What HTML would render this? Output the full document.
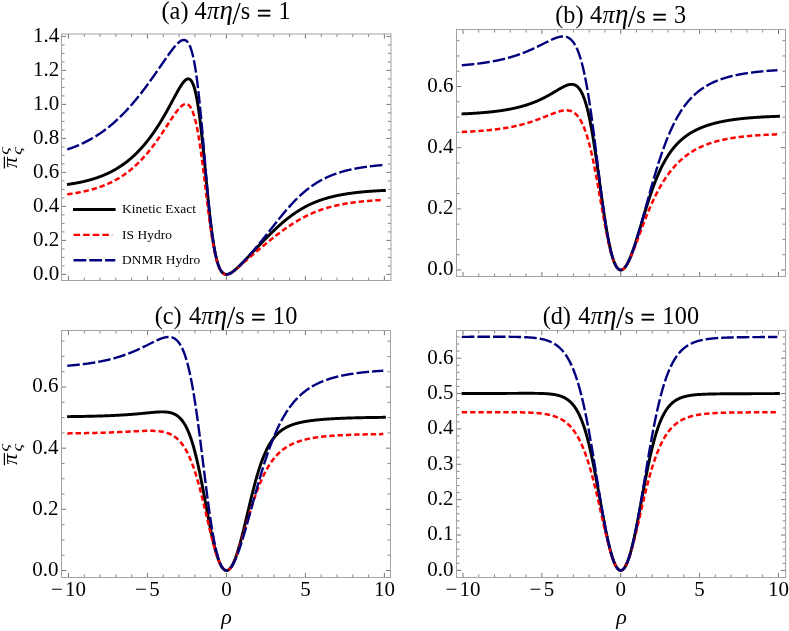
<!DOCTYPE html>
<html><head><meta charset="utf-8"><title>Gubser flow: shear stress comparison</title>
<style>
html,body{margin:0;padding:0;background:#fff;}
body{width:789px;height:631px;overflow:hidden;}
svg{display:block;will-change:transform;}
svg text{font-family:"Liberation Serif",serif;fill:#000;}
</style></head><body>
<svg width="789" height="631" viewBox="0 0 789 631">
<rect width="789" height="631" fill="#fff"/>
<g>
<clipPath id="cpa"><rect x="61.50" y="34.00" width="329.50" height="246.50"/></clipPath>
<g clip-path="url(#cpa)" fill="none" stroke-linejoin="round">
<path d="M67.03 184.52 L67.42 184.46 L67.80 184.41 L68.19 184.35 L68.58 184.30 L68.96 184.24 L69.35 184.18 L69.74 184.13 L70.12 184.07 L70.51 184.01 L70.90 183.95 L71.28 183.89 L71.67 183.82 L72.06 183.76 L72.44 183.70 L72.83 183.64 L73.22 183.57 L73.61 183.51 L73.99 183.44 L74.38 183.37 L74.77 183.30 L75.15 183.24 L75.54 183.17 L75.93 183.10 L76.31 183.03 L76.70 182.95 L77.09 182.88 L77.47 182.81 L77.86 182.73 L78.25 182.66 L78.63 182.58 L79.02 182.50 L79.41 182.43 L79.79 182.35 L80.18 182.27 L80.57 182.19 L80.95 182.10 L81.34 182.02 L81.73 181.94 L82.11 181.85 L82.50 181.77 L82.89 181.68 L83.27 181.59 L83.66 181.51 L84.05 181.42 L84.43 181.32 L84.82 181.23 L85.21 181.14 L85.59 181.05 L85.98 180.95 L86.37 180.85 L86.75 180.76 L87.14 180.66 L87.53 180.56 L87.91 180.46 L88.30 180.36 L88.69 180.25 L89.07 180.15 L89.46 180.04 L89.85 179.94 L90.23 179.83 L90.62 179.72 L91.01 179.61 L91.39 179.50 L91.78 179.38 L92.17 179.27 L92.55 179.15 L92.94 179.04 L93.33 178.92 L93.71 178.80 L94.10 178.68 L94.49 178.56 L94.87 178.43 L95.26 178.31 L95.65 178.18 L96.03 178.05 L96.42 177.92 L96.81 177.79 L97.20 177.66 L97.58 177.53 L97.97 177.39 L98.36 177.25 L98.74 177.11 L99.13 176.97 L99.52 176.83 L99.90 176.69 L100.29 176.54 L100.68 176.40 L101.06 176.25 L101.45 176.10 L101.84 175.95 L102.22 175.79 L102.61 175.64 L103.00 175.48 L103.38 175.32 L103.77 175.16 L104.16 175.00 L104.54 174.84 L104.93 174.67 L105.32 174.51 L105.70 174.34 L106.09 174.17 L106.48 173.99 L106.86 173.82 L107.25 173.64 L107.64 173.46 L108.02 173.28 L108.41 173.10 L108.80 172.91 L109.18 172.73 L109.57 172.54 L109.96 172.35 L110.34 172.15 L110.73 171.96 L111.12 171.76 L111.50 171.56 L111.89 171.36 L112.28 171.16 L112.66 170.95 L113.05 170.74 L113.44 170.53 L113.82 170.32 L114.21 170.11 L114.60 169.89 L114.98 169.67 L115.37 169.45 L115.76 169.22 L116.14 169.00 L116.53 168.77 L116.92 168.54 L117.30 168.30 L117.69 168.07 L118.08 167.83 L118.46 167.59 L118.85 167.34 L119.24 167.10 L119.63 166.85 L120.01 166.60 L120.40 166.35 L120.79 166.09 L121.17 165.83 L121.56 165.57 L121.95 165.30 L122.33 165.04 L122.72 164.77 L123.11 164.49 L123.49 164.22 L123.88 163.94 L124.27 163.66 L124.65 163.38 L125.04 163.09 L125.43 162.80 L125.81 162.51 L126.20 162.21 L126.59 161.91 L126.97 161.61 L127.36 161.31 L127.75 161.00 L128.13 160.69 L128.52 160.38 L128.91 160.06 L129.29 159.74 L129.68 159.42 L130.07 159.09 L130.45 158.76 L130.84 158.43 L131.23 158.10 L131.61 157.76 L132.00 157.42 L132.39 157.07 L132.77 156.72 L133.16 156.37 L133.55 156.02 L133.93 155.66 L134.32 155.30 L134.71 154.93 L135.09 154.57 L135.48 154.19 L135.87 153.82 L136.25 153.44 L136.64 153.06 L137.03 152.67 L137.41 152.28 L137.80 151.89 L138.19 151.49 L138.57 151.09 L138.96 150.69 L139.35 150.28 L139.73 149.87 L140.12 149.46 L140.51 149.04 L140.89 148.62 L141.28 148.19 L141.67 147.76 L142.05 147.33 L142.44 146.89 L142.83 146.45 L143.22 146.01 L143.60 145.56 L143.99 145.11 L144.38 144.65 L144.76 144.19 L145.15 143.73 L145.54 143.26 L145.92 142.79 L146.31 142.31 L146.70 141.83 L147.08 141.35 L147.47 140.86 L147.86 140.37 L148.24 139.87 L148.63 139.37 L149.02 138.87 L149.40 138.36 L149.79 137.85 L150.18 137.33 L150.56 136.81 L150.95 136.29 L151.34 135.76 L151.72 135.23 L152.11 134.69 L152.50 134.15 L152.88 133.61 L153.27 133.06 L153.66 132.50 L154.04 131.94 L154.43 131.38 L154.82 130.82 L155.20 130.25 L155.59 129.67 L155.98 129.09 L156.36 128.51 L156.75 127.92 L157.14 127.33 L157.52 126.74 L157.91 126.14 L158.30 125.53 L158.68 124.92 L159.07 124.31 L159.46 123.69 L159.84 123.07 L160.23 122.45 L160.62 121.82 L161.00 121.19 L161.39 120.55 L161.78 119.91 L162.16 119.26 L162.55 118.61 L162.94 117.96 L163.32 117.30 L163.71 116.64 L164.10 115.97 L164.48 115.31 L164.87 114.63 L165.26 113.96 L165.65 113.28 L166.03 112.59 L166.42 111.91 L166.81 111.22 L167.19 110.53 L167.58 109.83 L167.97 109.13 L168.35 108.43 L168.74 107.72 L169.13 107.02 L169.51 106.31 L169.90 105.60 L170.29 104.88 L170.67 104.17 L171.06 103.45 L171.45 102.73 L171.83 102.01 L172.22 101.29 L172.61 100.57 L172.99 99.85 L173.38 99.13 L173.77 98.40 L174.15 97.68 L174.54 96.96 L174.93 96.25 L175.31 95.53 L175.70 94.82 L176.09 94.11 L176.47 93.40 L176.86 92.70 L177.25 92.00 L177.63 91.31 L178.02 90.62 L178.41 89.95 L178.79 89.28 L179.18 88.61 L179.57 87.96 L179.95 87.32 L180.34 86.69 L180.73 86.07 L181.11 85.47 L181.50 84.88 L181.89 84.31 L182.27 83.76 L182.66 83.22 L183.05 82.71 L183.43 82.22 L183.82 81.75 L184.21 81.31 L184.59 80.90 L184.98 80.52 L185.37 80.17 L185.75 79.86 L186.14 79.58 L186.53 79.34 L186.91 79.15 L187.30 79.00 L187.69 78.90 L188.07 78.84 L188.46 78.85 L188.85 78.90 L189.24 79.02 L189.62 79.21 L190.01 79.45 L190.40 79.77 L190.78 80.17 L191.17 80.64 L191.56 81.19 L191.94 81.83 L192.33 82.56 L192.72 83.38 L193.10 84.30 L193.49 85.31 L193.88 86.43 L194.26 87.66 L194.65 89.00 L195.04 90.46 L195.42 92.03 L195.81 93.72 L196.20 95.53 L196.58 97.47 L196.97 99.53 L197.36 101.72 L197.74 104.03 L198.13 106.48 L198.52 109.05 L198.90 111.74 L199.29 114.57 L199.68 117.51 L200.06 120.57 L200.45 123.75 L200.84 127.04 L201.22 130.44 L201.61 133.93 L202.00 137.52 L202.38 141.20 L202.77 144.95 L203.16 148.77 L203.54 152.66 L203.93 156.59 L204.32 160.57 L204.70 164.58 L205.09 168.61 L205.48 172.65 L205.86 176.69 L206.25 180.72 L206.64 184.73 L207.02 188.71 L207.41 192.65 L207.80 196.54 L208.18 200.37 L208.57 204.13 L208.96 207.82 L209.34 211.43 L209.73 214.95 L210.12 218.37 L210.50 221.69 L210.89 224.91 L211.28 228.02 L211.67 231.02 L212.05 233.90 L212.44 236.67 L212.83 239.32 L213.21 241.86 L213.60 244.28 L213.99 246.58 L214.37 248.77 L214.76 250.84 L215.15 252.80 L215.53 254.65 L215.92 256.40 L216.31 258.03 L216.69 259.57 L217.08 261.01 L217.47 262.35 L217.85 263.60 L218.24 264.76 L218.63 265.84 L219.01 266.83 L219.40 267.75 L219.79 268.59 L220.17 269.36 L220.56 270.06 L220.95 270.69 L221.33 271.27 L221.72 271.78 L222.11 272.24 L222.49 272.65 L222.88 273.01 L223.27 273.32 L223.65 273.58 L224.04 273.81 L224.43 273.99 L224.81 274.14 L225.20 274.25 L225.59 274.33 L225.97 274.38 L226.36 274.40 L226.75 274.39 L227.13 274.36 L227.52 274.30 L227.91 274.21 L228.29 274.11 L228.68 273.99 L229.07 273.84 L229.45 273.68 L229.84 273.51 L230.23 273.31 L230.61 273.10 L231.00 272.88 L231.39 272.65 L231.77 272.40 L232.16 272.14 L232.55 271.87 L232.93 271.60 L233.32 271.31 L233.71 271.01 L234.10 270.70 L234.48 270.39 L234.87 270.07 L235.26 269.74 L235.64 269.41 L236.03 269.07 L236.42 268.73 L236.80 268.38 L237.19 268.02 L237.58 267.66 L237.96 267.30 L238.35 266.93 L238.74 266.56 L239.12 266.19 L239.51 265.81 L239.90 265.43 L240.28 265.05 L240.67 264.66 L241.06 264.28 L241.44 263.89 L241.83 263.50 L242.22 263.10 L242.60 262.71 L242.99 262.31 L243.38 261.91 L243.76 261.51 L244.15 261.11 L244.54 260.71 L244.92 260.31 L245.31 259.91 L245.70 259.50 L246.08 259.10 L246.47 258.69 L246.86 258.29 L247.24 257.88 L247.63 257.47 L248.02 257.06 L248.40 256.66 L248.79 256.25 L249.18 255.84 L249.56 255.43 L249.95 255.02 L250.34 254.61 L250.72 254.21 L251.11 253.80 L251.50 253.39 L251.88 252.98 L252.27 252.57 L252.66 252.16 L253.04 251.75 L253.43 251.34 L253.82 250.94 L254.20 250.53 L254.59 250.12 L254.98 249.71 L255.36 249.30 L255.75 248.90 L256.14 248.49 L256.52 248.08 L256.91 247.68 L257.30 247.27 L257.69 246.87 L258.07 246.46 L258.46 246.06 L258.85 245.65 L259.23 245.25 L259.62 244.84 L260.01 244.44 L260.39 244.04 L260.78 243.64 L261.17 243.24 L261.55 242.84 L261.94 242.43 L262.33 242.04 L262.71 241.64 L263.10 241.24 L263.49 240.84 L263.87 240.44 L264.26 240.05 L264.65 239.65 L265.03 239.26 L265.42 238.87 L265.81 238.47 L266.19 238.08 L266.58 237.69 L266.97 237.30 L267.35 236.91 L267.74 236.52 L268.13 236.14 L268.51 235.75 L268.90 235.36 L269.29 234.98 L269.67 234.60 L270.06 234.21 L270.45 233.83 L270.83 233.45 L271.22 233.08 L271.61 232.70 L271.99 232.32 L272.38 231.95 L272.77 231.58 L273.15 231.20 L273.54 230.83 L273.93 230.46 L274.31 230.10 L274.70 229.73 L275.09 229.36 L275.47 229.00 L275.86 228.64 L276.25 228.28 L276.63 227.92 L277.02 227.56 L277.41 227.21 L277.79 226.85 L278.18 226.50 L278.57 226.15 L278.95 225.80 L279.34 225.45 L279.73 225.11 L280.12 224.77 L280.50 224.42 L280.89 224.08 L281.28 223.74 L281.66 223.41 L282.05 223.07 L282.44 222.74 L282.82 222.41 L283.21 222.08 L283.60 221.75 L283.98 221.43 L284.37 221.11 L284.76 220.79 L285.14 220.47 L285.53 220.15 L285.92 219.84 L286.30 219.52 L286.69 219.21 L287.08 218.90 L287.46 218.60 L287.85 218.29 L288.24 217.99 L288.62 217.69 L289.01 217.39 L289.40 217.09 L289.78 216.80 L290.17 216.51 L290.56 216.22 L290.94 215.93 L291.33 215.65 L291.72 215.36 L292.10 215.08 L292.49 214.80 L292.88 214.53 L293.26 214.25 L293.65 213.98 L294.04 213.71 L294.42 213.44 L294.81 213.18 L295.20 212.91 L295.58 212.65 L295.97 212.39 L296.36 212.14 L296.74 211.88 L297.13 211.63 L297.52 211.38 L297.90 211.13 L298.29 210.89 L298.68 210.64 L299.06 210.40 L299.45 210.16 L299.84 209.92 L300.22 209.69 L300.61 209.46 L301.00 209.23 L301.38 209.00 L301.77 208.77 L302.16 208.55 L302.54 208.32 L302.93 208.10 L303.32 207.89 L303.71 207.67 L304.09 207.46 L304.48 207.25 L304.87 207.04 L305.25 206.83 L305.64 206.62 L306.03 206.42 L306.41 206.22 L306.80 206.02 L307.19 205.82 L307.57 205.63 L307.96 205.43 L308.35 205.24 L308.73 205.05 L309.12 204.86 L309.51 204.68 L309.89 204.50 L310.28 204.31 L310.67 204.13 L311.05 203.96 L311.44 203.78 L311.83 203.61 L312.21 203.43 L312.60 203.26 L312.99 203.09 L313.37 202.93 L313.76 202.76 L314.15 202.60 L314.53 202.44 L314.92 202.28 L315.31 202.12 L315.69 201.97 L316.08 201.81 L316.47 201.66 L316.85 201.51 L317.24 201.36 L317.63 201.21 L318.01 201.06 L318.40 200.92 L318.79 200.78 L319.17 200.64 L319.56 200.50 L319.95 200.36 L320.33 200.22 L320.72 200.09 L321.11 199.95 L321.49 199.82 L321.88 199.69 L322.27 199.56 L322.65 199.43 L323.04 199.31 L323.43 199.18 L323.81 199.06 L324.20 198.94 L324.59 198.82 L324.97 198.70 L325.36 198.58 L325.75 198.47 L326.14 198.35 L326.52 198.24 L326.91 198.13 L327.30 198.01 L327.68 197.91 L328.07 197.80 L328.46 197.69 L328.84 197.58 L329.23 197.48 L329.62 197.38 L330.00 197.27 L330.39 197.17 L330.78 197.07 L331.16 196.98 L331.55 196.88 L331.94 196.78 L332.32 196.69 L332.71 196.59 L333.10 196.50 L333.48 196.41 L333.87 196.32 L334.26 196.23 L334.64 196.14 L335.03 196.05 L335.42 195.97 L335.80 195.88 L336.19 195.80 L336.58 195.72 L336.96 195.63 L337.35 195.55 L337.74 195.47 L338.12 195.39 L338.51 195.31 L338.90 195.24 L339.28 195.16 L339.67 195.08 L340.06 195.01 L340.44 194.94 L340.83 194.86 L341.22 194.79 L341.60 194.72 L341.99 194.65 L342.38 194.58 L342.76 194.51 L343.15 194.44 L343.54 194.38 L343.92 194.31 L344.31 194.25 L344.70 194.18 L345.08 194.12 L345.47 194.06 L345.86 193.99 L346.24 193.93 L346.63 193.87 L347.02 193.81 L347.40 193.75 L347.79 193.69 L348.18 193.64 L348.56 193.58 L348.95 193.52 L349.34 193.47 L349.73 193.41 L350.11 193.36 L350.50 193.30 L350.89 193.25 L351.27 193.20 L351.66 193.15 L352.05 193.10 L352.43 193.05 L352.82 193.00 L353.21 192.95 L353.59 192.90 L353.98 192.85 L354.37 192.80 L354.75 192.76 L355.14 192.71 L355.53 192.66 L355.91 192.62 L356.30 192.57 L356.69 192.53 L357.07 192.49 L357.46 192.44 L357.85 192.40 L358.23 192.36 L358.62 192.32 L359.01 192.28 L359.39 192.24 L359.78 192.20 L360.17 192.16 L360.55 192.12 L360.94 192.08 L361.33 192.04 L361.71 192.00 L362.10 191.97 L362.49 191.93 L362.87 191.89 L363.26 191.86 L363.65 191.82 L364.03 191.79 L364.42 191.75 L364.81 191.72 L365.19 191.69 L365.58 191.65 L365.97 191.62 L366.35 191.59 L366.74 191.56 L367.13 191.53 L367.51 191.49 L367.90 191.46 L368.29 191.43 L368.67 191.40 L369.06 191.37 L369.45 191.34 L369.83 191.31 L370.22 191.29 L370.61 191.26 L370.99 191.23 L371.38 191.20 L371.77 191.18 L372.16 191.15 L372.54 191.12 L372.93 191.10 L373.32 191.07 L373.70 191.04 L374.09 191.02 L374.48 190.99 L374.86 190.97 L375.25 190.94 L375.64 190.92 L376.02 190.90 L376.41 190.87 L376.80 190.85 L377.18 190.83 L377.57 190.80 L377.96 190.78 L378.34 190.76 L378.73 190.74 L379.12 190.72 L379.50 190.70 L379.89 190.67 L380.28 190.65 L380.66 190.63 L381.05 190.61 L381.44 190.59 L381.82 190.57 L382.21 190.55 L382.60 190.53 L382.98 190.52 L383.37 190.50 L383.76 190.48 L384.14 190.46 L384.53 190.44 L384.92 190.42 L385.30 190.41 L385.69 190.39 L385.82 190.38" stroke="#000" stroke-width="2.95"/>
<path d="M67.22 194.31 L67.71 194.25 L68.19 194.18 L68.67 194.12 L69.16 194.05 L69.64 193.99 L70.12 193.92 L70.61 193.85 L71.09 193.78 L71.57 193.71 L72.06 193.63 L72.54 193.56 L73.02 193.49 L73.51 193.41 L73.99 193.33 L74.48 193.25 L74.96 193.17 L75.44 193.09 L75.93 193.01 L76.41 192.93 L76.89 192.85 L77.38 192.76 L77.86 192.67 L78.34 192.58 L78.83 192.50 L79.31 192.40 L79.79 192.31 L80.28 192.22 L80.76 192.12 L81.24 192.03 L81.73 191.93 L82.21 191.83 L82.69 191.73 L83.18 191.63 L83.66 191.52 L84.14 191.42 L84.63 191.31 L85.11 191.20 L85.59 191.09 L86.08 190.98 L86.56 190.87 L87.04 190.75 L87.53 190.64 L88.01 190.52 L88.49 190.40 L88.98 190.28 L89.46 190.15 L89.94 190.03 L90.43 189.90 L90.91 189.77 L91.39 189.64 L91.88 189.50 L92.36 189.37 L92.84 189.23 L93.33 189.09 L93.81 188.95 L94.29 188.81 L94.78 188.66 L95.26 188.52 L95.74 188.37 L96.23 188.22 L96.71 188.06 L97.20 187.91 L97.68 187.75 L98.16 187.59 L98.65 187.42 L99.13 187.26 L99.61 187.09 L100.10 186.92 L100.58 186.75 L101.06 186.58 L101.55 186.40 L102.03 186.22 L102.51 186.04 L103.00 185.85 L103.48 185.66 L103.96 185.47 L104.45 185.28 L104.93 185.08 L105.41 184.89 L105.90 184.69 L106.38 184.48 L106.86 184.27 L107.35 184.07 L107.83 183.85 L108.31 183.64 L108.80 183.42 L109.28 183.20 L109.76 182.97 L110.25 182.75 L110.73 182.51 L111.21 182.28 L111.70 182.04 L112.18 181.80 L112.66 181.56 L113.15 181.31 L113.63 181.06 L114.11 180.81 L114.60 180.55 L115.08 180.29 L115.56 180.03 L116.05 179.76 L116.53 179.49 L117.01 179.21 L117.50 178.94 L117.98 178.65 L118.46 178.37 L118.95 178.08 L119.43 177.78 L119.92 177.49 L120.40 177.19 L120.88 176.88 L121.37 176.57 L121.85 176.26 L122.33 175.94 L122.82 175.62 L123.30 175.30 L123.78 174.97 L124.27 174.63 L124.75 174.30 L125.23 173.95 L125.72 173.61 L126.20 173.26 L126.68 172.90 L127.17 172.54 L127.65 172.18 L128.13 171.81 L128.62 171.44 L129.10 171.06 L129.58 170.68 L130.07 170.29 L130.55 169.90 L131.03 169.50 L131.52 169.10 L132.00 168.69 L132.48 168.28 L132.97 167.87 L133.45 167.45 L133.93 167.02 L134.42 166.59 L134.90 166.16 L135.38 165.72 L135.87 165.27 L136.35 164.82 L136.83 164.36 L137.32 163.90 L137.80 163.44 L138.28 162.97 L138.77 162.49 L139.25 162.01 L139.73 161.52 L140.22 161.03 L140.70 160.53 L141.18 160.03 L141.67 159.52 L142.15 159.00 L142.64 158.49 L143.12 157.96 L143.60 157.43 L144.09 156.89 L144.57 156.35 L145.05 155.81 L145.54 155.26 L146.02 154.70 L146.50 154.13 L146.99 153.57 L147.47 152.99 L147.95 152.41 L148.44 151.83 L148.92 151.24 L149.40 150.64 L149.89 150.04 L150.37 149.43 L150.85 148.82 L151.34 148.20 L151.82 147.58 L152.30 146.95 L152.79 146.32 L153.27 145.68 L153.75 145.04 L154.24 144.39 L154.72 143.73 L155.20 143.07 L155.69 142.41 L156.17 141.74 L156.65 141.07 L157.14 140.39 L157.62 139.70 L158.10 139.02 L158.59 138.32 L159.07 137.63 L159.55 136.93 L160.04 136.22 L160.52 135.51 L161.00 134.80 L161.49 134.08 L161.97 133.36 L162.45 132.64 L162.94 131.91 L163.42 131.18 L163.90 130.45 L164.39 129.72 L164.87 128.98 L165.36 128.24 L165.84 127.50 L166.32 126.76 L166.81 126.02 L167.29 125.28 L167.77 124.53 L168.26 123.79 L168.74 123.05 L169.22 122.30 L169.71 121.56 L170.19 120.82 L170.67 120.09 L171.16 119.36 L171.64 118.63 L172.12 117.90 L172.61 117.18 L173.09 116.47 L173.57 115.76 L174.06 115.06 L174.54 114.37 L175.02 113.69 L175.51 113.02 L175.99 112.36 L176.47 111.71 L176.96 111.08 L177.44 110.46 L177.92 109.85 L178.41 109.27 L178.89 108.71 L179.37 108.16 L179.86 107.64 L180.34 107.15 L180.82 106.68 L181.31 106.24 L181.79 105.83 L182.27 105.46 L182.76 105.12 L183.24 104.82 L183.72 104.56 L184.21 104.35 L184.69 104.18 L185.17 104.06 L185.66 104.00 L186.14 104.00 L186.62 104.05 L187.11 104.17 L187.59 104.36 L188.07 104.63 L188.56 104.97 L189.04 105.39 L189.53 105.89 L190.01 106.49 L190.49 107.18 L190.98 107.97 L191.46 108.86 L191.94 109.86 L192.43 110.98 L192.91 112.20 L193.39 113.56 L193.88 115.03 L194.36 116.63 L194.84 118.37 L195.33 120.23 L195.81 122.24 L196.29 124.38 L196.78 126.66 L197.26 129.09 L197.74 131.65 L198.23 134.35 L198.71 137.19 L199.19 140.16 L199.68 143.26 L200.16 146.49 L200.64 149.84 L201.13 153.30 L201.61 156.87 L202.09 160.53 L202.58 164.28 L203.06 168.10 L203.54 172.00 L204.03 175.94 L204.51 179.93 L204.99 183.94 L205.48 187.97 L205.96 192.00 L206.44 196.02 L206.93 200.02 L207.41 203.97 L207.89 207.88 L208.38 211.72 L208.86 215.49 L209.34 219.18 L209.83 222.77 L210.31 226.26 L210.79 229.64 L211.28 232.90 L211.76 236.03 L212.25 239.04 L212.73 241.92 L213.21 244.66 L213.70 247.26 L214.18 249.73 L214.66 252.05 L215.15 254.24 L215.63 256.30 L216.11 258.22 L216.60 260.00 L217.08 261.66 L217.56 263.19 L218.05 264.60 L218.53 265.90 L219.01 267.08 L219.50 268.15 L219.98 269.12 L220.46 269.99 L220.95 270.77 L221.43 271.45 L221.91 272.06 L222.40 272.58 L222.88 273.02 L223.36 273.40 L223.85 273.71 L224.33 273.95 L224.81 274.14 L225.30 274.28 L225.78 274.36 L226.26 274.40 L226.75 274.39 L227.23 274.34 L227.71 274.26 L228.20 274.14 L228.68 273.99 L229.16 273.81 L229.65 273.60 L230.13 273.37 L230.61 273.12 L231.10 272.85 L231.58 272.56 L232.06 272.25 L232.55 271.92 L233.03 271.59 L233.51 271.24 L234.00 270.88 L234.48 270.51 L234.97 270.13 L235.45 269.74 L235.93 269.35 L236.42 268.95 L236.90 268.54 L237.38 268.14 L237.87 267.72 L238.35 267.31 L238.83 266.89 L239.32 266.46 L239.80 266.04 L240.28 265.62 L240.77 265.19 L241.25 264.76 L241.73 264.33 L242.22 263.91 L242.70 263.48 L243.18 263.05 L243.67 262.62 L244.15 262.19 L244.63 261.76 L245.12 261.34 L245.60 260.91 L246.08 260.48 L246.57 260.06 L247.05 259.63 L247.53 259.21 L248.02 258.79 L248.50 258.37 L248.98 257.94 L249.47 257.52 L249.95 257.11 L250.43 256.69 L250.92 256.27 L251.40 255.85 L251.88 255.44 L252.37 255.02 L252.85 254.61 L253.33 254.20 L253.82 253.78 L254.30 253.37 L254.78 252.96 L255.27 252.55 L255.75 252.14 L256.23 251.73 L256.72 251.33 L257.20 250.92 L257.69 250.51 L258.17 250.11 L258.65 249.70 L259.14 249.30 L259.62 248.89 L260.10 248.49 L260.59 248.09 L261.07 247.68 L261.55 247.28 L262.04 246.88 L262.52 246.48 L263.00 246.08 L263.49 245.68 L263.97 245.29 L264.45 244.89 L264.94 244.49 L265.42 244.10 L265.90 243.70 L266.39 243.31 L266.87 242.91 L267.35 242.52 L267.84 242.13 L268.32 241.73 L268.80 241.34 L269.29 240.95 L269.77 240.56 L270.25 240.18 L270.74 239.79 L271.22 239.40 L271.70 239.02 L272.19 238.63 L272.67 238.25 L273.15 237.87 L273.64 237.49 L274.12 237.11 L274.60 236.73 L275.09 236.35 L275.57 235.97 L276.05 235.60 L276.54 235.22 L277.02 234.85 L277.50 234.48 L277.99 234.11 L278.47 233.74 L278.95 233.38 L279.44 233.01 L279.92 232.65 L280.41 232.28 L280.89 231.92 L281.37 231.56 L281.86 231.21 L282.34 230.85 L282.82 230.50 L283.31 230.15 L283.79 229.80 L284.27 229.45 L284.76 229.10 L285.24 228.76 L285.72 228.42 L286.21 228.08 L286.69 227.74 L287.17 227.40 L287.66 227.07 L288.14 226.73 L288.62 226.40 L289.11 226.08 L289.59 225.75 L290.07 225.43 L290.56 225.11 L291.04 224.79 L291.52 224.47 L292.01 224.16 L292.49 223.84 L292.97 223.53 L293.46 223.23 L293.94 222.92 L294.42 222.62 L294.91 222.32 L295.39 222.02 L295.87 221.73 L296.36 221.43 L296.84 221.14 L297.32 220.85 L297.81 220.57 L298.29 220.29 L298.77 220.00 L299.26 219.73 L299.74 219.45 L300.22 219.18 L300.71 218.91 L301.19 218.64 L301.67 218.37 L302.16 218.11 L302.64 217.85 L303.13 217.59 L303.61 217.34 L304.09 217.09 L304.58 216.84 L305.06 216.59 L305.54 216.34 L306.03 216.10 L306.51 215.86 L306.99 215.62 L307.48 215.39 L307.96 215.16 L308.44 214.93 L308.93 214.70 L309.41 214.47 L309.89 214.25 L310.38 214.03 L310.86 213.81 L311.34 213.60 L311.83 213.39 L312.31 213.18 L312.79 212.97 L313.28 212.76 L313.76 212.56 L314.24 212.36 L314.73 212.16 L315.21 211.97 L315.69 211.77 L316.18 211.58 L316.66 211.39 L317.14 211.21 L317.63 211.02 L318.11 210.84 L318.59 210.66 L319.08 210.48 L319.56 210.31 L320.04 210.14 L320.53 209.96 L321.01 209.80 L321.49 209.63 L321.98 209.47 L322.46 209.30 L322.94 209.14 L323.43 208.99 L323.91 208.83 L324.39 208.68 L324.88 208.52 L325.36 208.37 L325.84 208.23 L326.33 208.08 L326.81 207.94 L327.30 207.79 L327.78 207.65 L328.26 207.52 L328.75 207.38 L329.23 207.25 L329.71 207.11 L330.20 206.98 L330.68 206.85 L331.16 206.73 L331.65 206.60 L332.13 206.48 L332.61 206.36 L333.10 206.23 L333.58 206.12 L334.06 206.00 L334.55 205.88 L335.03 205.77 L335.51 205.66 L336.00 205.55 L336.48 205.44 L336.96 205.33 L337.45 205.23 L337.93 205.12 L338.41 205.02 L338.90 204.92 L339.38 204.82 L339.86 204.72 L340.35 204.62 L340.83 204.53 L341.31 204.43 L341.80 204.34 L342.28 204.25 L342.76 204.16 L343.25 204.07 L343.73 203.98 L344.21 203.90 L344.70 203.81 L345.18 203.73 L345.66 203.65 L346.15 203.56 L346.63 203.48 L347.11 203.41 L347.60 203.33 L348.08 203.25 L348.56 203.18 L349.05 203.10 L349.53 203.03 L350.02 202.96 L350.50 202.89 L350.98 202.82 L351.47 202.75 L351.95 202.68 L352.43 202.61 L352.92 202.55 L353.40 202.48 L353.88 202.42 L354.37 202.36 L354.85 202.29 L355.33 202.23 L355.82 202.17 L356.30 202.11 L356.78 202.06 L357.27 202.00 L357.75 201.94 L358.23 201.89 L358.72 201.83 L359.20 201.78 L359.68 201.72 L360.17 201.67 L360.65 201.62 L361.13 201.57 L361.62 201.52 L362.10 201.47 L362.58 201.42 L363.07 201.37 L363.55 201.33 L364.03 201.28 L364.52 201.24 L365.00 201.19 L365.48 201.15 L365.97 201.10 L366.45 201.06 L366.93 201.02 L367.42 200.98 L367.90 200.94 L368.38 200.90 L368.87 200.86 L369.35 200.82 L369.83 200.78 L370.32 200.74 L370.80 200.71 L371.28 200.67 L371.77 200.63 L372.25 200.60 L372.74 200.56 L373.22 200.53 L373.70 200.49 L374.19 200.46 L374.67 200.43 L375.15 200.40 L375.64 200.36 L376.12 200.33 L376.60 200.30 L377.09 200.27 L377.57 200.24 L378.05 200.21 L378.54 200.18 L379.02 200.16 L379.50 200.13 L379.99 200.10 L380.47 200.07 L380.95 200.05 L381.44 200.02 L381.92 199.99 L382.40 199.97 L382.89 199.94 L383.29 199.92" stroke="#ff0000" stroke-width="2.5" stroke-dasharray="5.4 2.9"/>
<path d="M67.22 149.45 L67.71 149.29 L68.19 149.13 L68.67 148.96 L69.16 148.80 L69.64 148.63 L70.12 148.46 L70.61 148.29 L71.09 148.12 L71.57 147.94 L72.06 147.76 L72.54 147.58 L73.02 147.40 L73.51 147.22 L73.99 147.03 L74.48 146.85 L74.96 146.66 L75.44 146.46 L75.93 146.27 L76.41 146.07 L76.89 145.87 L77.38 145.67 L77.86 145.47 L78.34 145.27 L78.83 145.06 L79.31 144.85 L79.79 144.64 L80.28 144.42 L80.76 144.21 L81.24 143.99 L81.73 143.77 L82.21 143.54 L82.69 143.32 L83.18 143.09 L83.66 142.86 L84.14 142.62 L84.63 142.39 L85.11 142.15 L85.59 141.91 L86.08 141.66 L86.56 141.42 L87.04 141.17 L87.53 140.92 L88.01 140.66 L88.49 140.40 L88.98 140.14 L89.46 139.88 L89.94 139.62 L90.43 139.35 L90.91 139.08 L91.39 138.81 L91.88 138.53 L92.36 138.25 L92.84 137.97 L93.33 137.68 L93.81 137.40 L94.29 137.11 L94.78 136.81 L95.26 136.52 L95.74 136.22 L96.23 135.91 L96.71 135.61 L97.20 135.30 L97.68 134.99 L98.16 134.68 L98.65 134.36 L99.13 134.04 L99.61 133.71 L100.10 133.39 L100.58 133.06 L101.06 132.72 L101.55 132.39 L102.03 132.05 L102.51 131.71 L103.00 131.36 L103.48 131.01 L103.96 130.66 L104.45 130.30 L104.93 129.94 L105.41 129.58 L105.90 129.22 L106.38 128.85 L106.86 128.47 L107.35 128.10 L107.83 127.72 L108.31 127.34 L108.80 126.95 L109.28 126.56 L109.76 126.17 L110.25 125.77 L110.73 125.37 L111.21 124.97 L111.70 124.56 L112.18 124.15 L112.66 123.74 L113.15 123.32 L113.63 122.90 L114.11 122.48 L114.60 122.05 L115.08 121.62 L115.56 121.19 L116.05 120.75 L116.53 120.31 L117.01 119.86 L117.50 119.41 L117.98 118.96 L118.46 118.50 L118.95 118.04 L119.43 117.58 L119.92 117.11 L120.40 116.64 L120.88 116.17 L121.37 115.69 L121.85 115.21 L122.33 114.72 L122.82 114.23 L123.30 113.74 L123.78 113.24 L124.27 112.74 L124.75 112.24 L125.23 111.73 L125.72 111.22 L126.20 110.71 L126.68 110.19 L127.17 109.67 L127.65 109.14 L128.13 108.62 L128.62 108.08 L129.10 107.55 L129.58 107.01 L130.07 106.47 L130.55 105.92 L131.03 105.37 L131.52 104.82 L132.00 104.26 L132.48 103.70 L132.97 103.13 L133.45 102.57 L133.93 102.00 L134.42 101.42 L134.90 100.84 L135.38 100.26 L135.87 99.68 L136.35 99.09 L136.83 98.50 L137.32 97.90 L137.80 97.31 L138.28 96.71 L138.77 96.10 L139.25 95.49 L139.73 94.88 L140.22 94.27 L140.70 93.65 L141.18 93.03 L141.67 92.41 L142.15 91.78 L142.64 91.15 L143.12 90.52 L143.60 89.88 L144.09 89.25 L144.57 88.61 L145.05 87.96 L145.54 87.32 L146.02 86.67 L146.50 86.01 L146.99 85.36 L147.47 84.70 L147.95 84.04 L148.44 83.38 L148.92 82.71 L149.40 82.05 L149.89 81.38 L150.37 80.71 L150.85 80.03 L151.34 79.36 L151.82 78.68 L152.30 78.00 L152.79 77.31 L153.27 76.63 L153.75 75.94 L154.24 75.26 L154.72 74.57 L155.20 73.88 L155.69 73.18 L156.17 72.49 L156.65 71.79 L157.14 71.10 L157.62 70.40 L158.10 69.70 L158.59 69.00 L159.07 68.30 L159.55 67.60 L160.04 66.90 L160.52 66.20 L161.00 65.50 L161.49 64.79 L161.97 64.09 L162.45 63.39 L162.94 62.69 L163.42 61.99 L163.90 61.29 L164.39 60.59 L164.87 59.89 L165.36 59.20 L165.84 58.51 L166.32 57.81 L166.81 57.12 L167.29 56.44 L167.77 55.76 L168.26 55.08 L168.74 54.40 L169.22 53.73 L169.71 53.06 L170.19 52.40 L170.67 51.75 L171.16 51.10 L171.64 50.46 L172.12 49.82 L172.61 49.20 L173.09 48.58 L173.57 47.98 L174.06 47.38 L174.54 46.80 L175.02 46.23 L175.51 45.67 L175.99 45.13 L176.47 44.60 L176.96 44.10 L177.44 43.61 L177.92 43.14 L178.41 42.70 L178.89 42.28 L179.37 41.88 L179.86 41.52 L180.34 41.18 L180.82 40.88 L181.31 40.62 L181.79 40.39 L182.27 40.21 L182.76 40.07 L183.24 39.98 L183.72 39.94 L184.21 39.95 L184.69 40.03 L185.17 40.17 L185.66 40.38 L186.14 40.67 L186.62 41.03 L187.11 41.48 L187.59 42.02 L188.07 42.66 L188.56 43.39 L189.04 44.24 L189.53 45.21 L190.01 46.29 L190.49 47.51 L190.98 48.86 L191.46 50.36 L191.94 52.01 L192.43 53.82 L192.91 55.79 L193.39 57.93 L193.88 60.26 L194.36 62.76 L194.84 65.46 L195.33 68.35 L195.81 71.44 L196.29 74.72 L196.78 78.21 L197.26 81.91 L197.74 85.80 L198.23 89.89 L198.71 94.18 L199.19 98.65 L199.68 103.31 L200.16 108.13 L200.64 113.12 L201.13 118.25 L201.61 123.52 L202.09 128.90 L202.58 134.38 L203.06 139.94 L203.54 145.56 L204.03 151.22 L204.51 156.90 L204.99 162.57 L205.48 168.22 L205.96 173.82 L206.44 179.36 L206.93 184.81 L207.41 190.16 L207.89 195.39 L208.38 200.48 L208.86 205.42 L209.34 210.20 L209.83 214.81 L210.31 219.23 L210.79 223.47 L211.28 227.52 L211.76 231.36 L212.25 235.01 L212.73 238.46 L213.21 241.72 L213.70 244.77 L214.18 247.63 L214.66 250.31 L215.15 252.80 L215.63 255.11 L216.11 257.25 L216.60 259.23 L217.08 261.04 L217.56 262.71 L218.05 264.23 L218.53 265.61 L219.01 266.86 L219.50 267.99 L219.98 269.00 L220.46 269.91 L220.95 270.71 L221.43 271.42 L221.91 272.03 L222.40 272.56 L222.88 273.01 L223.36 273.39 L223.85 273.71 L224.33 273.95 L224.81 274.14 L225.30 274.28 L225.78 274.36 L226.26 274.40 L226.75 274.39 L227.23 274.34 L227.71 274.26 L228.20 274.14 L228.68 273.99 L229.16 273.81 L229.65 273.60 L230.13 273.37 L230.61 273.11 L231.10 272.83 L231.58 272.54 L232.06 272.22 L232.55 271.89 L233.03 271.54 L233.51 271.17 L234.00 270.80 L234.48 270.41 L234.97 270.01 L235.45 269.60 L235.93 269.18 L236.42 268.75 L236.90 268.31 L237.38 267.86 L237.87 267.41 L238.35 266.95 L238.83 266.48 L239.32 266.01 L239.80 265.53 L240.28 265.05 L240.77 264.56 L241.25 264.07 L241.73 263.57 L242.22 263.07 L242.70 262.57 L243.18 262.06 L243.67 261.55 L244.15 261.03 L244.63 260.52 L245.12 259.99 L245.60 259.47 L246.08 258.94 L246.57 258.41 L247.05 257.88 L247.53 257.35 L248.02 256.81 L248.50 256.27 L248.98 255.73 L249.47 255.18 L249.95 254.64 L250.43 254.09 L250.92 253.54 L251.40 252.98 L251.88 252.43 L252.37 251.87 L252.85 251.31 L253.33 250.75 L253.82 250.18 L254.30 249.62 L254.78 249.05 L255.27 248.48 L255.75 247.91 L256.23 247.33 L256.72 246.75 L257.20 246.18 L257.69 245.59 L258.17 245.01 L258.65 244.43 L259.14 243.84 L259.62 243.25 L260.10 242.66 L260.59 242.07 L261.07 241.48 L261.55 240.88 L262.04 240.29 L262.52 239.69 L263.00 239.09 L263.49 238.49 L263.97 237.89 L264.45 237.29 L264.94 236.68 L265.42 236.08 L265.90 235.47 L266.39 234.86 L266.87 234.25 L267.35 233.64 L267.84 233.03 L268.32 232.42 L268.80 231.81 L269.29 231.20 L269.77 230.59 L270.25 229.98 L270.74 229.36 L271.22 228.75 L271.70 228.14 L272.19 227.53 L272.67 226.91 L273.15 226.30 L273.64 225.69 L274.12 225.08 L274.60 224.47 L275.09 223.86 L275.57 223.25 L276.05 222.64 L276.54 222.03 L277.02 221.43 L277.50 220.82 L277.99 220.22 L278.47 219.62 L278.95 219.02 L279.44 218.42 L279.92 217.82 L280.41 217.23 L280.89 216.63 L281.37 216.04 L281.86 215.45 L282.34 214.87 L282.82 214.28 L283.31 213.70 L283.79 213.12 L284.27 212.54 L284.76 211.97 L285.24 211.40 L285.72 210.83 L286.21 210.26 L286.69 209.70 L287.17 209.14 L287.66 208.59 L288.14 208.04 L288.62 207.49 L289.11 206.94 L289.59 206.40 L290.07 205.86 L290.56 205.33 L291.04 204.79 L291.52 204.27 L292.01 203.74 L292.49 203.22 L292.97 202.71 L293.46 202.20 L293.94 201.69 L294.42 201.19 L294.91 200.69 L295.39 200.19 L295.87 199.70 L296.36 199.22 L296.84 198.74 L297.32 198.26 L297.81 197.79 L298.29 197.32 L298.77 196.85 L299.26 196.39 L299.74 195.94 L300.22 195.49 L300.71 195.04 L301.19 194.60 L301.67 194.16 L302.16 193.73 L302.64 193.30 L303.13 192.88 L303.61 192.46 L304.09 192.04 L304.58 191.63 L305.06 191.23 L305.54 190.83 L306.03 190.43 L306.51 190.04 L306.99 189.65 L307.48 189.27 L307.96 188.89 L308.44 188.52 L308.93 188.15 L309.41 187.78 L309.89 187.42 L310.38 187.07 L310.86 186.72 L311.34 186.37 L311.83 186.03 L312.31 185.69 L312.79 185.35 L313.28 185.02 L313.76 184.70 L314.24 184.38 L314.73 184.06 L315.21 183.75 L315.69 183.44 L316.18 183.13 L316.66 182.83 L317.14 182.53 L317.63 182.24 L318.11 181.95 L318.59 181.67 L319.08 181.39 L319.56 181.11 L320.04 180.83 L320.53 180.56 L321.01 180.30 L321.49 180.04 L321.98 179.78 L322.46 179.52 L322.94 179.27 L323.43 179.02 L323.91 178.78 L324.39 178.54 L324.88 178.30 L325.36 178.06 L325.84 177.83 L326.33 177.60 L326.81 177.38 L327.30 177.16 L327.78 176.94 L328.26 176.73 L328.75 176.51 L329.23 176.31 L329.71 176.10 L330.20 175.90 L330.68 175.70 L331.16 175.50 L331.65 175.31 L332.13 175.11 L332.61 174.93 L333.10 174.74 L333.58 174.56 L334.06 174.38 L334.55 174.20 L335.03 174.02 L335.51 173.85 L336.00 173.68 L336.48 173.51 L336.96 173.35 L337.45 173.19 L337.93 173.03 L338.41 172.87 L338.90 172.71 L339.38 172.56 L339.86 172.41 L340.35 172.26 L340.83 172.11 L341.31 171.97 L341.80 171.83 L342.28 171.69 L342.76 171.55 L343.25 171.41 L343.73 171.28 L344.21 171.15 L344.70 171.02 L345.18 170.89 L345.66 170.76 L346.15 170.64 L346.63 170.52 L347.11 170.40 L347.60 170.28 L348.08 170.16 L348.56 170.05 L349.05 169.93 L349.53 169.82 L350.02 169.71 L350.50 169.60 L350.98 169.50 L351.47 169.39 L351.95 169.29 L352.43 169.19 L352.92 169.08 L353.40 168.99 L353.88 168.89 L354.37 168.79 L354.85 168.70 L355.33 168.60 L355.82 168.51 L356.30 168.42 L356.78 168.33 L357.27 168.24 L357.75 168.16 L358.23 168.07 L358.72 167.99 L359.20 167.90 L359.68 167.82 L360.17 167.74 L360.65 167.66 L361.13 167.58 L361.62 167.51 L362.10 167.43 L362.58 167.36 L363.07 167.28 L363.55 167.21 L364.03 167.14 L364.52 167.07 L365.00 167.00 L365.48 166.93 L365.97 166.86 L366.45 166.80 L366.93 166.73 L367.42 166.67 L367.90 166.60 L368.38 166.54 L368.87 166.48 L369.35 166.42 L369.83 166.36 L370.32 166.30 L370.80 166.24 L371.28 166.18 L371.77 166.13 L372.25 166.07 L372.74 166.02 L373.22 165.96 L373.70 165.91 L374.19 165.86 L374.67 165.81 L375.15 165.75 L375.64 165.70 L376.12 165.65 L376.60 165.61 L377.09 165.56 L377.57 165.51 L378.05 165.46 L378.54 165.42 L379.02 165.37 L379.50 165.33 L379.99 165.28 L380.47 165.24 L380.95 165.20 L381.44 165.16 L381.92 165.11 L382.40 165.07 L382.89 165.03 L383.29 165.00" stroke="#00007f" stroke-width="2.4" stroke-dasharray="12.6 3"/>
</g>
<path d="M68.45 280.50v-4.6M68.45 34.00v4.6M147.44 280.50v-4.6M147.44 34.00v4.6M226.43 280.50v-4.6M226.43 34.00v4.6M305.41 280.50v-4.6M305.41 34.00v4.6M384.40 280.50v-4.6M384.40 34.00v4.6M61.50 274.40h4.6M391.00 274.40h-4.6M61.50 240.40h4.6M391.00 240.40h-4.6M61.50 206.40h4.6M391.00 206.40h-4.6M61.50 172.40h4.6M391.00 172.40h-4.6M61.50 138.40h4.6M391.00 138.40h-4.6M61.50 104.40h4.6M391.00 104.40h-4.6M61.50 70.40h4.6M391.00 70.40h-4.6M61.50 36.40h4.6M391.00 36.40h-4.6" stroke="#666666" stroke-width="0.9" fill="none"/>
<path d="M84.25 280.50v-3M84.25 34.00v3M100.05 280.50v-3M100.05 34.00v3M115.84 280.50v-3M115.84 34.00v3M131.64 280.50v-3M131.64 34.00v3M163.24 280.50v-3M163.24 34.00v3M179.03 280.50v-3M179.03 34.00v3M194.83 280.50v-3M194.83 34.00v3M210.63 280.50v-3M210.63 34.00v3M242.22 280.50v-3M242.22 34.00v3M258.02 280.50v-3M258.02 34.00v3M273.82 280.50v-3M273.82 34.00v3M289.62 280.50v-3M289.62 34.00v3M321.21 280.50v-3M321.21 34.00v3M337.01 280.50v-3M337.01 34.00v3M352.81 280.50v-3M352.81 34.00v3M368.60 280.50v-3M368.60 34.00v3M61.50 265.90h3M391.00 265.90h-3M61.50 257.40h3M391.00 257.40h-3M61.50 248.90h3M391.00 248.90h-3M61.50 231.90h3M391.00 231.90h-3M61.50 223.40h3M391.00 223.40h-3M61.50 214.90h3M391.00 214.90h-3M61.50 197.90h3M391.00 197.90h-3M61.50 189.40h3M391.00 189.40h-3M61.50 180.90h3M391.00 180.90h-3M61.50 163.90h3M391.00 163.90h-3M61.50 155.40h3M391.00 155.40h-3M61.50 146.90h3M391.00 146.90h-3M61.50 129.90h3M391.00 129.90h-3M61.50 121.40h3M391.00 121.40h-3M61.50 112.90h3M391.00 112.90h-3M61.50 95.90h3M391.00 95.90h-3M61.50 87.40h3M391.00 87.40h-3M61.50 78.90h3M391.00 78.90h-3M61.50 61.90h3M391.00 61.90h-3M61.50 53.40h3M391.00 53.40h-3M61.50 44.90h3M391.00 44.90h-3" stroke="#787878" stroke-width="0.9" fill="none"/>
<rect x="61.50" y="34.00" width="329.50" height="246.50" fill="none" stroke="#a4a4a4" stroke-width="1"/>
<text x="59.20" y="279.80" text-anchor="end" font-size="21">0.0</text>
<text x="59.20" y="245.80" text-anchor="end" font-size="21">0.2</text>
<text x="59.20" y="211.80" text-anchor="end" font-size="21">0.4</text>
<text x="59.20" y="177.80" text-anchor="end" font-size="21">0.6</text>
<text x="59.20" y="143.80" text-anchor="end" font-size="21">0.8</text>
<text x="59.20" y="109.80" text-anchor="end" font-size="21">1.0</text>
<text x="59.20" y="75.80" text-anchor="end" font-size="21">1.2</text>
<text x="59.20" y="41.80" text-anchor="end" font-size="21">1.4</text>
<text y="19.30" font-size="24.3"><tspan x="161.53">(a)</tspan><tspan x="194.58">4</tspan><tspan x="207.05" font-style="italic">π</tspan><tspan x="219.55" font-style="italic" font-size="27">η</tspan><tspan x="232.35" dy="4.2" font-size="30.5">/</tspan><tspan x="240.85" dy="-4.2">s</tspan><tspan x="256.80" dy="2.7" font-size="26" stroke="#000" stroke-width="0.35">=</tspan><tspan x="278.55" dy="-2.7" letter-spacing="0.3">1</tspan></text>
<g transform="translate(16.8 168.05) rotate(-90)">
<text x="0" y="0" font-size="22" font-style="italic">π</text>
<path d="M-0.5 -12.4h12" stroke="#000" stroke-width="1.2" fill="none"/>
<text transform="translate(13.3 -8.0) scale(1.25 1)" font-size="15" font-style="italic">ς</text>
<text transform="translate(13.3 4.8) scale(1.25 1)" font-size="15" font-style="italic">ς</text>
</g>
</g>
<g>
<clipPath id="cpb"><rect x="456.50" y="29.50" width="329.00" height="247.00"/></clipPath>
<g clip-path="url(#cpb)" fill="none" stroke-linejoin="round">
<path d="M461.58 113.93 L461.97 113.91 L462.36 113.89 L462.74 113.88 L463.13 113.86 L463.51 113.84 L463.90 113.82 L464.29 113.81 L464.67 113.79 L465.06 113.77 L465.44 113.75 L465.83 113.73 L466.22 113.71 L466.60 113.70 L466.99 113.68 L467.38 113.66 L467.76 113.64 L468.15 113.62 L468.53 113.60 L468.92 113.58 L469.31 113.56 L469.69 113.53 L470.08 113.51 L470.46 113.49 L470.85 113.47 L471.24 113.45 L471.62 113.43 L472.01 113.40 L472.40 113.38 L472.78 113.36 L473.17 113.33 L473.55 113.31 L473.94 113.29 L474.33 113.26 L474.71 113.24 L475.10 113.21 L475.48 113.19 L475.87 113.16 L476.26 113.14 L476.64 113.11 L477.03 113.08 L477.42 113.06 L477.80 113.03 L478.19 113.00 L478.57 112.97 L478.96 112.95 L479.35 112.92 L479.73 112.89 L480.12 112.86 L480.51 112.83 L480.89 112.80 L481.28 112.77 L481.66 112.74 L482.05 112.71 L482.44 112.68 L482.82 112.65 L483.21 112.61 L483.59 112.58 L483.98 112.55 L484.37 112.51 L484.75 112.48 L485.14 112.45 L485.53 112.41 L485.91 112.38 L486.30 112.34 L486.68 112.31 L487.07 112.27 L487.46 112.23 L487.84 112.20 L488.23 112.16 L488.61 112.12 L489.00 112.08 L489.39 112.04 L489.77 112.00 L490.16 111.96 L490.55 111.92 L490.93 111.88 L491.32 111.84 L491.70 111.80 L492.09 111.76 L492.48 111.71 L492.86 111.67 L493.25 111.63 L493.64 111.58 L494.02 111.54 L494.41 111.49 L494.79 111.44 L495.18 111.40 L495.57 111.35 L495.95 111.30 L496.34 111.25 L496.72 111.20 L497.11 111.15 L497.50 111.10 L497.88 111.05 L498.27 111.00 L498.66 110.95 L499.04 110.90 L499.43 110.84 L499.81 110.79 L500.20 110.74 L500.59 110.68 L500.97 110.62 L501.36 110.57 L501.74 110.51 L502.13 110.45 L502.52 110.39 L502.90 110.33 L503.29 110.27 L503.68 110.21 L504.06 110.15 L504.45 110.09 L504.83 110.03 L505.22 109.96 L505.61 109.90 L505.99 109.83 L506.38 109.77 L506.76 109.70 L507.15 109.63 L507.54 109.56 L507.92 109.49 L508.31 109.42 L508.70 109.35 L509.08 109.28 L509.47 109.21 L509.85 109.13 L510.24 109.06 L510.63 108.98 L511.01 108.91 L511.40 108.83 L511.79 108.75 L512.17 108.67 L512.56 108.59 L512.94 108.51 L513.33 108.43 L513.72 108.34 L514.10 108.26 L514.49 108.18 L514.87 108.09 L515.26 108.00 L515.65 107.91 L516.03 107.82 L516.42 107.73 L516.81 107.64 L517.19 107.55 L517.58 107.46 L517.96 107.36 L518.35 107.27 L518.74 107.17 L519.12 107.07 L519.51 106.97 L519.89 106.87 L520.28 106.77 L520.67 106.67 L521.05 106.57 L521.44 106.46 L521.83 106.35 L522.21 106.25 L522.60 106.14 L522.98 106.03 L523.37 105.92 L523.76 105.80 L524.14 105.69 L524.53 105.57 L524.91 105.46 L525.30 105.34 L525.69 105.22 L526.07 105.10 L526.46 104.98 L526.85 104.86 L527.23 104.73 L527.62 104.60 L528.00 104.48 L528.39 104.35 L528.78 104.22 L529.16 104.08 L529.55 103.95 L529.94 103.82 L530.32 103.68 L530.71 103.54 L531.09 103.40 L531.48 103.26 L531.87 103.12 L532.25 102.97 L532.64 102.83 L533.02 102.68 L533.41 102.53 L533.80 102.38 L534.18 102.23 L534.57 102.08 L534.96 101.92 L535.34 101.76 L535.73 101.60 L536.11 101.44 L536.50 101.28 L536.89 101.12 L537.27 100.95 L537.66 100.79 L538.04 100.62 L538.43 100.45 L538.82 100.27 L539.20 100.10 L539.59 99.92 L539.98 99.75 L540.36 99.57 L540.75 99.39 L541.13 99.20 L541.52 99.02 L541.91 98.83 L542.29 98.65 L542.68 98.46 L543.07 98.26 L543.45 98.07 L543.84 97.88 L544.22 97.68 L544.61 97.48 L545.00 97.28 L545.38 97.08 L545.77 96.88 L546.15 96.67 L546.54 96.47 L546.93 96.26 L547.31 96.05 L547.70 95.84 L548.09 95.63 L548.47 95.41 L548.86 95.20 L549.24 94.98 L549.63 94.76 L550.02 94.55 L550.40 94.33 L550.79 94.10 L551.17 93.88 L551.56 93.66 L551.95 93.43 L552.33 93.21 L552.72 92.98 L553.11 92.75 L553.49 92.52 L553.88 92.30 L554.26 92.07 L554.65 91.84 L555.04 91.61 L555.42 91.38 L555.81 91.15 L556.19 90.91 L556.58 90.68 L556.97 90.45 L557.35 90.22 L557.74 90.00 L558.13 89.77 L558.51 89.54 L558.90 89.31 L559.28 89.09 L559.67 88.86 L560.06 88.64 L560.44 88.42 L560.83 88.20 L561.22 87.99 L561.60 87.77 L561.99 87.56 L562.37 87.36 L562.76 87.15 L563.15 86.95 L563.53 86.76 L563.92 86.57 L564.30 86.38 L564.69 86.20 L565.08 86.02 L565.46 85.85 L565.85 85.69 L566.24 85.53 L566.62 85.38 L567.01 85.24 L567.39 85.11 L567.78 84.98 L568.17 84.87 L568.55 84.76 L568.94 84.66 L569.32 84.58 L569.71 84.51 L570.10 84.45 L570.48 84.40 L570.87 84.36 L571.26 84.34 L571.64 84.34 L572.03 84.35 L572.41 84.38 L572.80 84.42 L573.19 84.49 L573.57 84.57 L573.96 84.67 L574.34 84.80 L574.73 84.94 L575.12 85.11 L575.50 85.31 L575.89 85.53 L576.28 85.77 L576.66 86.04 L577.05 86.34 L577.43 86.67 L577.82 87.03 L578.21 87.42 L578.59 87.85 L578.98 88.31 L579.37 88.80 L579.75 89.33 L580.14 89.90 L580.52 90.51 L580.91 91.16 L581.30 91.85 L581.68 92.58 L582.07 93.36 L582.45 94.18 L582.84 95.05 L583.23 95.97 L583.61 96.93 L584.00 97.95 L584.39 99.01 L584.77 100.13 L585.16 101.30 L585.54 102.52 L585.93 103.80 L586.32 105.14 L586.70 106.53 L587.09 107.97 L587.47 109.48 L587.86 111.04 L588.25 112.66 L588.63 114.34 L589.02 116.08 L589.41 117.87 L589.79 119.73 L590.18 121.64 L590.56 123.61 L590.95 125.63 L591.34 127.71 L591.72 129.85 L592.11 132.04 L592.50 134.29 L592.88 136.59 L593.27 138.93 L593.65 141.33 L594.04 143.77 L594.43 146.25 L594.81 148.78 L595.20 151.35 L595.58 153.95 L595.97 156.59 L596.36 159.26 L596.74 161.96 L597.13 164.69 L597.52 167.44 L597.90 170.20 L598.29 172.99 L598.67 175.78 L599.06 178.58 L599.45 181.39 L599.83 184.20 L600.22 187.01 L600.60 189.81 L600.99 192.60 L601.38 195.38 L601.76 198.15 L602.15 200.89 L602.54 203.61 L602.92 206.30 L603.31 208.96 L603.69 211.59 L604.08 214.17 L604.47 216.72 L604.85 219.23 L605.24 221.69 L605.62 224.11 L606.01 226.47 L606.40 228.78 L606.78 231.04 L607.17 233.24 L607.56 235.38 L607.94 237.46 L608.33 239.48 L608.71 241.43 L609.10 243.32 L609.49 245.15 L609.87 246.91 L610.26 248.61 L610.65 250.24 L611.03 251.80 L611.42 253.29 L611.80 254.72 L612.19 256.08 L612.58 257.37 L612.96 258.59 L613.35 259.75 L613.73 260.84 L614.12 261.87 L614.51 262.83 L614.89 263.73 L615.28 264.56 L615.67 265.33 L616.05 266.04 L616.44 266.68 L616.82 267.27 L617.21 267.79 L617.60 268.26 L617.98 268.67 L618.37 269.02 L618.75 269.32 L619.14 269.56 L619.53 269.75 L619.91 269.88 L620.30 269.97 L620.69 270.00 L621.07 269.98 L621.46 269.92 L621.84 269.81 L622.23 269.65 L622.62 269.44 L623.00 269.19 L623.39 268.90 L623.78 268.56 L624.16 268.19 L624.55 267.77 L624.93 267.31 L625.32 266.81 L625.71 266.28 L626.09 265.71 L626.48 265.10 L626.86 264.46 L627.25 263.78 L627.64 263.07 L628.02 262.33 L628.41 261.56 L628.80 260.75 L629.18 259.92 L629.57 259.06 L629.95 258.17 L630.34 257.25 L630.73 256.31 L631.11 255.34 L631.50 254.35 L631.88 253.34 L632.27 252.30 L632.66 251.25 L633.04 250.17 L633.43 249.07 L633.82 247.96 L634.20 246.83 L634.59 245.68 L634.97 244.52 L635.36 243.34 L635.75 242.15 L636.13 240.94 L636.52 239.73 L636.90 238.50 L637.29 237.27 L637.68 236.02 L638.06 234.77 L638.45 233.50 L638.84 232.24 L639.22 230.96 L639.61 229.69 L639.99 228.40 L640.38 227.12 L640.77 225.83 L641.15 224.54 L641.54 223.25 L641.93 221.96 L642.31 220.68 L642.70 219.39 L643.08 218.10 L643.47 216.82 L643.86 215.54 L644.24 214.26 L644.63 212.99 L645.01 211.73 L645.40 210.47 L645.79 209.21 L646.17 207.97 L646.56 206.73 L646.95 205.50 L647.33 204.27 L647.72 203.06 L648.10 201.85 L648.49 200.65 L648.88 199.47 L649.26 198.29 L649.65 197.12 L650.03 195.97 L650.42 194.82 L650.81 193.69 L651.19 192.56 L651.58 191.45 L651.97 190.35 L652.35 189.27 L652.74 188.19 L653.12 187.13 L653.51 186.08 L653.90 185.04 L654.28 184.02 L654.67 183.00 L655.05 182.00 L655.44 181.02 L655.83 180.04 L656.21 179.08 L656.60 178.13 L656.99 177.20 L657.37 176.28 L657.76 175.37 L658.14 174.47 L658.53 173.59 L658.92 172.71 L659.30 171.86 L659.69 171.01 L660.08 170.18 L660.46 169.35 L660.85 168.55 L661.23 167.75 L661.62 166.96 L662.01 166.19 L662.39 165.43 L662.78 164.68 L663.16 163.95 L663.55 163.22 L663.94 162.51 L664.32 161.80 L664.71 161.11 L665.10 160.43 L665.48 159.76 L665.87 159.10 L666.25 158.45 L666.64 157.81 L667.03 157.19 L667.41 156.57 L667.80 155.96 L668.18 155.36 L668.57 154.77 L668.96 154.20 L669.34 153.63 L669.73 153.07 L670.12 152.52 L670.50 151.97 L670.89 151.44 L671.27 150.92 L671.66 150.40 L672.05 149.89 L672.43 149.40 L672.82 148.90 L673.21 148.42 L673.59 147.95 L673.98 147.48 L674.36 147.02 L674.75 146.57 L675.14 146.12 L675.52 145.69 L675.91 145.25 L676.29 144.83 L676.68 144.41 L677.07 144.00 L677.45 143.60 L677.84 143.20 L678.23 142.81 L678.61 142.43 L679.00 142.05 L679.38 141.68 L679.77 141.31 L680.16 140.95 L680.54 140.60 L680.93 140.25 L681.31 139.90 L681.70 139.57 L682.09 139.23 L682.47 138.90 L682.86 138.58 L683.25 138.26 L683.63 137.95 L684.02 137.64 L684.40 137.34 L684.79 137.04 L685.18 136.75 L685.56 136.46 L685.95 136.17 L686.33 135.89 L686.72 135.62 L687.11 135.34 L687.49 135.07 L687.88 134.81 L688.27 134.55 L688.65 134.29 L689.04 134.04 L689.42 133.79 L689.81 133.55 L690.20 133.31 L690.58 133.07 L690.97 132.83 L691.36 132.60 L691.74 132.37 L692.13 132.15 L692.51 131.93 L692.90 131.71 L693.29 131.50 L693.67 131.28 L694.06 131.08 L694.44 130.87 L694.83 130.67 L695.22 130.47 L695.60 130.27 L695.99 130.08 L696.38 129.88 L696.76 129.70 L697.15 129.51 L697.53 129.33 L697.92 129.15 L698.31 128.97 L698.69 128.79 L699.08 128.62 L699.46 128.45 L699.85 128.28 L700.24 128.11 L700.62 127.95 L701.01 127.79 L701.40 127.63 L701.78 127.47 L702.17 127.31 L702.55 127.16 L702.94 127.01 L703.33 126.86 L703.71 126.71 L704.10 126.57 L704.48 126.42 L704.87 126.28 L705.26 126.14 L705.64 126.01 L706.03 125.87 L706.42 125.74 L706.80 125.60 L707.19 125.47 L707.57 125.35 L707.96 125.22 L708.35 125.09 L708.73 124.97 L709.12 124.85 L709.51 124.73 L709.89 124.61 L710.28 124.49 L710.66 124.38 L711.05 124.26 L711.44 124.15 L711.82 124.04 L712.21 123.93 L712.59 123.82 L712.98 123.72 L713.37 123.61 L713.75 123.51 L714.14 123.40 L714.53 123.30 L714.91 123.20 L715.30 123.10 L715.68 123.01 L716.07 122.91 L716.46 122.81 L716.84 122.72 L717.23 122.63 L717.61 122.54 L718.00 122.45 L718.39 122.36 L718.77 122.27 L719.16 122.18 L719.55 122.10 L719.93 122.01 L720.32 121.93 L720.70 121.85 L721.09 121.76 L721.48 121.68 L721.86 121.60 L722.25 121.53 L722.64 121.45 L723.02 121.37 L723.41 121.30 L723.79 121.22 L724.18 121.15 L724.57 121.08 L724.95 121.00 L725.34 120.93 L725.72 120.86 L726.11 120.79 L726.50 120.73 L726.88 120.66 L727.27 120.59 L727.66 120.53 L728.04 120.46 L728.43 120.40 L728.81 120.34 L729.20 120.27 L729.59 120.21 L729.97 120.15 L730.36 120.09 L730.74 120.03 L731.13 119.97 L731.52 119.91 L731.90 119.86 L732.29 119.80 L732.68 119.75 L733.06 119.69 L733.45 119.64 L733.83 119.58 L734.22 119.53 L734.61 119.48 L734.99 119.43 L735.38 119.37 L735.76 119.32 L736.15 119.27 L736.54 119.22 L736.92 119.18 L737.31 119.13 L737.70 119.08 L738.08 119.03 L738.47 118.99 L738.85 118.94 L739.24 118.90 L739.63 118.85 L740.01 118.81 L740.40 118.77 L740.79 118.72 L741.17 118.68 L741.56 118.64 L741.94 118.60 L742.33 118.56 L742.72 118.52 L743.10 118.48 L743.49 118.44 L743.87 118.40 L744.26 118.36 L744.65 118.32 L745.03 118.28 L745.42 118.25 L745.81 118.21 L746.19 118.17 L746.58 118.14 L746.96 118.10 L747.35 118.07 L747.74 118.04 L748.12 118.00 L748.51 117.97 L748.89 117.93 L749.28 117.90 L749.67 117.87 L750.05 117.84 L750.44 117.81 L750.83 117.78 L751.21 117.74 L751.60 117.71 L751.98 117.68 L752.37 117.66 L752.76 117.63 L753.14 117.60 L753.53 117.57 L753.91 117.54 L754.30 117.51 L754.69 117.49 L755.07 117.46 L755.46 117.43 L755.85 117.40 L756.23 117.38 L756.62 117.35 L757.00 117.33 L757.39 117.30 L757.78 117.28 L758.16 117.25 L758.55 117.23 L758.94 117.20 L759.32 117.18 L759.71 117.16 L760.09 117.13 L760.48 117.11 L760.87 117.09 L761.25 117.07 L761.64 117.04 L762.02 117.02 L762.41 117.00 L762.80 116.98 L763.18 116.96 L763.57 116.94 L763.96 116.92 L764.34 116.90 L764.73 116.88 L765.11 116.86 L765.50 116.84 L765.89 116.82 L766.27 116.80 L766.66 116.78 L767.04 116.76 L767.43 116.75 L767.82 116.73 L768.20 116.71 L768.59 116.69 L768.98 116.67 L769.36 116.66 L769.75 116.64 L770.13 116.62 L770.52 116.61 L770.91 116.59 L771.29 116.57 L771.68 116.56 L772.07 116.54 L772.45 116.53 L772.84 116.51 L773.22 116.50 L773.61 116.48 L774.00 116.47 L774.38 116.45 L774.77 116.44 L775.15 116.42 L775.54 116.41 L775.93 116.40 L776.31 116.38 L776.70 116.37 L777.09 116.35 L777.47 116.34 L777.86 116.33 L778.24 116.32 L778.63 116.30 L779.02 116.29 L779.40 116.28 L779.79 116.27 L779.92 116.26" stroke="#000" stroke-width="2.95"/>
<path d="M461.78 131.95 L462.26 131.93 L462.74 131.91 L463.22 131.89 L463.71 131.86 L464.19 131.84 L464.67 131.82 L465.15 131.80 L465.64 131.77 L466.12 131.75 L466.60 131.73 L467.09 131.70 L467.57 131.68 L468.05 131.66 L468.53 131.63 L469.02 131.60 L469.50 131.58 L469.98 131.55 L470.46 131.53 L470.95 131.50 L471.43 131.47 L471.91 131.44 L472.40 131.42 L472.88 131.39 L473.36 131.36 L473.84 131.33 L474.33 131.30 L474.81 131.27 L475.29 131.24 L475.77 131.20 L476.26 131.17 L476.74 131.14 L477.22 131.11 L477.71 131.07 L478.19 131.04 L478.67 131.00 L479.15 130.97 L479.64 130.93 L480.12 130.90 L480.60 130.86 L481.08 130.82 L481.57 130.79 L482.05 130.75 L482.53 130.71 L483.02 130.67 L483.50 130.63 L483.98 130.59 L484.46 130.55 L484.95 130.50 L485.43 130.46 L485.91 130.42 L486.39 130.37 L486.88 130.33 L487.36 130.28 L487.84 130.24 L488.33 130.19 L488.81 130.14 L489.29 130.09 L489.77 130.04 L490.26 129.99 L490.74 129.94 L491.22 129.89 L491.70 129.84 L492.19 129.79 L492.67 129.73 L493.15 129.68 L493.64 129.62 L494.12 129.57 L494.60 129.51 L495.08 129.45 L495.57 129.40 L496.05 129.34 L496.53 129.28 L497.01 129.21 L497.50 129.15 L497.98 129.09 L498.46 129.02 L498.94 128.96 L499.43 128.89 L499.91 128.83 L500.39 128.76 L500.88 128.69 L501.36 128.62 L501.84 128.55 L502.32 128.48 L502.81 128.40 L503.29 128.33 L503.77 128.25 L504.25 128.18 L504.74 128.10 L505.22 128.02 L505.70 127.94 L506.19 127.86 L506.67 127.78 L507.15 127.70 L507.63 127.61 L508.12 127.53 L508.60 127.44 L509.08 127.35 L509.56 127.26 L510.05 127.17 L510.53 127.08 L511.01 126.99 L511.50 126.90 L511.98 126.80 L512.46 126.70 L512.94 126.61 L513.43 126.51 L513.91 126.41 L514.39 126.30 L514.87 126.20 L515.36 126.10 L515.84 125.99 L516.32 125.88 L516.81 125.77 L517.29 125.66 L517.77 125.55 L518.25 125.44 L518.74 125.32 L519.22 125.20 L519.70 125.09 L520.18 124.97 L520.67 124.85 L521.15 124.72 L521.63 124.60 L522.12 124.47 L522.60 124.35 L523.08 124.22 L523.56 124.09 L524.05 123.95 L524.53 123.82 L525.01 123.68 L525.49 123.55 L525.98 123.41 L526.46 123.27 L526.94 123.13 L527.43 122.98 L527.91 122.84 L528.39 122.69 L528.87 122.54 L529.36 122.39 L529.84 122.24 L530.32 122.09 L530.80 121.93 L531.29 121.78 L531.77 121.62 L532.25 121.46 L532.73 121.30 L533.22 121.14 L533.70 120.97 L534.18 120.81 L534.67 120.64 L535.15 120.47 L535.63 120.30 L536.11 120.13 L536.60 119.95 L537.08 119.78 L537.56 119.60 L538.04 119.42 L538.53 119.24 L539.01 119.06 L539.49 118.88 L539.98 118.70 L540.46 118.52 L540.94 118.33 L541.42 118.14 L541.91 117.96 L542.39 117.77 L542.87 117.58 L543.35 117.39 L543.84 117.20 L544.32 117.01 L544.80 116.81 L545.29 116.62 L545.77 116.43 L546.25 116.23 L546.73 116.04 L547.22 115.85 L547.70 115.65 L548.18 115.46 L548.66 115.26 L549.15 115.07 L549.63 114.88 L550.11 114.68 L550.60 114.49 L551.08 114.30 L551.56 114.11 L552.04 113.93 L552.53 113.74 L553.01 113.55 L553.49 113.37 L553.97 113.19 L554.46 113.01 L554.94 112.84 L555.42 112.66 L555.91 112.49 L556.39 112.33 L556.87 112.16 L557.35 112.01 L557.84 111.85 L558.32 111.70 L558.80 111.56 L559.28 111.42 L559.77 111.29 L560.25 111.16 L560.73 111.04 L561.22 110.93 L561.70 110.82 L562.18 110.72 L562.66 110.63 L563.15 110.55 L563.63 110.48 L564.11 110.42 L564.59 110.37 L565.08 110.34 L565.56 110.31 L566.04 110.30 L566.53 110.30 L567.01 110.31 L567.49 110.34 L567.97 110.39 L568.46 110.45 L568.94 110.53 L569.42 110.62 L569.90 110.74 L570.39 110.87 L570.87 111.03 L571.35 111.21 L571.83 111.41 L572.32 111.63 L572.80 111.88 L573.28 112.16 L573.77 112.46 L574.25 112.79 L574.73 113.15 L575.21 113.54 L575.70 113.97 L576.18 114.42 L576.66 114.91 L577.14 115.44 L577.63 116.00 L578.11 116.60 L578.59 117.24 L579.08 117.92 L579.56 118.65 L580.04 119.41 L580.52 120.23 L581.01 121.08 L581.49 121.99 L581.97 122.94 L582.45 123.95 L582.94 125.00 L583.42 126.11 L583.90 127.27 L584.39 128.48 L584.87 129.75 L585.35 131.08 L585.83 132.47 L586.32 133.91 L586.80 135.41 L587.28 136.97 L587.76 138.59 L588.25 140.27 L588.73 142.01 L589.21 143.82 L589.70 145.68 L590.18 147.60 L590.66 149.58 L591.14 151.62 L591.63 153.72 L592.11 155.87 L592.59 158.08 L593.07 160.35 L593.56 162.67 L594.04 165.03 L594.52 167.45 L595.01 169.91 L595.49 172.42 L595.97 174.97 L596.45 177.55 L596.94 180.17 L597.42 182.83 L597.90 185.51 L598.38 188.21 L598.87 190.93 L599.35 193.67 L599.83 196.42 L600.32 199.18 L600.80 201.94 L601.28 204.70 L601.76 207.45 L602.25 210.19 L602.73 212.91 L603.21 215.61 L603.69 218.29 L604.18 220.93 L604.66 223.54 L605.14 226.12 L605.62 228.64 L606.11 231.12 L606.59 233.55 L607.07 235.92 L607.56 238.23 L608.04 240.47 L608.52 242.65 L609.00 244.76 L609.49 246.79 L609.97 248.75 L610.45 250.63 L610.93 252.42 L611.42 254.14 L611.90 255.77 L612.38 257.31 L612.87 258.77 L613.35 260.13 L613.83 261.41 L614.31 262.60 L614.80 263.69 L615.28 264.70 L615.76 265.62 L616.24 266.44 L616.73 267.18 L617.21 267.83 L617.69 268.39 L618.18 268.87 L618.66 269.26 L619.14 269.56 L619.62 269.79 L620.11 269.93 L620.59 270.00 L621.07 269.98 L621.55 269.90 L622.04 269.73 L622.52 269.50 L623.00 269.20 L623.49 268.84 L623.97 268.41 L624.45 267.91 L624.93 267.36 L625.42 266.75 L625.90 266.09 L626.38 265.38 L626.86 264.61 L627.35 263.80 L627.83 262.94 L628.31 262.05 L628.80 261.11 L629.28 260.13 L629.76 259.12 L630.24 258.07 L630.73 257.00 L631.21 255.90 L631.69 254.77 L632.17 253.61 L632.66 252.44 L633.14 251.24 L633.62 250.03 L634.11 248.79 L634.59 247.55 L635.07 246.29 L635.55 245.02 L636.04 243.74 L636.52 242.46 L637.00 241.16 L637.48 239.86 L637.97 238.56 L638.45 237.26 L638.93 235.95 L639.41 234.64 L639.90 233.34 L640.38 232.04 L640.86 230.74 L641.35 229.44 L641.83 228.15 L642.31 226.86 L642.79 225.58 L643.28 224.31 L643.76 223.04 L644.24 221.78 L644.72 220.54 L645.21 219.30 L645.69 218.07 L646.17 216.85 L646.66 215.64 L647.14 214.44 L647.62 213.25 L648.10 212.08 L648.59 210.91 L649.07 209.76 L649.55 208.62 L650.03 207.50 L650.52 206.38 L651.00 205.28 L651.48 204.19 L651.97 203.11 L652.45 202.05 L652.93 201.00 L653.41 199.96 L653.90 198.94 L654.38 197.93 L654.86 196.93 L655.34 195.95 L655.83 194.98 L656.31 194.02 L656.79 193.07 L657.28 192.14 L657.76 191.22 L658.24 190.31 L658.72 189.42 L659.21 188.54 L659.69 187.67 L660.17 186.81 L660.65 185.96 L661.14 185.13 L661.62 184.31 L662.10 183.50 L662.59 182.71 L663.07 181.92 L663.55 181.15 L664.03 180.39 L664.52 179.64 L665.00 178.90 L665.48 178.17 L665.96 177.46 L666.45 176.75 L666.93 176.06 L667.41 175.37 L667.90 174.70 L668.38 174.04 L668.86 173.38 L669.34 172.74 L669.83 172.11 L670.31 171.48 L670.79 170.87 L671.27 170.27 L671.76 169.67 L672.24 169.09 L672.72 168.51 L673.21 167.94 L673.69 167.38 L674.17 166.84 L674.65 166.29 L675.14 165.76 L675.62 165.24 L676.10 164.72 L676.58 164.22 L677.07 163.72 L677.55 163.23 L678.03 162.74 L678.51 162.27 L679.00 161.80 L679.48 161.34 L679.96 160.89 L680.45 160.44 L680.93 160.00 L681.41 159.57 L681.89 159.14 L682.38 158.73 L682.86 158.32 L683.34 157.91 L683.82 157.51 L684.31 157.12 L684.79 156.74 L685.27 156.36 L685.76 155.98 L686.24 155.62 L686.72 155.25 L687.20 154.90 L687.69 154.55 L688.17 154.21 L688.65 153.87 L689.13 153.53 L689.62 153.21 L690.10 152.88 L690.58 152.57 L691.07 152.26 L691.55 151.95 L692.03 151.65 L692.51 151.35 L693.00 151.06 L693.48 150.77 L693.96 150.49 L694.44 150.21 L694.93 149.94 L695.41 149.67 L695.89 149.40 L696.38 149.14 L696.86 148.89 L697.34 148.63 L697.82 148.39 L698.31 148.14 L698.79 147.90 L699.27 147.67 L699.75 147.43 L700.24 147.20 L700.72 146.98 L701.20 146.76 L701.69 146.54 L702.17 146.33 L702.65 146.12 L703.13 145.91 L703.62 145.71 L704.10 145.50 L704.58 145.31 L705.06 145.11 L705.55 144.92 L706.03 144.73 L706.51 144.55 L707.00 144.37 L707.48 144.19 L707.96 144.01 L708.44 143.84 L708.93 143.67 L709.41 143.50 L709.89 143.34 L710.37 143.18 L710.86 143.02 L711.34 142.86 L711.82 142.71 L712.30 142.55 L712.79 142.40 L713.27 142.26 L713.75 142.11 L714.24 141.97 L714.72 141.83 L715.20 141.69 L715.68 141.56 L716.17 141.42 L716.65 141.29 L717.13 141.16 L717.61 141.04 L718.10 140.91 L718.58 140.79 L719.06 140.67 L719.55 140.55 L720.03 140.43 L720.51 140.32 L720.99 140.21 L721.48 140.09 L721.96 139.98 L722.44 139.88 L722.92 139.77 L723.41 139.67 L723.89 139.56 L724.37 139.46 L724.86 139.36 L725.34 139.27 L725.82 139.17 L726.30 139.08 L726.79 138.98 L727.27 138.89 L727.75 138.80 L728.23 138.71 L728.72 138.62 L729.20 138.54 L729.68 138.45 L730.17 138.37 L730.65 138.29 L731.13 138.21 L731.61 138.13 L732.10 138.05 L732.58 137.98 L733.06 137.90 L733.54 137.83 L734.03 137.75 L734.51 137.68 L734.99 137.61 L735.48 137.54 L735.96 137.47 L736.44 137.41 L736.92 137.34 L737.41 137.27 L737.89 137.21 L738.37 137.15 L738.85 137.08 L739.34 137.02 L739.82 136.96 L740.30 136.90 L740.79 136.85 L741.27 136.79 L741.75 136.73 L742.23 136.68 L742.72 136.62 L743.20 136.57 L743.68 136.52 L744.16 136.46 L744.65 136.41 L745.13 136.36 L745.61 136.31 L746.09 136.26 L746.58 136.22 L747.06 136.17 L747.54 136.12 L748.03 136.08 L748.51 136.03 L748.99 135.99 L749.47 135.94 L749.96 135.90 L750.44 135.86 L750.92 135.82 L751.40 135.78 L751.89 135.74 L752.37 135.70 L752.85 135.66 L753.34 135.62 L753.82 135.58 L754.30 135.55 L754.78 135.51 L755.27 135.47 L755.75 135.44 L756.23 135.40 L756.71 135.37 L757.20 135.33 L757.68 135.30 L758.16 135.27 L758.65 135.24 L759.13 135.21 L759.61 135.17 L760.09 135.14 L760.58 135.11 L761.06 135.08 L761.54 135.06 L762.02 135.03 L762.51 135.00 L762.99 134.97 L763.47 134.94 L763.96 134.92 L764.44 134.89 L764.92 134.86 L765.40 134.84 L765.89 134.81 L766.37 134.79 L766.85 134.76 L767.33 134.74 L767.82 134.72 L768.30 134.69 L768.78 134.67 L769.27 134.65 L769.75 134.62 L770.23 134.60 L770.71 134.58 L771.20 134.56 L771.68 134.54 L772.16 134.52 L772.64 134.50 L773.13 134.48 L773.61 134.46 L774.09 134.44 L774.58 134.42 L775.06 134.40 L775.54 134.38 L776.02 134.37 L776.51 134.35 L776.99 134.33 L777.39 134.32" stroke="#ff0000" stroke-width="2.5" stroke-dasharray="5.4 2.9"/>
<path d="M461.78 65.25 L462.26 65.21 L462.74 65.17 L463.22 65.13 L463.71 65.09 L464.19 65.05 L464.67 65.01 L465.15 64.97 L465.64 64.92 L466.12 64.88 L466.60 64.84 L467.09 64.79 L467.57 64.75 L468.05 64.70 L468.53 64.65 L469.02 64.61 L469.50 64.56 L469.98 64.51 L470.46 64.46 L470.95 64.41 L471.43 64.36 L471.91 64.31 L472.40 64.26 L472.88 64.21 L473.36 64.15 L473.84 64.10 L474.33 64.05 L474.81 63.99 L475.29 63.94 L475.77 63.88 L476.26 63.82 L476.74 63.76 L477.22 63.71 L477.71 63.65 L478.19 63.59 L478.67 63.52 L479.15 63.46 L479.64 63.40 L480.12 63.34 L480.60 63.27 L481.08 63.21 L481.57 63.14 L482.05 63.07 L482.53 63.01 L483.02 62.94 L483.50 62.87 L483.98 62.80 L484.46 62.73 L484.95 62.65 L485.43 62.58 L485.91 62.51 L486.39 62.43 L486.88 62.36 L487.36 62.28 L487.84 62.20 L488.33 62.12 L488.81 62.04 L489.29 61.96 L489.77 61.88 L490.26 61.80 L490.74 61.71 L491.22 61.63 L491.70 61.54 L492.19 61.45 L492.67 61.37 L493.15 61.28 L493.64 61.18 L494.12 61.09 L494.60 61.00 L495.08 60.91 L495.57 60.81 L496.05 60.71 L496.53 60.62 L497.01 60.52 L497.50 60.42 L497.98 60.32 L498.46 60.21 L498.94 60.11 L499.43 60.00 L499.91 59.90 L500.39 59.79 L500.88 59.68 L501.36 59.57 L501.84 59.46 L502.32 59.34 L502.81 59.23 L503.29 59.11 L503.77 58.99 L504.25 58.88 L504.74 58.76 L505.22 58.63 L505.70 58.51 L506.19 58.39 L506.67 58.26 L507.15 58.13 L507.63 58.00 L508.12 57.87 L508.60 57.74 L509.08 57.60 L509.56 57.47 L510.05 57.33 L510.53 57.19 L511.01 57.05 L511.50 56.91 L511.98 56.77 L512.46 56.62 L512.94 56.47 L513.43 56.33 L513.91 56.18 L514.39 56.02 L514.87 55.87 L515.36 55.71 L515.84 55.56 L516.32 55.40 L516.81 55.24 L517.29 55.08 L517.77 54.91 L518.25 54.75 L518.74 54.58 L519.22 54.41 L519.70 54.24 L520.18 54.06 L520.67 53.89 L521.15 53.71 L521.63 53.53 L522.12 53.35 L522.60 53.17 L523.08 52.99 L523.56 52.80 L524.05 52.61 L524.53 52.42 L525.01 52.23 L525.49 52.04 L525.98 51.84 L526.46 51.64 L526.94 51.45 L527.43 51.24 L527.91 51.04 L528.39 50.84 L528.87 50.63 L529.36 50.42 L529.84 50.21 L530.32 50.00 L530.80 49.79 L531.29 49.57 L531.77 49.36 L532.25 49.14 L532.73 48.92 L533.22 48.70 L533.70 48.47 L534.18 48.25 L534.67 48.02 L535.15 47.80 L535.63 47.57 L536.11 47.34 L536.60 47.10 L537.08 46.87 L537.56 46.64 L538.04 46.40 L538.53 46.16 L539.01 45.92 L539.49 45.69 L539.98 45.45 L540.46 45.21 L540.94 44.96 L541.42 44.72 L541.91 44.48 L542.39 44.24 L542.87 43.99 L543.35 43.75 L543.84 43.51 L544.32 43.26 L544.80 43.02 L545.29 42.78 L545.77 42.53 L546.25 42.29 L546.73 42.05 L547.22 41.81 L547.70 41.57 L548.18 41.33 L548.66 41.10 L549.15 40.86 L549.63 40.63 L550.11 40.40 L550.60 40.17 L551.08 39.95 L551.56 39.73 L552.04 39.51 L552.53 39.30 L553.01 39.09 L553.49 38.88 L553.97 38.68 L554.46 38.48 L554.94 38.29 L555.42 38.11 L555.91 37.93 L556.39 37.76 L556.87 37.60 L557.35 37.45 L557.84 37.30 L558.32 37.16 L558.80 37.04 L559.28 36.92 L559.77 36.82 L560.25 36.72 L560.73 36.64 L561.22 36.57 L561.70 36.52 L562.18 36.48 L562.66 36.46 L563.15 36.45 L563.63 36.46 L564.11 36.49 L564.59 36.54 L565.08 36.61 L565.56 36.70 L566.04 36.82 L566.53 36.96 L567.01 37.12 L567.49 37.31 L567.97 37.53 L568.46 37.78 L568.94 38.06 L569.42 38.37 L569.90 38.71 L570.39 39.09 L570.87 39.51 L571.35 39.96 L571.83 40.46 L572.32 41.00 L572.80 41.58 L573.28 42.20 L573.77 42.88 L574.25 43.60 L574.73 44.38 L575.21 45.21 L575.70 46.09 L576.18 47.04 L576.66 48.04 L577.14 49.10 L577.63 50.23 L578.11 51.42 L578.59 52.68 L579.08 54.01 L579.56 55.41 L580.04 56.89 L580.52 58.44 L581.01 60.07 L581.49 61.77 L581.97 63.56 L582.45 65.43 L582.94 67.38 L583.42 69.42 L583.90 71.54 L584.39 73.75 L584.87 76.05 L585.35 78.44 L585.83 80.91 L586.32 83.47 L586.80 86.12 L587.28 88.86 L587.76 91.69 L588.25 94.60 L588.73 97.60 L589.21 100.68 L589.70 103.84 L590.18 107.08 L590.66 110.39 L591.14 113.78 L591.63 117.24 L592.11 120.76 L592.59 124.35 L593.07 127.99 L593.56 131.69 L594.04 135.43 L594.52 139.22 L595.01 143.05 L595.49 146.90 L595.97 150.79 L596.45 154.69 L596.94 158.60 L597.42 162.52 L597.90 166.44 L598.38 170.36 L598.87 174.26 L599.35 178.14 L599.83 182.00 L600.32 185.82 L600.80 189.61 L601.28 193.35 L601.76 197.04 L602.25 200.67 L602.73 204.24 L603.21 207.75 L603.69 211.18 L604.18 214.53 L604.66 217.80 L605.14 220.99 L605.62 224.09 L606.11 227.09 L606.59 230.00 L607.07 232.82 L607.56 235.53 L608.04 238.14 L608.52 240.65 L609.00 243.05 L609.49 245.34 L609.97 247.53 L610.45 249.61 L610.93 251.59 L611.42 253.46 L611.90 255.22 L612.38 256.87 L612.87 258.42 L613.35 259.87 L613.83 261.21 L614.31 262.45 L614.80 263.58 L615.28 264.62 L615.76 265.56 L616.24 266.41 L616.73 267.16 L617.21 267.82 L617.69 268.39 L618.18 268.86 L618.66 269.26 L619.14 269.56 L619.62 269.79 L620.11 269.93 L620.59 270.00 L621.07 269.98 L621.55 269.90 L622.04 269.73 L622.52 269.50 L623.00 269.20 L623.49 268.83 L623.97 268.40 L624.45 267.90 L624.93 267.34 L625.42 266.72 L625.90 266.04 L626.38 265.31 L626.86 264.52 L627.35 263.68 L627.83 262.79 L628.31 261.84 L628.80 260.85 L629.28 259.82 L629.76 258.73 L630.24 257.61 L630.73 256.44 L631.21 255.24 L631.69 253.99 L632.17 252.71 L632.66 251.39 L633.14 250.04 L633.62 248.66 L634.11 247.25 L634.59 245.80 L635.07 244.33 L635.55 242.84 L636.04 241.31 L636.52 239.77 L637.00 238.20 L637.48 236.61 L637.97 235.00 L638.45 233.37 L638.93 231.73 L639.41 230.06 L639.90 228.39 L640.38 226.70 L640.86 225.00 L641.35 223.29 L641.83 221.57 L642.31 219.83 L642.79 218.10 L643.28 216.35 L643.76 214.60 L644.24 212.85 L644.72 211.09 L645.21 209.33 L645.69 207.57 L646.17 205.81 L646.66 204.05 L647.14 202.29 L647.62 200.54 L648.10 198.78 L648.59 197.03 L649.07 195.29 L649.55 193.55 L650.03 191.82 L650.52 190.10 L651.00 188.38 L651.48 186.67 L651.97 184.97 L652.45 183.29 L652.93 181.61 L653.41 179.94 L653.90 178.29 L654.38 176.64 L654.86 175.01 L655.34 173.40 L655.83 171.79 L656.31 170.20 L656.79 168.63 L657.28 167.07 L657.76 165.52 L658.24 163.99 L658.72 162.48 L659.21 160.98 L659.69 159.50 L660.17 158.03 L660.65 156.58 L661.14 155.15 L661.62 153.74 L662.10 152.34 L662.59 150.96 L663.07 149.60 L663.55 148.25 L664.03 146.92 L664.52 145.61 L665.00 144.32 L665.48 143.05 L665.96 141.79 L666.45 140.55 L666.93 139.33 L667.41 138.13 L667.90 136.94 L668.38 135.77 L668.86 134.62 L669.34 133.49 L669.83 132.37 L670.31 131.28 L670.79 130.19 L671.27 129.13 L671.76 128.08 L672.24 127.05 L672.72 126.04 L673.21 125.04 L673.69 124.06 L674.17 123.10 L674.65 122.15 L675.14 121.22 L675.62 120.30 L676.10 119.40 L676.58 118.52 L677.07 117.65 L677.55 116.79 L678.03 115.95 L678.51 115.13 L679.00 114.32 L679.48 113.52 L679.96 112.74 L680.45 111.97 L680.93 111.21 L681.41 110.47 L681.89 109.74 L682.38 109.03 L682.86 108.33 L683.34 107.64 L683.82 106.96 L684.31 106.29 L684.79 105.64 L685.27 105.00 L685.76 104.37 L686.24 103.75 L686.72 103.15 L687.20 102.55 L687.69 101.97 L688.17 101.39 L688.65 100.83 L689.13 100.28 L689.62 99.73 L690.10 99.20 L690.58 98.68 L691.07 98.16 L691.55 97.66 L692.03 97.17 L692.51 96.68 L693.00 96.20 L693.48 95.74 L693.96 95.28 L694.44 94.83 L694.93 94.38 L695.41 93.95 L695.89 93.52 L696.38 93.10 L696.86 92.69 L697.34 92.29 L697.82 91.89 L698.31 91.50 L698.79 91.12 L699.27 90.75 L699.75 90.38 L700.24 90.02 L700.72 89.66 L701.20 89.31 L701.69 88.97 L702.17 88.64 L702.65 88.31 L703.13 87.98 L703.62 87.66 L704.10 87.35 L704.58 87.05 L705.06 86.74 L705.55 86.45 L706.03 86.16 L706.51 85.87 L707.00 85.59 L707.48 85.31 L707.96 85.04 L708.44 84.78 L708.93 84.52 L709.41 84.26 L709.89 84.01 L710.37 83.76 L710.86 83.52 L711.34 83.28 L711.82 83.04 L712.30 82.81 L712.79 82.58 L713.27 82.36 L713.75 82.14 L714.24 81.92 L714.72 81.71 L715.20 81.50 L715.68 81.30 L716.17 81.10 L716.65 80.90 L717.13 80.71 L717.61 80.51 L718.10 80.33 L718.58 80.14 L719.06 79.96 L719.55 79.78 L720.03 79.60 L720.51 79.43 L720.99 79.26 L721.48 79.09 L721.96 78.93 L722.44 78.77 L722.92 78.61 L723.41 78.45 L723.89 78.30 L724.37 78.15 L724.86 78.00 L725.34 77.85 L725.82 77.71 L726.30 77.57 L726.79 77.43 L727.27 77.29 L727.75 77.15 L728.23 77.02 L728.72 76.89 L729.20 76.76 L729.68 76.63 L730.17 76.51 L730.65 76.39 L731.13 76.27 L731.61 76.15 L732.10 76.03 L732.58 75.91 L733.06 75.80 L733.54 75.69 L734.03 75.58 L734.51 75.47 L734.99 75.37 L735.48 75.26 L735.96 75.16 L736.44 75.06 L736.92 74.96 L737.41 74.86 L737.89 74.76 L738.37 74.66 L738.85 74.57 L739.34 74.48 L739.82 74.39 L740.30 74.30 L740.79 74.21 L741.27 74.12 L741.75 74.04 L742.23 73.95 L742.72 73.87 L743.20 73.79 L743.68 73.71 L744.16 73.63 L744.65 73.55 L745.13 73.47 L745.61 73.40 L746.09 73.32 L746.58 73.25 L747.06 73.17 L747.54 73.10 L748.03 73.03 L748.51 72.96 L748.99 72.90 L749.47 72.83 L749.96 72.76 L750.44 72.70 L750.92 72.63 L751.40 72.57 L751.89 72.51 L752.37 72.44 L752.85 72.38 L753.34 72.32 L753.82 72.27 L754.30 72.21 L754.78 72.15 L755.27 72.09 L755.75 72.04 L756.23 71.98 L756.71 71.93 L757.20 71.88 L757.68 71.82 L758.16 71.77 L758.65 71.72 L759.13 71.67 L759.61 71.62 L760.09 71.57 L760.58 71.52 L761.06 71.48 L761.54 71.43 L762.02 71.39 L762.51 71.34 L762.99 71.30 L763.47 71.25 L763.96 71.21 L764.44 71.17 L764.92 71.12 L765.40 71.08 L765.89 71.04 L766.37 71.00 L766.85 70.96 L767.33 70.92 L767.82 70.88 L768.30 70.84 L768.78 70.81 L769.27 70.77 L769.75 70.73 L770.23 70.70 L770.71 70.66 L771.20 70.63 L771.68 70.59 L772.16 70.56 L772.64 70.52 L773.13 70.49 L773.61 70.46 L774.09 70.43 L774.58 70.40 L775.06 70.36 L775.54 70.33 L776.02 70.30 L776.51 70.27 L776.99 70.24 L777.39 70.22" stroke="#00007f" stroke-width="2.4" stroke-dasharray="12.6 3"/>
</g>
<path d="M463.00 276.50v-4.6M463.00 29.50v4.6M541.88 276.50v-4.6M541.88 29.50v4.6M620.75 276.50v-4.6M620.75 29.50v4.6M699.62 276.50v-4.6M699.62 29.50v4.6M778.50 276.50v-4.6M778.50 29.50v4.6M456.50 270.00h4.6M785.50 270.00h-4.6M456.50 208.84h4.6M785.50 208.84h-4.6M456.50 147.68h4.6M785.50 147.68h-4.6M456.50 86.52h4.6M785.50 86.52h-4.6" stroke="#666666" stroke-width="0.9" fill="none"/>
<path d="M478.77 276.50v-3M478.77 29.50v3M494.55 276.50v-3M494.55 29.50v3M510.32 276.50v-3M510.32 29.50v3M526.10 276.50v-3M526.10 29.50v3M557.65 276.50v-3M557.65 29.50v3M573.42 276.50v-3M573.42 29.50v3M589.20 276.50v-3M589.20 29.50v3M604.98 276.50v-3M604.98 29.50v3M636.52 276.50v-3M636.52 29.50v3M652.30 276.50v-3M652.30 29.50v3M668.08 276.50v-3M668.08 29.50v3M683.85 276.50v-3M683.85 29.50v3M715.40 276.50v-3M715.40 29.50v3M731.17 276.50v-3M731.17 29.50v3M746.95 276.50v-3M746.95 29.50v3M762.73 276.50v-3M762.73 29.50v3M456.50 254.71h3M785.50 254.71h-3M456.50 239.42h3M785.50 239.42h-3M456.50 224.13h3M785.50 224.13h-3M456.50 193.55h3M785.50 193.55h-3M456.50 178.26h3M785.50 178.26h-3M456.50 162.97h3M785.50 162.97h-3M456.50 132.39h3M785.50 132.39h-3M456.50 117.10h3M785.50 117.10h-3M456.50 101.81h3M785.50 101.81h-3M456.50 71.23h3M785.50 71.23h-3M456.50 55.94h3M785.50 55.94h-3M456.50 40.65h3M785.50 40.65h-3" stroke="#787878" stroke-width="0.9" fill="none"/>
<rect x="456.50" y="29.50" width="329.00" height="247.00" fill="none" stroke="#a4a4a4" stroke-width="1"/>
<text x="453.60" y="275.40" text-anchor="end" font-size="21">0.0</text>
<text x="453.60" y="214.24" text-anchor="end" font-size="21">0.2</text>
<text x="453.60" y="153.08" text-anchor="end" font-size="21">0.4</text>
<text x="453.60" y="91.92" text-anchor="end" font-size="21">0.6</text>
<text y="23.10" font-size="24.3"><tspan x="555.23">(b)</tspan><tspan x="589.94">4</tspan><tspan x="602.41" font-style="italic">π</tspan><tspan x="614.91" font-style="italic" font-size="27">η</tspan><tspan x="627.71" dy="4.2" font-size="30.5">/</tspan><tspan x="636.21" dy="-4.2">s</tspan><tspan x="652.16" dy="2.7" font-size="26" stroke="#000" stroke-width="0.35">=</tspan><tspan x="673.91" dy="-2.7" letter-spacing="0.3">3</tspan></text>
</g>
<g>
<clipPath id="cpc"><rect x="61.50" y="330.50" width="329.00" height="247.00"/></clipPath>
<g clip-path="url(#cpc)" fill="none" stroke-linejoin="round">
<path d="M67.08 416.64 L67.47 416.63 L67.85 416.63 L68.24 416.62 L68.63 416.62 L69.01 416.62 L69.40 416.61 L69.79 416.61 L70.17 416.60 L70.56 416.60 L70.95 416.59 L71.33 416.59 L71.72 416.58 L72.11 416.58 L72.49 416.57 L72.88 416.57 L73.27 416.56 L73.65 416.56 L74.04 416.55 L74.43 416.55 L74.81 416.54 L75.20 416.54 L75.59 416.53 L75.97 416.52 L76.36 416.52 L76.75 416.51 L77.13 416.51 L77.52 416.50 L77.91 416.49 L78.29 416.49 L78.68 416.48 L79.07 416.48 L79.45 416.47 L79.84 416.46 L80.23 416.46 L80.61 416.45 L81.00 416.44 L81.39 416.44 L81.77 416.43 L82.16 416.42 L82.55 416.42 L82.93 416.41 L83.32 416.40 L83.71 416.40 L84.09 416.39 L84.48 416.38 L84.87 416.37 L85.25 416.37 L85.64 416.36 L86.03 416.35 L86.41 416.34 L86.80 416.33 L87.19 416.33 L87.57 416.32 L87.96 416.31 L88.35 416.30 L88.73 416.29 L89.12 416.29 L89.51 416.28 L89.89 416.27 L90.28 416.26 L90.67 416.25 L91.05 416.24 L91.44 416.23 L91.83 416.22 L92.21 416.21 L92.60 416.20 L92.99 416.19 L93.37 416.18 L93.76 416.17 L94.15 416.16 L94.53 416.15 L94.92 416.14 L95.31 416.13 L95.69 416.12 L96.08 416.11 L96.47 416.10 L96.85 416.09 L97.24 416.08 L97.63 416.07 L98.01 416.06 L98.40 416.05 L98.79 416.03 L99.17 416.02 L99.56 416.01 L99.95 416.00 L100.33 415.99 L100.72 415.97 L101.11 415.96 L101.49 415.95 L101.88 415.94 L102.27 415.92 L102.65 415.91 L103.04 415.90 L103.43 415.88 L103.81 415.87 L104.20 415.86 L104.59 415.84 L104.97 415.83 L105.36 415.82 L105.75 415.80 L106.13 415.79 L106.52 415.77 L106.91 415.76 L107.29 415.74 L107.68 415.73 L108.07 415.71 L108.45 415.70 L108.84 415.68 L109.23 415.66 L109.61 415.65 L110.00 415.63 L110.39 415.61 L110.77 415.60 L111.16 415.58 L111.55 415.56 L111.93 415.55 L112.32 415.53 L112.71 415.51 L113.09 415.49 L113.48 415.48 L113.87 415.46 L114.25 415.44 L114.64 415.42 L115.03 415.40 L115.41 415.38 L115.80 415.36 L116.19 415.34 L116.57 415.32 L116.96 415.30 L117.35 415.28 L117.73 415.26 L118.12 415.24 L118.51 415.22 L118.89 415.20 L119.28 415.18 L119.67 415.15 L120.05 415.13 L120.44 415.11 L120.83 415.09 L121.21 415.06 L121.60 415.04 L121.99 415.02 L122.37 414.99 L122.76 414.97 L123.15 414.95 L123.53 414.92 L123.92 414.90 L124.31 414.87 L124.69 414.85 L125.08 414.82 L125.47 414.80 L125.85 414.77 L126.24 414.74 L126.63 414.72 L127.01 414.69 L127.40 414.66 L127.79 414.64 L128.17 414.61 L128.56 414.58 L128.95 414.55 L129.33 414.52 L129.72 414.50 L130.11 414.47 L130.49 414.44 L130.88 414.41 L131.27 414.38 L131.65 414.35 L132.04 414.32 L132.43 414.29 L132.81 414.25 L133.20 414.22 L133.59 414.19 L133.97 414.16 L134.36 414.13 L134.75 414.10 L135.13 414.06 L135.52 414.03 L135.91 414.00 L136.29 413.96 L136.68 413.93 L137.07 413.90 L137.45 413.86 L137.84 413.83 L138.23 413.79 L138.61 413.76 L139.00 413.72 L139.39 413.69 L139.77 413.65 L140.16 413.61 L140.55 413.58 L140.93 413.54 L141.32 413.50 L141.71 413.47 L142.09 413.43 L142.48 413.39 L142.87 413.36 L143.25 413.32 L143.64 413.28 L144.03 413.24 L144.41 413.21 L144.80 413.17 L145.19 413.13 L145.57 413.09 L145.96 413.05 L146.35 413.02 L146.73 412.98 L147.12 412.94 L147.51 412.90 L147.89 412.86 L148.28 412.83 L148.67 412.79 L149.05 412.75 L149.44 412.71 L149.83 412.68 L150.21 412.64 L150.60 412.60 L150.99 412.57 L151.37 412.53 L151.76 412.49 L152.15 412.46 L152.53 412.42 L152.92 412.39 L153.31 412.35 L153.69 412.32 L154.08 412.29 L154.47 412.26 L154.85 412.22 L155.24 412.19 L155.63 412.16 L156.01 412.14 L156.40 412.11 L156.79 412.08 L157.17 412.06 L157.56 412.03 L157.95 412.01 L158.33 411.99 L158.72 411.97 L159.11 411.95 L159.49 411.93 L159.88 411.92 L160.27 411.90 L160.65 411.89 L161.04 411.88 L161.43 411.87 L161.81 411.87 L162.20 411.87 L162.59 411.87 L162.97 411.87 L163.36 411.88 L163.75 411.88 L164.13 411.90 L164.52 411.91 L164.91 411.93 L165.29 411.95 L165.68 411.98 L166.07 412.01 L166.45 412.04 L166.84 412.08 L167.23 412.12 L167.61 412.17 L168.00 412.23 L168.39 412.28 L168.77 412.35 L169.16 412.42 L169.55 412.49 L169.93 412.58 L170.32 412.67 L170.71 412.76 L171.09 412.87 L171.48 412.98 L171.87 413.09 L172.25 413.22 L172.64 413.36 L173.03 413.50 L173.41 413.65 L173.80 413.82 L174.19 413.99 L174.57 414.17 L174.96 414.37 L175.35 414.57 L175.73 414.79 L176.12 415.02 L176.51 415.26 L176.89 415.52 L177.28 415.79 L177.67 416.07 L178.05 416.37 L178.44 416.68 L178.83 417.01 L179.21 417.35 L179.60 417.71 L179.99 418.09 L180.37 418.48 L180.76 418.90 L181.15 419.33 L181.53 419.78 L181.92 420.25 L182.31 420.75 L182.69 421.26 L183.08 421.80 L183.47 422.36 L183.85 422.94 L184.24 423.55 L184.63 424.18 L185.01 424.83 L185.40 425.52 L185.79 426.22 L186.17 426.96 L186.56 427.72 L186.95 428.51 L187.33 429.33 L187.72 430.18 L188.11 431.06 L188.49 431.97 L188.88 432.91 L189.27 433.88 L189.65 434.89 L190.04 435.92 L190.43 436.99 L190.81 438.09 L191.20 439.23 L191.59 440.40 L191.97 441.60 L192.36 442.84 L192.75 444.12 L193.13 445.42 L193.52 446.77 L193.91 448.14 L194.29 449.55 L194.68 451.00 L195.07 452.48 L195.45 454.00 L195.84 455.55 L196.23 457.13 L196.61 458.74 L197.00 460.39 L197.39 462.07 L197.77 463.78 L198.16 465.52 L198.55 467.29 L198.93 469.09 L199.32 470.92 L199.71 472.77 L200.09 474.65 L200.48 476.55 L200.87 478.48 L201.25 480.43 L201.64 482.39 L202.03 484.38 L202.41 486.38 L202.80 488.40 L203.19 490.43 L203.57 492.47 L203.96 494.52 L204.35 496.57 L204.73 498.64 L205.12 500.71 L205.51 502.77 L205.89 504.84 L206.28 506.91 L206.67 508.97 L207.05 511.02 L207.44 513.07 L207.83 515.10 L208.21 517.12 L208.60 519.13 L208.99 521.12 L209.37 523.09 L209.76 525.04 L210.15 526.96 L210.53 528.86 L210.92 530.73 L211.31 532.58 L211.69 534.39 L212.08 536.17 L212.47 537.92 L212.85 539.63 L213.24 541.31 L213.63 542.95 L214.01 544.54 L214.40 546.10 L214.79 547.61 L215.17 549.09 L215.56 550.51 L215.95 551.90 L216.33 553.23 L216.72 554.52 L217.11 555.76 L217.49 556.96 L217.88 558.10 L218.27 559.20 L218.65 560.25 L219.04 561.24 L219.43 562.19 L219.81 563.08 L220.20 563.93 L220.59 564.72 L220.97 565.46 L221.36 566.15 L221.75 566.79 L222.13 567.38 L222.52 567.92 L222.91 568.40 L223.29 568.84 L223.68 569.22 L224.07 569.56 L224.45 569.84 L224.84 570.07 L225.23 570.25 L225.61 570.38 L226.00 570.47 L226.39 570.50 L226.77 570.48 L227.16 570.42 L227.55 570.30 L227.93 570.14 L228.32 569.93 L228.71 569.68 L229.09 569.37 L229.48 569.02 L229.87 568.62 L230.25 568.18 L230.64 567.69 L231.03 567.16 L231.41 566.58 L231.80 565.96 L232.19 565.30 L232.57 564.59 L232.96 563.84 L233.35 563.05 L233.73 562.22 L234.12 561.34 L234.51 560.43 L234.89 559.48 L235.28 558.49 L235.67 557.46 L236.05 556.40 L236.44 555.30 L236.83 554.16 L237.21 553.00 L237.60 551.79 L237.99 550.56 L238.37 549.30 L238.76 548.00 L239.15 546.68 L239.53 545.33 L239.92 543.95 L240.31 542.55 L240.69 541.12 L241.08 539.67 L241.47 538.20 L241.85 536.71 L242.24 535.20 L242.63 533.67 L243.01 532.13 L243.40 530.57 L243.79 528.99 L244.17 527.41 L244.56 525.81 L244.95 524.20 L245.33 522.58 L245.72 520.96 L246.11 519.33 L246.49 517.70 L246.88 516.07 L247.27 514.43 L247.65 512.79 L248.04 511.16 L248.43 509.52 L248.81 507.89 L249.20 506.27 L249.59 504.65 L249.97 503.03 L250.36 501.43 L250.75 499.83 L251.13 498.25 L251.52 496.67 L251.91 495.11 L252.29 493.56 L252.68 492.02 L253.07 490.50 L253.45 488.99 L253.84 487.50 L254.23 486.03 L254.61 484.58 L255.00 483.14 L255.39 481.72 L255.77 480.32 L256.16 478.94 L256.55 477.58 L256.93 476.24 L257.32 474.92 L257.71 473.62 L258.09 472.35 L258.48 471.09 L258.87 469.86 L259.25 468.64 L259.64 467.46 L260.03 466.29 L260.41 465.14 L260.80 464.02 L261.19 462.92 L261.57 461.84 L261.96 460.78 L262.35 459.75 L262.73 458.73 L263.12 457.74 L263.51 456.77 L263.89 455.82 L264.28 454.89 L264.67 453.99 L265.05 453.10 L265.44 452.23 L265.83 451.39 L266.21 450.56 L266.60 449.76 L266.99 448.97 L267.37 448.20 L267.76 447.45 L268.15 446.72 L268.53 446.01 L268.92 445.32 L269.30 444.64 L269.69 443.98 L270.08 443.34 L270.46 442.71 L270.85 442.10 L271.24 441.51 L271.62 440.93 L272.01 440.36 L272.40 439.82 L272.78 439.28 L273.17 438.76 L273.56 438.25 L273.94 437.76 L274.33 437.28 L274.72 436.81 L275.10 436.36 L275.49 435.92 L275.88 435.49 L276.26 435.07 L276.65 434.66 L277.04 434.26 L277.42 433.88 L277.81 433.50 L278.20 433.13 L278.58 432.78 L278.97 432.43 L279.36 432.10 L279.74 431.77 L280.13 431.45 L280.52 431.14 L280.90 430.84 L281.29 430.54 L281.68 430.26 L282.06 429.98 L282.45 429.71 L282.84 429.45 L283.22 429.19 L283.61 428.94 L284.00 428.70 L284.38 428.46 L284.77 428.23 L285.16 428.00 L285.54 427.79 L285.93 427.57 L286.32 427.37 L286.70 427.16 L287.09 426.97 L287.48 426.78 L287.86 426.59 L288.25 426.41 L288.64 426.23 L289.02 426.06 L289.41 425.89 L289.80 425.72 L290.18 425.56 L290.57 425.41 L290.96 425.25 L291.34 425.10 L291.73 424.96 L292.12 424.82 L292.50 424.68 L292.89 424.54 L293.28 424.41 L293.66 424.28 L294.05 424.16 L294.44 424.04 L294.82 423.92 L295.21 423.80 L295.60 423.68 L295.98 423.57 L296.37 423.46 L296.76 423.36 L297.14 423.25 L297.53 423.15 L297.92 423.05 L298.30 422.95 L298.69 422.86 L299.08 422.76 L299.46 422.67 L299.85 422.58 L300.24 422.49 L300.62 422.41 L301.01 422.32 L301.40 422.24 L301.78 422.16 L302.17 422.08 L302.56 422.00 L302.94 421.93 L303.33 421.85 L303.72 421.78 L304.10 421.71 L304.49 421.64 L304.88 421.57 L305.26 421.50 L305.65 421.44 L306.04 421.37 L306.42 421.31 L306.81 421.25 L307.20 421.18 L307.58 421.12 L307.97 421.07 L308.36 421.01 L308.74 420.95 L309.13 420.89 L309.52 420.84 L309.90 420.79 L310.29 420.73 L310.68 420.68 L311.06 420.63 L311.45 420.58 L311.84 420.53 L312.22 420.48 L312.61 420.43 L313.00 420.39 L313.38 420.34 L313.77 420.29 L314.16 420.25 L314.54 420.20 L314.93 420.16 L315.32 420.12 L315.70 420.08 L316.09 420.04 L316.48 419.99 L316.86 419.95 L317.25 419.92 L317.64 419.88 L318.02 419.84 L318.41 419.80 L318.80 419.76 L319.18 419.73 L319.57 419.69 L319.96 419.66 L320.34 419.62 L320.73 419.59 L321.12 419.55 L321.50 419.52 L321.89 419.49 L322.28 419.45 L322.66 419.42 L323.05 419.39 L323.44 419.36 L323.82 419.33 L324.21 419.30 L324.60 419.27 L324.98 419.24 L325.37 419.21 L325.76 419.18 L326.14 419.16 L326.53 419.13 L326.92 419.10 L327.30 419.07 L327.69 419.05 L328.08 419.02 L328.46 419.00 L328.85 418.97 L329.24 418.95 L329.62 418.92 L330.01 418.90 L330.40 418.87 L330.78 418.85 L331.17 418.83 L331.56 418.80 L331.94 418.78 L332.33 418.76 L332.72 418.74 L333.10 418.71 L333.49 418.69 L333.88 418.67 L334.26 418.65 L334.65 418.63 L335.04 418.61 L335.42 418.59 L335.81 418.57 L336.20 418.55 L336.58 418.53 L336.97 418.51 L337.36 418.49 L337.74 418.47 L338.13 418.45 L338.52 418.44 L338.90 418.42 L339.29 418.40 L339.68 418.38 L340.06 418.37 L340.45 418.35 L340.84 418.33 L341.22 418.32 L341.61 418.30 L342.00 418.28 L342.38 418.27 L342.77 418.25 L343.16 418.24 L343.54 418.22 L343.93 418.21 L344.32 418.19 L344.70 418.18 L345.09 418.16 L345.48 418.15 L345.86 418.13 L346.25 418.12 L346.64 418.10 L347.02 418.09 L347.41 418.08 L347.80 418.06 L348.18 418.05 L348.57 418.04 L348.96 418.02 L349.34 418.01 L349.73 418.00 L350.12 417.99 L350.50 417.97 L350.89 417.96 L351.28 417.95 L351.66 417.94 L352.05 417.93 L352.44 417.92 L352.82 417.90 L353.21 417.89 L353.60 417.88 L353.98 417.87 L354.37 417.86 L354.76 417.85 L355.14 417.84 L355.53 417.83 L355.92 417.82 L356.30 417.81 L356.69 417.80 L357.08 417.79 L357.46 417.78 L357.85 417.77 L358.24 417.76 L358.62 417.75 L359.01 417.74 L359.40 417.73 L359.78 417.72 L360.17 417.71 L360.56 417.70 L360.94 417.70 L361.33 417.69 L361.72 417.68 L362.10 417.67 L362.49 417.66 L362.88 417.65 L363.26 417.65 L363.65 417.64 L364.04 417.63 L364.42 417.62 L364.81 417.61 L365.20 417.61 L365.58 417.60 L365.97 417.59 L366.36 417.58 L366.74 417.58 L367.13 417.57 L367.52 417.56 L367.90 417.56 L368.29 417.55 L368.68 417.54 L369.06 417.54 L369.45 417.53 L369.84 417.52 L370.22 417.52 L370.61 417.51 L371.00 417.50 L371.38 417.50 L371.77 417.49 L372.16 417.48 L372.54 417.48 L372.93 417.47 L373.32 417.47 L373.70 417.46 L374.09 417.45 L374.48 417.45 L374.86 417.44 L375.25 417.44 L375.64 417.43 L376.02 417.43 L376.41 417.42 L376.80 417.42 L377.18 417.41 L377.57 417.41 L377.96 417.40 L378.34 417.40 L378.73 417.39 L379.12 417.39 L379.50 417.38 L379.89 417.38 L380.28 417.37 L380.66 417.37 L381.05 417.36 L381.44 417.36 L381.82 417.35 L382.21 417.35 L382.60 417.34 L382.98 417.34 L383.37 417.34 L383.76 417.33 L384.14 417.33 L384.53 417.32 L384.92 417.32 L385.30 417.32 L385.69 417.31 L385.82 417.31" stroke="#000" stroke-width="2.95"/>
<path d="M67.27 433.40 L67.76 433.39 L68.24 433.39 L68.72 433.38 L69.21 433.38 L69.69 433.37 L70.17 433.37 L70.66 433.36 L71.14 433.35 L71.62 433.35 L72.11 433.34 L72.59 433.34 L73.07 433.33 L73.56 433.32 L74.04 433.32 L74.52 433.31 L75.01 433.30 L75.49 433.30 L75.97 433.29 L76.46 433.28 L76.94 433.28 L77.42 433.27 L77.91 433.26 L78.39 433.25 L78.87 433.25 L79.36 433.24 L79.84 433.23 L80.32 433.22 L80.81 433.21 L81.29 433.21 L81.77 433.20 L82.26 433.19 L82.74 433.18 L83.22 433.17 L83.71 433.16 L84.19 433.15 L84.67 433.15 L85.16 433.14 L85.64 433.13 L86.12 433.12 L86.61 433.11 L87.09 433.10 L87.57 433.09 L88.06 433.08 L88.54 433.07 L89.02 433.06 L89.51 433.05 L89.99 433.04 L90.47 433.03 L90.96 433.01 L91.44 433.00 L91.92 432.99 L92.41 432.98 L92.89 432.97 L93.37 432.96 L93.86 432.95 L94.34 432.93 L94.82 432.92 L95.31 432.91 L95.79 432.90 L96.27 432.88 L96.76 432.87 L97.24 432.86 L97.72 432.85 L98.21 432.83 L98.69 432.82 L99.17 432.80 L99.66 432.79 L100.14 432.78 L100.62 432.76 L101.11 432.75 L101.59 432.73 L102.07 432.72 L102.56 432.70 L103.04 432.69 L103.52 432.67 L104.01 432.66 L104.49 432.64 L104.97 432.63 L105.46 432.61 L105.94 432.59 L106.42 432.58 L106.91 432.56 L107.39 432.54 L107.87 432.52 L108.36 432.51 L108.84 432.49 L109.32 432.47 L109.81 432.45 L110.29 432.44 L110.77 432.42 L111.26 432.40 L111.74 432.38 L112.22 432.36 L112.71 432.34 L113.19 432.32 L113.67 432.30 L114.16 432.28 L114.64 432.26 L115.12 432.24 L115.61 432.22 L116.09 432.20 L116.57 432.18 L117.06 432.16 L117.54 432.14 L118.02 432.12 L118.51 432.09 L118.99 432.07 L119.47 432.05 L119.96 432.03 L120.44 432.01 L120.92 431.98 L121.41 431.96 L121.89 431.94 L122.37 431.91 L122.86 431.89 L123.34 431.87 L123.82 431.84 L124.31 431.82 L124.79 431.80 L125.27 431.77 L125.76 431.75 L126.24 431.73 L126.72 431.70 L127.21 431.68 L127.69 431.65 L128.17 431.63 L128.66 431.60 L129.14 431.58 L129.62 431.55 L130.11 431.53 L130.59 431.51 L131.07 431.48 L131.56 431.46 L132.04 431.43 L132.52 431.41 L133.01 431.38 L133.49 431.36 L133.97 431.33 L134.46 431.31 L134.94 431.29 L135.42 431.26 L135.91 431.24 L136.39 431.22 L136.87 431.19 L137.36 431.17 L137.84 431.15 L138.32 431.13 L138.81 431.10 L139.29 431.08 L139.77 431.06 L140.26 431.04 L140.74 431.02 L141.22 431.00 L141.71 430.98 L142.19 430.97 L142.67 430.95 L143.16 430.93 L143.64 430.92 L144.12 430.90 L144.61 430.89 L145.09 430.87 L145.57 430.86 L146.06 430.85 L146.54 430.84 L147.02 430.83 L147.51 430.82 L147.99 430.82 L148.47 430.81 L148.96 430.81 L149.44 430.81 L149.92 430.81 L150.41 430.81 L150.89 430.81 L151.37 430.82 L151.86 430.82 L152.34 430.83 L152.82 430.85 L153.31 430.86 L153.79 430.88 L154.27 430.90 L154.76 430.92 L155.24 430.94 L155.72 430.97 L156.21 431.00 L156.69 431.03 L157.17 431.07 L157.66 431.11 L158.14 431.16 L158.62 431.21 L159.11 431.26 L159.59 431.32 L160.07 431.38 L160.56 431.45 L161.04 431.52 L161.52 431.59 L162.01 431.67 L162.49 431.76 L162.97 431.85 L163.46 431.95 L163.94 432.06 L164.42 432.17 L164.91 432.29 L165.39 432.42 L165.87 432.55 L166.36 432.69 L166.84 432.84 L167.32 433.00 L167.81 433.16 L168.29 433.34 L168.77 433.52 L169.26 433.72 L169.74 433.92 L170.22 434.14 L170.71 434.36 L171.19 434.60 L171.67 434.85 L172.16 435.11 L172.64 435.39 L173.12 435.67 L173.61 435.97 L174.09 436.29 L174.57 436.62 L175.06 436.96 L175.54 437.32 L176.02 437.70 L176.51 438.09 L176.99 438.50 L177.47 438.93 L177.96 439.38 L178.44 439.84 L178.92 440.33 L179.41 440.84 L179.89 441.36 L180.37 441.91 L180.86 442.48 L181.34 443.07 L181.82 443.69 L182.31 444.33 L182.79 444.99 L183.27 445.69 L183.76 446.40 L184.24 447.15 L184.72 447.92 L185.21 448.71 L185.69 449.54 L186.17 450.40 L186.66 451.29 L187.14 452.20 L187.62 453.15 L188.11 454.13 L188.59 455.14 L189.07 456.19 L189.56 457.27 L190.04 458.38 L190.52 459.52 L191.01 460.71 L191.49 461.92 L191.97 463.17 L192.46 464.46 L192.94 465.78 L193.42 467.14 L193.91 468.53 L194.39 469.96 L194.87 471.43 L195.36 472.93 L195.84 474.47 L196.32 476.04 L196.81 477.65 L197.29 479.29 L197.77 480.96 L198.26 482.67 L198.74 484.41 L199.22 486.18 L199.71 487.99 L200.19 489.82 L200.67 491.68 L201.16 493.57 L201.64 495.48 L202.12 497.41 L202.61 499.37 L203.09 501.35 L203.57 503.35 L204.06 505.36 L204.54 507.39 L205.02 509.43 L205.51 511.48 L205.99 513.54 L206.47 515.60 L206.96 517.67 L207.44 519.73 L207.92 521.79 L208.41 523.84 L208.89 525.89 L209.37 527.92 L209.86 529.94 L210.34 531.94 L210.82 533.92 L211.31 535.88 L211.79 537.80 L212.27 539.70 L212.76 541.57 L213.24 543.39 L213.72 545.18 L214.21 546.93 L214.69 548.63 L215.17 550.29 L215.66 551.89 L216.14 553.44 L216.62 554.94 L217.11 556.38 L217.59 557.75 L218.07 559.07 L218.56 560.32 L219.04 561.51 L219.52 562.62 L220.01 563.67 L220.49 564.65 L220.97 565.55 L221.46 566.38 L221.94 567.14 L222.42 567.82 L222.91 568.43 L223.39 568.95 L223.87 569.40 L224.36 569.78 L224.84 570.07 L225.32 570.29 L225.81 570.43 L226.29 570.50 L226.77 570.48 L227.26 570.39 L227.74 570.23 L228.22 569.99 L228.71 569.68 L229.19 569.30 L229.67 568.84 L230.16 568.32 L230.64 567.73 L231.12 567.07 L231.61 566.35 L232.09 565.56 L232.57 564.71 L233.06 563.80 L233.54 562.84 L234.02 561.82 L234.51 560.75 L234.99 559.63 L235.47 558.46 L235.96 557.24 L236.44 555.98 L236.92 554.68 L237.41 553.33 L237.89 551.96 L238.37 550.54 L238.86 549.10 L239.34 547.62 L239.82 546.12 L240.31 544.60 L240.79 543.05 L241.27 541.48 L241.76 539.90 L242.24 538.30 L242.72 536.68 L243.21 535.06 L243.69 533.42 L244.17 531.78 L244.66 530.14 L245.14 528.49 L245.62 526.84 L246.11 525.19 L246.59 523.54 L247.07 521.90 L247.56 520.26 L248.04 518.63 L248.52 517.01 L249.01 515.40 L249.49 513.80 L249.97 512.21 L250.46 510.63 L250.94 509.07 L251.42 507.53 L251.91 506.00 L252.39 504.49 L252.87 503.00 L253.36 501.52 L253.84 500.07 L254.32 498.63 L254.81 497.22 L255.29 495.82 L255.77 494.45 L256.26 493.10 L256.74 491.77 L257.22 490.46 L257.71 489.18 L258.19 487.92 L258.67 486.68 L259.16 485.46 L259.64 484.27 L260.12 483.10 L260.61 481.95 L261.09 480.82 L261.57 479.72 L262.06 478.64 L262.54 477.58 L263.02 476.55 L263.51 475.53 L263.99 474.54 L264.47 473.57 L264.96 472.62 L265.44 471.69 L265.92 470.79 L266.41 469.90 L266.89 469.04 L267.37 468.19 L267.86 467.36 L268.34 466.56 L268.82 465.77 L269.30 465.00 L269.79 464.25 L270.27 463.52 L270.75 462.80 L271.24 462.10 L271.72 461.42 L272.20 460.76 L272.69 460.11 L273.17 459.48 L273.65 458.86 L274.14 458.26 L274.62 457.68 L275.10 457.10 L275.59 456.55 L276.07 456.01 L276.55 455.48 L277.04 454.96 L277.52 454.46 L278.00 453.97 L278.49 453.49 L278.97 453.02 L279.45 452.57 L279.94 452.13 L280.42 451.70 L280.90 451.28 L281.39 450.87 L281.87 450.47 L282.35 450.08 L282.84 449.70 L283.32 449.34 L283.80 448.98 L284.29 448.63 L284.77 448.28 L285.25 447.95 L285.74 447.63 L286.22 447.31 L286.70 447.00 L287.19 446.70 L287.67 446.41 L288.15 446.13 L288.64 445.85 L289.12 445.58 L289.60 445.31 L290.09 445.06 L290.57 444.81 L291.05 444.56 L291.54 444.32 L292.02 444.09 L292.50 443.86 L292.99 443.64 L293.47 443.43 L293.95 443.22 L294.44 443.01 L294.92 442.81 L295.40 442.62 L295.89 442.43 L296.37 442.24 L296.85 442.06 L297.34 441.89 L297.82 441.71 L298.30 441.55 L298.79 441.38 L299.27 441.22 L299.75 441.07 L300.24 440.91 L300.72 440.76 L301.20 440.62 L301.69 440.48 L302.17 440.34 L302.65 440.20 L303.14 440.07 L303.62 439.94 L304.10 439.82 L304.59 439.69 L305.07 439.57 L305.55 439.46 L306.04 439.34 L306.52 439.23 L307.00 439.12 L307.49 439.02 L307.97 438.91 L308.45 438.81 L308.94 438.71 L309.42 438.61 L309.90 438.52 L310.39 438.42 L310.87 438.33 L311.35 438.24 L311.84 438.16 L312.32 438.07 L312.80 437.99 L313.29 437.91 L313.77 437.83 L314.25 437.75 L314.74 437.67 L315.22 437.60 L315.70 437.53 L316.19 437.45 L316.67 437.38 L317.15 437.32 L317.64 437.25 L318.12 437.18 L318.60 437.12 L319.09 437.06 L319.57 437.00 L320.05 436.94 L320.54 436.88 L321.02 436.82 L321.50 436.76 L321.99 436.71 L322.47 436.65 L322.95 436.60 L323.44 436.55 L323.92 436.50 L324.40 436.45 L324.89 436.40 L325.37 436.35 L325.85 436.30 L326.34 436.26 L326.82 436.21 L327.30 436.17 L327.79 436.13 L328.27 436.08 L328.75 436.04 L329.24 436.00 L329.72 435.96 L330.20 435.92 L330.69 435.88 L331.17 435.85 L331.65 435.81 L332.14 435.77 L332.62 435.74 L333.10 435.70 L333.59 435.67 L334.07 435.64 L334.55 435.60 L335.04 435.57 L335.52 435.54 L336.00 435.51 L336.49 435.48 L336.97 435.45 L337.45 435.42 L337.94 435.39 L338.42 435.36 L338.90 435.33 L339.39 435.31 L339.87 435.28 L340.35 435.25 L340.84 435.23 L341.32 435.20 L341.80 435.18 L342.29 435.15 L342.77 435.13 L343.25 435.11 L343.74 435.08 L344.22 435.06 L344.70 435.04 L345.19 435.02 L345.67 435.00 L346.15 434.97 L346.64 434.95 L347.12 434.93 L347.60 434.91 L348.09 434.89 L348.57 434.88 L349.05 434.86 L349.54 434.84 L350.02 434.82 L350.50 434.80 L350.99 434.78 L351.47 434.77 L351.95 434.75 L352.44 434.73 L352.92 434.72 L353.40 434.70 L353.89 434.69 L354.37 434.67 L354.85 434.65 L355.34 434.64 L355.82 434.62 L356.30 434.61 L356.79 434.60 L357.27 434.58 L357.75 434.57 L358.24 434.55 L358.72 434.54 L359.20 434.53 L359.69 434.52 L360.17 434.50 L360.65 434.49 L361.14 434.48 L361.62 434.47 L362.10 434.45 L362.59 434.44 L363.07 434.43 L363.55 434.42 L364.04 434.41 L364.52 434.40 L365.00 434.39 L365.49 434.38 L365.97 434.37 L366.45 434.36 L366.94 434.35 L367.42 434.34 L367.90 434.33 L368.39 434.32 L368.87 434.31 L369.35 434.30 L369.84 434.29 L370.32 434.28 L370.80 434.27 L371.29 434.26 L371.77 434.26 L372.25 434.25 L372.74 434.24 L373.22 434.23 L373.70 434.22 L374.19 434.22 L374.67 434.21 L375.15 434.20 L375.64 434.19 L376.12 434.19 L376.60 434.18 L377.09 434.17 L377.57 434.17 L378.05 434.16 L378.54 434.15 L379.02 434.15 L379.50 434.14 L379.99 434.13 L380.47 434.13 L380.95 434.12 L381.44 434.11 L381.92 434.11 L382.40 434.10 L382.89 434.10 L383.29 434.09" stroke="#ff0000" stroke-width="2.5" stroke-dasharray="5.4 2.9"/>
<path d="M67.27 365.75 L67.76 365.71 L68.24 365.67 L68.72 365.63 L69.21 365.59 L69.69 365.55 L70.17 365.51 L70.66 365.47 L71.14 365.42 L71.62 365.38 L72.11 365.34 L72.59 365.29 L73.07 365.25 L73.56 365.20 L74.04 365.15 L74.52 365.11 L75.01 365.06 L75.49 365.01 L75.97 364.96 L76.46 364.91 L76.94 364.86 L77.42 364.81 L77.91 364.76 L78.39 364.71 L78.87 364.65 L79.36 364.60 L79.84 364.55 L80.32 364.49 L80.81 364.44 L81.29 364.38 L81.77 364.32 L82.26 364.26 L82.74 364.21 L83.22 364.15 L83.71 364.09 L84.19 364.02 L84.67 363.96 L85.16 363.90 L85.64 363.84 L86.12 363.77 L86.61 363.71 L87.09 363.64 L87.57 363.57 L88.06 363.51 L88.54 363.44 L89.02 363.37 L89.51 363.30 L89.99 363.23 L90.47 363.15 L90.96 363.08 L91.44 363.01 L91.92 362.93 L92.41 362.86 L92.89 362.78 L93.37 362.70 L93.86 362.62 L94.34 362.54 L94.82 362.46 L95.31 362.38 L95.79 362.30 L96.27 362.21 L96.76 362.13 L97.24 362.04 L97.72 361.95 L98.21 361.87 L98.69 361.78 L99.17 361.68 L99.66 361.59 L100.14 361.50 L100.62 361.41 L101.11 361.31 L101.59 361.21 L102.07 361.12 L102.56 361.02 L103.04 360.92 L103.52 360.82 L104.01 360.71 L104.49 360.61 L104.97 360.50 L105.46 360.40 L105.94 360.29 L106.42 360.18 L106.91 360.07 L107.39 359.96 L107.87 359.84 L108.36 359.73 L108.84 359.61 L109.32 359.49 L109.81 359.38 L110.29 359.26 L110.77 359.13 L111.26 359.01 L111.74 358.89 L112.22 358.76 L112.71 358.63 L113.19 358.50 L113.67 358.37 L114.16 358.24 L114.64 358.10 L115.12 357.97 L115.61 357.83 L116.09 357.69 L116.57 357.55 L117.06 357.41 L117.54 357.27 L118.02 357.12 L118.51 356.97 L118.99 356.83 L119.47 356.68 L119.96 356.52 L120.44 356.37 L120.92 356.21 L121.41 356.06 L121.89 355.90 L122.37 355.74 L122.86 355.58 L123.34 355.41 L123.82 355.25 L124.31 355.08 L124.79 354.91 L125.27 354.74 L125.76 354.56 L126.24 354.39 L126.72 354.21 L127.21 354.03 L127.69 353.85 L128.17 353.67 L128.66 353.49 L129.14 353.30 L129.62 353.11 L130.11 352.92 L130.59 352.73 L131.07 352.54 L131.56 352.34 L132.04 352.14 L132.52 351.95 L133.01 351.74 L133.49 351.54 L133.97 351.34 L134.46 351.13 L134.94 350.92 L135.42 350.71 L135.91 350.50 L136.39 350.29 L136.87 350.07 L137.36 349.86 L137.84 349.64 L138.32 349.42 L138.81 349.20 L139.29 348.97 L139.77 348.75 L140.26 348.52 L140.74 348.30 L141.22 348.07 L141.71 347.84 L142.19 347.60 L142.67 347.37 L143.16 347.14 L143.64 346.90 L144.12 346.66 L144.61 346.42 L145.09 346.19 L145.57 345.95 L146.06 345.71 L146.54 345.46 L147.02 345.22 L147.51 344.98 L147.99 344.74 L148.47 344.49 L148.96 344.25 L149.44 344.01 L149.92 343.76 L150.41 343.52 L150.89 343.28 L151.37 343.03 L151.86 342.79 L152.34 342.55 L152.82 342.31 L153.31 342.07 L153.79 341.83 L154.27 341.60 L154.76 341.36 L155.24 341.13 L155.72 340.90 L156.21 340.67 L156.69 340.45 L157.17 340.23 L157.66 340.01 L158.14 339.80 L158.62 339.59 L159.11 339.38 L159.59 339.18 L160.07 338.98 L160.56 338.79 L161.04 338.61 L161.52 338.43 L162.01 338.26 L162.49 338.10 L162.97 337.95 L163.46 337.80 L163.94 337.66 L164.42 337.54 L164.91 337.42 L165.39 337.32 L165.87 337.22 L166.36 337.14 L166.84 337.07 L167.32 337.02 L167.81 336.98 L168.29 336.96 L168.77 336.95 L169.26 336.96 L169.74 336.99 L170.22 337.04 L170.71 337.11 L171.19 337.20 L171.67 337.32 L172.16 337.46 L172.64 337.62 L173.12 337.81 L173.61 338.03 L174.09 338.28 L174.57 338.56 L175.06 338.87 L175.54 339.21 L176.02 339.59 L176.51 340.01 L176.99 340.46 L177.47 340.96 L177.96 341.50 L178.44 342.08 L178.92 342.70 L179.41 343.38 L179.89 344.10 L180.37 344.88 L180.86 345.71 L181.34 346.59 L181.82 347.54 L182.31 348.54 L182.79 349.60 L183.27 350.73 L183.76 351.92 L184.24 353.18 L184.72 354.51 L185.21 355.91 L185.69 357.39 L186.17 358.94 L186.66 360.57 L187.14 362.27 L187.62 364.06 L188.11 365.93 L188.59 367.88 L189.07 369.92 L189.56 372.04 L190.04 374.25 L190.52 376.55 L191.01 378.94 L191.49 381.41 L191.97 383.97 L192.46 386.62 L192.94 389.36 L193.42 392.19 L193.91 395.10 L194.39 398.10 L194.87 401.18 L195.36 404.34 L195.84 407.58 L196.32 410.89 L196.81 414.28 L197.29 417.74 L197.77 421.26 L198.26 424.85 L198.74 428.49 L199.22 432.19 L199.71 435.93 L200.19 439.72 L200.67 443.55 L201.16 447.40 L201.64 451.29 L202.12 455.19 L202.61 459.10 L203.09 463.02 L203.57 466.94 L204.06 470.86 L204.54 474.76 L205.02 478.64 L205.51 482.50 L205.99 486.32 L206.47 490.11 L206.96 493.85 L207.44 497.54 L207.92 501.17 L208.41 504.74 L208.89 508.25 L209.37 511.68 L209.86 515.03 L210.34 518.30 L210.82 521.49 L211.31 524.59 L211.79 527.59 L212.27 530.50 L212.76 533.32 L213.24 536.03 L213.72 538.64 L214.21 541.15 L214.69 543.55 L215.17 545.84 L215.66 548.03 L216.14 550.11 L216.62 552.09 L217.11 553.96 L217.59 555.72 L218.07 557.37 L218.56 558.92 L219.04 560.37 L219.52 561.71 L220.01 562.95 L220.49 564.08 L220.97 565.12 L221.46 566.06 L221.94 566.91 L222.42 567.66 L222.91 568.32 L223.39 568.89 L223.87 569.36 L224.36 569.76 L224.84 570.06 L225.32 570.29 L225.81 570.43 L226.29 570.50 L226.77 570.48 L227.26 570.40 L227.74 570.23 L228.22 570.00 L228.71 569.70 L229.19 569.33 L229.67 568.90 L230.16 568.40 L230.64 567.84 L231.12 567.22 L231.61 566.54 L232.09 565.81 L232.57 565.02 L233.06 564.18 L233.54 563.29 L234.02 562.34 L234.51 561.35 L234.99 560.32 L235.47 559.23 L235.96 558.11 L236.44 556.94 L236.92 555.74 L237.41 554.49 L237.89 553.21 L238.37 551.89 L238.86 550.54 L239.34 549.16 L239.82 547.75 L240.31 546.30 L240.79 544.83 L241.27 543.34 L241.76 541.81 L242.24 540.27 L242.72 538.70 L243.21 537.11 L243.69 535.50 L244.17 533.87 L244.66 532.23 L245.14 530.56 L245.62 528.89 L246.11 527.20 L246.59 525.50 L247.07 523.79 L247.56 522.07 L248.04 520.33 L248.52 518.60 L249.01 516.85 L249.49 515.10 L249.97 513.35 L250.46 511.59 L250.94 509.83 L251.42 508.07 L251.91 506.31 L252.39 504.55 L252.87 502.79 L253.36 501.04 L253.84 499.28 L254.32 497.53 L254.81 495.79 L255.29 494.05 L255.77 492.32 L256.26 490.60 L256.74 488.88 L257.22 487.17 L257.71 485.47 L258.19 483.79 L258.67 482.11 L259.16 480.44 L259.64 478.79 L260.12 477.14 L260.61 475.51 L261.09 473.90 L261.57 472.29 L262.06 470.70 L262.54 469.13 L263.02 467.57 L263.51 466.02 L263.99 464.49 L264.47 462.98 L264.96 461.48 L265.44 460.00 L265.92 458.53 L266.41 457.08 L266.89 455.65 L267.37 454.24 L267.86 452.84 L268.34 451.46 L268.82 450.10 L269.30 448.75 L269.79 447.42 L270.27 446.11 L270.75 444.82 L271.24 443.55 L271.72 442.29 L272.20 441.05 L272.69 439.83 L273.17 438.63 L273.65 437.44 L274.14 436.27 L274.62 435.12 L275.10 433.99 L275.59 432.87 L276.07 431.78 L276.55 430.69 L277.04 429.63 L277.52 428.58 L278.00 427.55 L278.49 426.54 L278.97 425.54 L279.45 424.56 L279.94 423.60 L280.42 422.65 L280.90 421.72 L281.39 420.80 L281.87 419.90 L282.35 419.02 L282.84 418.15 L283.32 417.29 L283.80 416.45 L284.29 415.63 L284.77 414.82 L285.25 414.02 L285.74 413.24 L286.22 412.47 L286.70 411.71 L287.19 410.97 L287.67 410.24 L288.15 409.53 L288.64 408.83 L289.12 408.14 L289.60 407.46 L290.09 406.79 L290.57 406.14 L291.05 405.50 L291.54 404.87 L292.02 404.25 L292.50 403.65 L292.99 403.05 L293.47 402.47 L293.95 401.89 L294.44 401.33 L294.92 400.78 L295.40 400.23 L295.89 399.70 L296.37 399.18 L296.85 398.66 L297.34 398.16 L297.82 397.67 L298.30 397.18 L298.79 396.70 L299.27 396.24 L299.75 395.78 L300.24 395.33 L300.72 394.88 L301.20 394.45 L301.69 394.02 L302.17 393.60 L302.65 393.19 L303.14 392.79 L303.62 392.39 L304.10 392.00 L304.59 391.62 L305.07 391.25 L305.55 390.88 L306.04 390.52 L306.52 390.16 L307.00 389.81 L307.49 389.47 L307.97 389.14 L308.45 388.81 L308.94 388.48 L309.42 388.16 L309.90 387.85 L310.39 387.55 L310.87 387.24 L311.35 386.95 L311.84 386.66 L312.32 386.37 L312.80 386.09 L313.29 385.81 L313.77 385.54 L314.25 385.28 L314.74 385.02 L315.22 384.76 L315.70 384.51 L316.19 384.26 L316.67 384.02 L317.15 383.78 L317.64 383.54 L318.12 383.31 L318.60 383.08 L319.09 382.86 L319.57 382.64 L320.05 382.42 L320.54 382.21 L321.02 382.00 L321.50 381.80 L321.99 381.60 L322.47 381.40 L322.95 381.21 L323.44 381.01 L323.92 380.83 L324.40 380.64 L324.89 380.46 L325.37 380.28 L325.85 380.10 L326.34 379.93 L326.82 379.76 L327.30 379.59 L327.79 379.43 L328.27 379.27 L328.75 379.11 L329.24 378.95 L329.72 378.80 L330.20 378.65 L330.69 378.50 L331.17 378.35 L331.65 378.21 L332.14 378.07 L332.62 377.93 L333.10 377.79 L333.59 377.65 L334.07 377.52 L334.55 377.39 L335.04 377.26 L335.52 377.13 L336.00 377.01 L336.49 376.89 L336.97 376.77 L337.45 376.65 L337.94 376.53 L338.42 376.41 L338.90 376.30 L339.39 376.19 L339.87 376.08 L340.35 375.97 L340.84 375.87 L341.32 375.76 L341.80 375.66 L342.29 375.56 L342.77 375.46 L343.25 375.36 L343.74 375.26 L344.22 375.16 L344.70 375.07 L345.19 374.98 L345.67 374.89 L346.15 374.80 L346.64 374.71 L347.12 374.62 L347.60 374.54 L348.09 374.45 L348.57 374.37 L349.05 374.29 L349.54 374.21 L350.02 374.13 L350.50 374.05 L350.99 373.97 L351.47 373.90 L351.95 373.82 L352.44 373.75 L352.92 373.67 L353.40 373.60 L353.89 373.53 L354.37 373.46 L354.85 373.40 L355.34 373.33 L355.82 373.26 L356.30 373.20 L356.79 373.13 L357.27 373.07 L357.75 373.01 L358.24 372.94 L358.72 372.88 L359.20 372.82 L359.69 372.77 L360.17 372.71 L360.65 372.65 L361.14 372.59 L361.62 372.54 L362.10 372.48 L362.59 372.43 L363.07 372.38 L363.55 372.32 L364.04 372.27 L364.52 372.22 L365.00 372.17 L365.49 372.12 L365.97 372.07 L366.45 372.02 L366.94 371.98 L367.42 371.93 L367.90 371.89 L368.39 371.84 L368.87 371.80 L369.35 371.75 L369.84 371.71 L370.32 371.67 L370.80 371.62 L371.29 371.58 L371.77 371.54 L372.25 371.50 L372.74 371.46 L373.22 371.42 L373.70 371.38 L374.19 371.34 L374.67 371.31 L375.15 371.27 L375.64 371.23 L376.12 371.20 L376.60 371.16 L377.09 371.13 L377.57 371.09 L378.05 371.06 L378.54 371.02 L379.02 370.99 L379.50 370.96 L379.99 370.93 L380.47 370.90 L380.95 370.86 L381.44 370.83 L381.92 370.80 L382.40 370.77 L382.89 370.74 L383.29 370.72" stroke="#00007f" stroke-width="2.4" stroke-dasharray="12.6 3"/>
</g>
<path d="M68.50 577.50v-4.6M68.50 330.50v4.6M147.47 577.50v-4.6M147.47 330.50v4.6M226.45 577.50v-4.6M226.45 330.50v4.6M305.42 577.50v-4.6M305.42 330.50v4.6M384.40 577.50v-4.6M384.40 330.50v4.6M61.50 570.50h4.6M390.50 570.50h-4.6M61.50 509.34h4.6M390.50 509.34h-4.6M61.50 448.18h4.6M390.50 448.18h-4.6M61.50 387.02h4.6M390.50 387.02h-4.6" stroke="#666666" stroke-width="0.9" fill="none"/>
<path d="M84.30 577.50v-3M84.30 330.50v3M100.09 577.50v-3M100.09 330.50v3M115.88 577.50v-3M115.88 330.50v3M131.68 577.50v-3M131.68 330.50v3M163.27 577.50v-3M163.27 330.50v3M179.06 577.50v-3M179.06 330.50v3M194.86 577.50v-3M194.86 330.50v3M210.65 577.50v-3M210.65 330.50v3M242.24 577.50v-3M242.24 330.50v3M258.04 577.50v-3M258.04 330.50v3M273.83 577.50v-3M273.83 330.50v3M289.63 577.50v-3M289.63 330.50v3M321.22 577.50v-3M321.22 330.50v3M337.01 577.50v-3M337.01 330.50v3M352.81 577.50v-3M352.81 330.50v3M368.60 577.50v-3M368.60 330.50v3M61.50 555.21h3M390.50 555.21h-3M61.50 539.92h3M390.50 539.92h-3M61.50 524.63h3M390.50 524.63h-3M61.50 494.05h3M390.50 494.05h-3M61.50 478.76h3M390.50 478.76h-3M61.50 463.47h3M390.50 463.47h-3M61.50 432.89h3M390.50 432.89h-3M61.50 417.60h3M390.50 417.60h-3M61.50 402.31h3M390.50 402.31h-3M61.50 371.73h3M390.50 371.73h-3M61.50 356.44h3M390.50 356.44h-3M61.50 341.15h3M390.50 341.15h-3" stroke="#787878" stroke-width="0.9" fill="none"/>
<rect x="61.50" y="330.50" width="329.00" height="247.00" fill="none" stroke="#a4a4a4" stroke-width="1"/>
<text x="58.60" y="575.90" text-anchor="end" font-size="21">0.0</text>
<text x="58.60" y="514.74" text-anchor="end" font-size="21">0.2</text>
<text x="58.60" y="453.58" text-anchor="end" font-size="21">0.4</text>
<text x="58.60" y="392.42" text-anchor="end" font-size="21">0.6</text>
<text x="68.50" y="596" text-anchor="middle" font-size="21"><tspan>−</tspan><tspan dx="2.4">10</tspan></text>
<text x="147.47" y="596" text-anchor="middle" font-size="21"><tspan>−</tspan><tspan dx="2.4">5</tspan></text>
<text x="226.45" y="596" text-anchor="middle" font-size="21">0</text>
<text x="305.42" y="596" text-anchor="middle" font-size="21">5</text>
<text x="384.40" y="596" text-anchor="middle" font-size="21">10</text>
<text x="226.60" y="623.8" text-anchor="middle" font-size="22" font-style="italic">ρ</text>
<text y="323.70" font-size="24.3"><tspan x="154.63">(c)</tspan><tspan x="188.88">4</tspan><tspan x="201.35" font-style="italic">π</tspan><tspan x="213.85" font-style="italic" font-size="27">η</tspan><tspan x="226.65" dy="4.2" font-size="30.5">/</tspan><tspan x="235.15" dy="-4.2">s</tspan><tspan x="251.10" dy="2.7" font-size="26" stroke="#000" stroke-width="0.35">=</tspan><tspan x="272.85" dy="-2.7" letter-spacing="0.3">10</tspan></text>
<g transform="translate(16.8 464.80) rotate(-90)">
<text x="0" y="0" font-size="22" font-style="italic">π</text>
<path d="M-0.5 -12.4h12" stroke="#000" stroke-width="1.2" fill="none"/>
<text transform="translate(13.3 -8.0) scale(1.25 1)" font-size="15" font-style="italic">ς</text>
<text transform="translate(13.3 4.8) scale(1.25 1)" font-size="15" font-style="italic">ς</text>
</g>
</g>
<g>
<clipPath id="cpd"><rect x="456.50" y="330.50" width="329.10" height="247.00"/></clipPath>
<g clip-path="url(#cpd)" fill="none" stroke-linejoin="round">
<path d="M461.58 393.51 L461.97 393.51 L462.36 393.51 L462.74 393.51 L463.13 393.51 L463.51 393.51 L463.90 393.51 L464.29 393.51 L464.67 393.51 L465.06 393.51 L465.44 393.51 L465.83 393.51 L466.22 393.51 L466.60 393.50 L466.99 393.50 L467.37 393.50 L467.76 393.50 L468.15 393.50 L468.53 393.50 L468.92 393.50 L469.30 393.50 L469.69 393.50 L470.08 393.50 L470.46 393.50 L470.85 393.50 L471.23 393.50 L471.62 393.50 L472.01 393.50 L472.39 393.50 L472.78 393.49 L473.16 393.49 L473.55 393.49 L473.94 393.49 L474.32 393.49 L474.71 393.49 L475.09 393.49 L475.48 393.49 L475.87 393.49 L476.25 393.49 L476.64 393.49 L477.03 393.49 L477.41 393.49 L477.80 393.49 L478.18 393.48 L478.57 393.48 L478.96 393.48 L479.34 393.48 L479.73 393.48 L480.11 393.48 L480.50 393.48 L480.89 393.48 L481.27 393.48 L481.66 393.48 L482.04 393.48 L482.43 393.48 L482.82 393.47 L483.20 393.47 L483.59 393.47 L483.97 393.47 L484.36 393.47 L484.75 393.47 L485.13 393.47 L485.52 393.47 L485.90 393.47 L486.29 393.47 L486.68 393.46 L487.06 393.46 L487.45 393.46 L487.83 393.46 L488.22 393.46 L488.61 393.46 L488.99 393.46 L489.38 393.46 L489.76 393.46 L490.15 393.46 L490.54 393.45 L490.92 393.45 L491.31 393.45 L491.70 393.45 L492.08 393.45 L492.47 393.45 L492.85 393.45 L493.24 393.45 L493.63 393.44 L494.01 393.44 L494.40 393.44 L494.78 393.44 L495.17 393.44 L495.56 393.44 L495.94 393.44 L496.33 393.44 L496.71 393.43 L497.10 393.43 L497.49 393.43 L497.87 393.43 L498.26 393.43 L498.64 393.43 L499.03 393.43 L499.42 393.42 L499.80 393.42 L500.19 393.42 L500.57 393.42 L500.96 393.42 L501.35 393.42 L501.73 393.42 L502.12 393.41 L502.50 393.41 L502.89 393.41 L503.28 393.41 L503.66 393.41 L504.05 393.41 L504.43 393.40 L504.82 393.40 L505.21 393.40 L505.59 393.40 L505.98 393.40 L506.36 393.40 L506.75 393.40 L507.14 393.39 L507.52 393.39 L507.91 393.39 L508.30 393.39 L508.68 393.39 L509.07 393.39 L509.45 393.38 L509.84 393.38 L510.23 393.38 L510.61 393.38 L511.00 393.38 L511.38 393.38 L511.77 393.37 L512.16 393.37 L512.54 393.37 L512.93 393.37 L513.31 393.37 L513.70 393.36 L514.09 393.36 L514.47 393.36 L514.86 393.36 L515.24 393.36 L515.63 393.36 L516.02 393.35 L516.40 393.35 L516.79 393.35 L517.17 393.35 L517.56 393.35 L517.95 393.35 L518.33 393.34 L518.72 393.34 L519.10 393.34 L519.49 393.34 L519.88 393.34 L520.26 393.34 L520.65 393.34 L521.03 393.33 L521.42 393.33 L521.81 393.33 L522.19 393.33 L522.58 393.33 L522.97 393.33 L523.35 393.33 L523.74 393.33 L524.12 393.33 L524.51 393.32 L524.90 393.32 L525.28 393.32 L525.67 393.32 L526.05 393.32 L526.44 393.32 L526.83 393.32 L527.21 393.32 L527.60 393.32 L527.98 393.32 L528.37 393.32 L528.76 393.32 L529.14 393.32 L529.53 393.32 L529.91 393.32 L530.30 393.32 L530.69 393.32 L531.07 393.33 L531.46 393.33 L531.84 393.33 L532.23 393.33 L532.62 393.33 L533.00 393.34 L533.39 393.34 L533.77 393.34 L534.16 393.34 L534.55 393.35 L534.93 393.35 L535.32 393.35 L535.70 393.36 L536.09 393.36 L536.48 393.37 L536.86 393.37 L537.25 393.38 L537.63 393.39 L538.02 393.39 L538.41 393.40 L538.79 393.41 L539.18 393.42 L539.57 393.42 L539.95 393.43 L540.34 393.44 L540.72 393.45 L541.11 393.47 L541.50 393.48 L541.88 393.49 L542.27 393.50 L542.65 393.52 L543.04 393.53 L543.43 393.55 L543.81 393.56 L544.20 393.58 L544.58 393.60 L544.97 393.62 L545.36 393.64 L545.74 393.66 L546.13 393.68 L546.51 393.71 L546.90 393.73 L547.29 393.76 L547.67 393.79 L548.06 393.82 L548.44 393.85 L548.83 393.88 L549.22 393.91 L549.60 393.95 L549.99 393.99 L550.37 394.03 L550.76 394.07 L551.15 394.11 L551.53 394.16 L551.92 394.20 L552.30 394.25 L552.69 394.31 L553.08 394.36 L553.46 394.42 L553.85 394.48 L554.24 394.54 L554.62 394.60 L555.01 394.67 L555.39 394.74 L555.78 394.82 L556.17 394.90 L556.55 394.98 L556.94 395.07 L557.32 395.15 L557.71 395.25 L558.10 395.35 L558.48 395.45 L558.87 395.55 L559.25 395.67 L559.64 395.78 L560.03 395.90 L560.41 396.03 L560.80 396.16 L561.18 396.30 L561.57 396.44 L561.96 396.59 L562.34 396.74 L562.73 396.91 L563.11 397.08 L563.50 397.25 L563.89 397.44 L564.27 397.63 L564.66 397.83 L565.04 398.03 L565.43 398.25 L565.82 398.47 L566.20 398.71 L566.59 398.95 L566.97 399.20 L567.36 399.47 L567.75 399.74 L568.13 400.02 L568.52 400.32 L568.91 400.63 L569.29 400.95 L569.68 401.28 L570.06 401.62 L570.45 401.98 L570.84 402.35 L571.22 402.74 L571.61 403.14 L571.99 403.55 L572.38 403.98 L572.77 404.43 L573.15 404.89 L573.54 405.38 L573.92 405.87 L574.31 406.39 L574.70 406.92 L575.08 407.48 L575.47 408.05 L575.85 408.64 L576.24 409.26 L576.63 409.89 L577.01 410.55 L577.40 411.23 L577.78 411.93 L578.17 412.65 L578.56 413.40 L578.94 414.18 L579.33 414.98 L579.71 415.80 L580.10 416.65 L580.49 417.53 L580.87 418.43 L581.26 419.36 L581.64 420.32 L582.03 421.31 L582.42 422.33 L582.80 423.38 L583.19 424.46 L583.57 425.56 L583.96 426.70 L584.35 427.87 L584.73 429.07 L585.12 430.31 L585.51 431.57 L585.89 432.87 L586.28 434.20 L586.66 435.56 L587.05 436.96 L587.44 438.38 L587.82 439.84 L588.21 441.34 L588.59 442.86 L588.98 444.42 L589.37 446.01 L589.75 447.63 L590.14 449.29 L590.52 450.97 L590.91 452.69 L591.30 454.43 L591.68 456.21 L592.07 458.01 L592.45 459.85 L592.84 461.71 L593.23 463.59 L593.61 465.51 L594.00 467.44 L594.38 469.40 L594.77 471.39 L595.16 473.39 L595.54 475.42 L595.93 477.46 L596.31 479.52 L596.70 481.59 L597.09 483.68 L597.47 485.78 L597.86 487.90 L598.24 490.02 L598.63 492.15 L599.02 494.28 L599.40 496.42 L599.79 498.56 L600.18 500.70 L600.56 502.83 L600.95 504.97 L601.33 507.09 L601.72 509.21 L602.11 511.32 L602.49 513.42 L602.88 515.50 L603.26 517.57 L603.65 519.62 L604.04 521.65 L604.42 523.66 L604.81 525.64 L605.19 527.60 L605.58 529.53 L605.97 531.43 L606.35 533.30 L606.74 535.14 L607.12 536.95 L607.51 538.72 L607.90 540.45 L608.28 542.14 L608.67 543.80 L609.05 545.41 L609.44 546.98 L609.83 548.51 L610.21 549.99 L610.60 551.42 L610.98 552.81 L611.37 554.15 L611.76 555.44 L612.14 556.68 L612.53 557.87 L612.91 559.01 L613.30 560.10 L613.69 561.14 L614.07 562.12 L614.46 563.05 L614.84 563.93 L615.23 564.75 L615.62 565.51 L616.00 566.22 L616.39 566.88 L616.78 567.48 L617.16 568.03 L617.55 568.52 L617.93 568.95 L618.32 569.33 L618.71 569.65 L619.09 569.91 L619.48 570.12 L619.86 570.27 L620.25 570.36 L620.64 570.40 L621.02 570.38 L621.41 570.31 L621.79 570.17 L622.18 569.99 L622.57 569.74 L622.95 569.44 L623.34 569.08 L623.72 568.67 L624.11 568.20 L624.50 567.68 L624.88 567.10 L625.27 566.47 L625.65 565.78 L626.04 565.04 L626.43 564.24 L626.81 563.39 L627.20 562.49 L627.58 561.54 L627.97 560.53 L628.36 559.47 L628.74 558.36 L629.13 557.20 L629.51 555.99 L629.90 554.73 L630.29 553.43 L630.67 552.08 L631.06 550.68 L631.45 549.24 L631.83 547.75 L632.22 546.22 L632.60 544.65 L632.99 543.04 L633.38 541.39 L633.76 539.70 L634.15 537.97 L634.53 536.21 L634.92 534.42 L635.31 532.60 L635.69 530.74 L636.08 528.86 L636.46 526.95 L636.85 525.02 L637.24 523.06 L637.62 521.08 L638.01 519.08 L638.39 517.07 L638.78 515.04 L639.17 512.99 L639.55 510.93 L639.94 508.86 L640.32 506.79 L640.71 504.71 L641.10 502.62 L641.48 500.53 L641.87 498.44 L642.25 496.35 L642.64 494.26 L643.03 492.18 L643.41 490.11 L643.80 488.04 L644.18 485.98 L644.57 483.94 L644.96 481.91 L645.34 479.89 L645.73 477.88 L646.11 475.90 L646.50 473.93 L646.89 471.98 L647.27 470.06 L647.66 468.15 L648.05 466.27 L648.43 464.42 L648.82 462.58 L649.20 460.78 L649.59 459.00 L649.98 457.25 L650.36 455.52 L650.75 453.83 L651.13 452.16 L651.52 450.52 L651.91 448.92 L652.29 447.34 L652.68 445.80 L653.06 444.28 L653.45 442.80 L653.84 441.35 L654.22 439.92 L654.61 438.53 L654.99 437.18 L655.38 435.85 L655.77 434.55 L656.15 433.29 L656.54 432.05 L656.92 430.85 L657.31 429.67 L657.70 428.53 L658.08 427.42 L658.47 426.33 L658.85 425.28 L659.24 424.25 L659.63 423.25 L660.01 422.28 L660.40 421.33 L660.78 420.42 L661.17 419.53 L661.56 418.66 L661.94 417.82 L662.33 417.01 L662.72 416.22 L663.10 415.45 L663.49 414.71 L663.87 413.99 L664.26 413.29 L664.65 412.61 L665.03 411.96 L665.42 411.32 L665.80 410.71 L666.19 410.12 L666.58 409.54 L666.96 408.99 L667.35 408.45 L667.73 407.93 L668.12 407.43 L668.51 406.94 L668.89 406.47 L669.28 406.02 L669.66 405.58 L670.05 405.16 L670.44 404.75 L670.82 404.35 L671.21 403.97 L671.59 403.60 L671.98 403.25 L672.37 402.91 L672.75 402.57 L673.14 402.26 L673.52 401.95 L673.91 401.65 L674.30 401.36 L674.68 401.09 L675.07 400.82 L675.45 400.57 L675.84 400.32 L676.23 400.08 L676.61 399.85 L677.00 399.63 L677.38 399.42 L677.77 399.21 L678.16 399.01 L678.54 398.82 L678.93 398.64 L679.32 398.46 L679.70 398.29 L680.09 398.12 L680.47 397.97 L680.86 397.81 L681.25 397.67 L681.63 397.52 L682.02 397.39 L682.40 397.26 L682.79 397.13 L683.18 397.01 L683.56 396.89 L683.95 396.78 L684.33 396.67 L684.72 396.56 L685.11 396.46 L685.49 396.37 L685.88 396.27 L686.26 396.18 L686.65 396.10 L687.04 396.01 L687.42 395.93 L687.81 395.86 L688.19 395.78 L688.58 395.71 L688.97 395.64 L689.35 395.57 L689.74 395.51 L690.12 395.45 L690.51 395.39 L690.90 395.33 L691.28 395.28 L691.67 395.22 L692.05 395.17 L692.44 395.12 L692.83 395.07 L693.21 395.03 L693.60 394.98 L693.99 394.94 L694.37 394.90 L694.76 394.86 L695.14 394.82 L695.53 394.79 L695.92 394.75 L696.30 394.72 L696.69 394.68 L697.07 394.65 L697.46 394.62 L697.85 394.59 L698.23 394.56 L698.62 394.54 L699.00 394.51 L699.39 394.48 L699.78 394.46 L700.16 394.44 L700.55 394.41 L700.93 394.39 L701.32 394.37 L701.71 394.35 L702.09 394.33 L702.48 394.31 L702.86 394.29 L703.25 394.27 L703.64 394.25 L704.02 394.24 L704.41 394.22 L704.79 394.20 L705.18 394.19 L705.57 394.17 L705.95 394.16 L706.34 394.15 L706.72 394.13 L707.11 394.12 L707.50 394.11 L707.88 394.10 L708.27 394.08 L708.65 394.07 L709.04 394.06 L709.43 394.05 L709.81 394.04 L710.20 394.03 L710.59 394.02 L710.97 394.01 L711.36 394.00 L711.74 393.99 L712.13 393.98 L712.52 393.97 L712.90 393.97 L713.29 393.96 L713.67 393.95 L714.06 393.94 L714.45 393.94 L714.83 393.93 L715.22 393.92 L715.60 393.91 L715.99 393.91 L716.38 393.90 L716.76 393.89 L717.15 393.89 L717.53 393.88 L717.92 393.88 L718.31 393.87 L718.69 393.87 L719.08 393.86 L719.46 393.86 L719.85 393.85 L720.24 393.85 L720.62 393.84 L721.01 393.84 L721.39 393.83 L721.78 393.83 L722.17 393.82 L722.55 393.82 L722.94 393.81 L723.32 393.81 L723.71 393.80 L724.10 393.80 L724.48 393.80 L724.87 393.79 L725.26 393.79 L725.64 393.79 L726.03 393.78 L726.41 393.78 L726.80 393.78 L727.19 393.77 L727.57 393.77 L727.96 393.77 L728.34 393.76 L728.73 393.76 L729.12 393.76 L729.50 393.75 L729.89 393.75 L730.27 393.75 L730.66 393.74 L731.05 393.74 L731.43 393.74 L731.82 393.74 L732.20 393.73 L732.59 393.73 L732.98 393.73 L733.36 393.73 L733.75 393.72 L734.13 393.72 L734.52 393.72 L734.91 393.72 L735.29 393.71 L735.68 393.71 L736.06 393.71 L736.45 393.71 L736.84 393.71 L737.22 393.70 L737.61 393.70 L737.99 393.70 L738.38 393.70 L738.77 393.70 L739.15 393.69 L739.54 393.69 L739.92 393.69 L740.31 393.69 L740.70 393.69 L741.08 393.68 L741.47 393.68 L741.86 393.68 L742.24 393.68 L742.63 393.68 L743.01 393.68 L743.40 393.67 L743.79 393.67 L744.17 393.67 L744.56 393.67 L744.94 393.67 L745.33 393.67 L745.72 393.67 L746.10 393.66 L746.49 393.66 L746.87 393.66 L747.26 393.66 L747.65 393.66 L748.03 393.66 L748.42 393.66 L748.80 393.65 L749.19 393.65 L749.58 393.65 L749.96 393.65 L750.35 393.65 L750.73 393.65 L751.12 393.65 L751.51 393.65 L751.89 393.64 L752.28 393.64 L752.66 393.64 L753.05 393.64 L753.44 393.64 L753.82 393.64 L754.21 393.64 L754.59 393.64 L754.98 393.64 L755.37 393.63 L755.75 393.63 L756.14 393.63 L756.53 393.63 L756.91 393.63 L757.30 393.63 L757.68 393.63 L758.07 393.63 L758.46 393.63 L758.84 393.63 L759.23 393.62 L759.61 393.62 L760.00 393.62 L760.39 393.62 L760.77 393.62 L761.16 393.62 L761.54 393.62 L761.93 393.62 L762.32 393.62 L762.70 393.62 L763.09 393.62 L763.47 393.61 L763.86 393.61 L764.25 393.61 L764.63 393.61 L765.02 393.61 L765.40 393.61 L765.79 393.61 L766.18 393.61 L766.56 393.61 L766.95 393.61 L767.33 393.61 L767.72 393.61 L768.11 393.61 L768.49 393.61 L768.88 393.60 L769.26 393.60 L769.65 393.60 L770.04 393.60 L770.42 393.60 L770.81 393.60 L771.20 393.60 L771.58 393.60 L771.97 393.60 L772.35 393.60 L772.74 393.60 L773.13 393.60 L773.51 393.60 L773.90 393.60 L774.28 393.60 L774.67 393.60 L775.06 393.59 L775.44 393.59 L775.83 393.59 L776.21 393.59 L776.60 393.59 L776.99 393.59 L777.37 393.59 L777.76 393.59 L778.14 393.59 L778.53 393.59 L778.92 393.59 L779.30 393.59 L779.69 393.59 L779.82 393.59" stroke="#000" stroke-width="2.95"/>
<path d="M461.78 412.19 L462.26 412.19 L462.74 412.19 L463.22 412.18 L463.71 412.18 L464.19 412.18 L464.67 412.18 L465.15 412.18 L465.64 412.18 L466.12 412.18 L466.60 412.18 L467.08 412.18 L467.57 412.18 L468.05 412.18 L468.53 412.18 L469.01 412.18 L469.50 412.18 L469.98 412.18 L470.46 412.18 L470.94 412.18 L471.43 412.18 L471.91 412.18 L472.39 412.18 L472.88 412.18 L473.36 412.17 L473.84 412.17 L474.32 412.17 L474.81 412.17 L475.29 412.17 L475.77 412.17 L476.25 412.17 L476.74 412.17 L477.22 412.17 L477.70 412.17 L478.18 412.17 L478.67 412.17 L479.15 412.17 L479.63 412.17 L480.11 412.17 L480.60 412.17 L481.08 412.17 L481.56 412.17 L482.04 412.17 L482.53 412.17 L483.01 412.17 L483.49 412.16 L483.97 412.16 L484.46 412.16 L484.94 412.16 L485.42 412.16 L485.90 412.16 L486.39 412.16 L486.87 412.16 L487.35 412.16 L487.83 412.16 L488.32 412.16 L488.80 412.16 L489.28 412.16 L489.76 412.16 L490.25 412.16 L490.73 412.16 L491.21 412.16 L491.70 412.16 L492.18 412.16 L492.66 412.16 L493.14 412.16 L493.63 412.16 L494.11 412.16 L494.59 412.16 L495.07 412.16 L495.56 412.16 L496.04 412.16 L496.52 412.16 L497.00 412.16 L497.49 412.16 L497.97 412.16 L498.45 412.16 L498.93 412.16 L499.42 412.16 L499.90 412.16 L500.38 412.17 L500.86 412.17 L501.35 412.17 L501.83 412.17 L502.31 412.17 L502.79 412.17 L503.28 412.17 L503.76 412.17 L504.24 412.17 L504.72 412.18 L505.21 412.18 L505.69 412.18 L506.17 412.18 L506.65 412.18 L507.14 412.19 L507.62 412.19 L508.10 412.19 L508.58 412.19 L509.07 412.20 L509.55 412.20 L510.03 412.20 L510.52 412.21 L511.00 412.21 L511.48 412.21 L511.96 412.22 L512.45 412.22 L512.93 412.23 L513.41 412.23 L513.89 412.23 L514.38 412.24 L514.86 412.25 L515.34 412.25 L515.82 412.26 L516.31 412.26 L516.79 412.27 L517.27 412.28 L517.75 412.28 L518.24 412.29 L518.72 412.30 L519.20 412.31 L519.68 412.32 L520.17 412.32 L520.65 412.33 L521.13 412.34 L521.61 412.35 L522.10 412.36 L522.58 412.38 L523.06 412.39 L523.54 412.40 L524.03 412.41 L524.51 412.43 L524.99 412.44 L525.47 412.45 L525.96 412.47 L526.44 412.49 L526.92 412.50 L527.40 412.52 L527.89 412.54 L528.37 412.56 L528.85 412.58 L529.33 412.60 L529.82 412.62 L530.30 412.64 L530.78 412.67 L531.27 412.69 L531.75 412.72 L532.23 412.74 L532.71 412.77 L533.20 412.80 L533.68 412.83 L534.16 412.86 L534.64 412.89 L535.13 412.93 L535.61 412.96 L536.09 413.00 L536.57 413.04 L537.06 413.07 L537.54 413.12 L538.02 413.16 L538.50 413.20 L538.99 413.25 L539.47 413.30 L539.95 413.35 L540.43 413.40 L540.92 413.46 L541.40 413.51 L541.88 413.57 L542.36 413.63 L542.85 413.70 L543.33 413.76 L543.81 413.83 L544.29 413.90 L544.78 413.98 L545.26 414.05 L545.74 414.13 L546.22 414.22 L546.71 414.30 L547.19 414.39 L547.67 414.49 L548.15 414.59 L548.64 414.69 L549.12 414.79 L549.60 414.90 L550.09 415.01 L550.57 415.13 L551.05 415.25 L551.53 415.38 L552.02 415.51 L552.50 415.65 L552.98 415.79 L553.46 415.94 L553.95 416.09 L554.43 416.25 L554.91 416.41 L555.39 416.58 L555.88 416.76 L556.36 416.94 L556.84 417.13 L557.32 417.33 L557.81 417.54 L558.29 417.75 L558.77 417.97 L559.25 418.20 L559.74 418.43 L560.22 418.68 L560.70 418.93 L561.18 419.20 L561.67 419.47 L562.15 419.76 L562.63 420.05 L563.11 420.35 L563.60 420.67 L564.08 421.00 L564.56 421.33 L565.04 421.69 L565.53 422.05 L566.01 422.42 L566.49 422.81 L566.97 423.22 L567.46 423.63 L567.94 424.07 L568.42 424.51 L568.91 424.98 L569.39 425.45 L569.87 425.95 L570.35 426.46 L570.84 426.99 L571.32 427.54 L571.80 428.10 L572.28 428.69 L572.77 429.29 L573.25 429.92 L573.73 430.56 L574.21 431.23 L574.70 431.91 L575.18 432.63 L575.66 433.36 L576.14 434.11 L576.63 434.89 L577.11 435.70 L577.59 436.53 L578.07 437.39 L578.56 438.27 L579.04 439.18 L579.52 440.11 L580.00 441.08 L580.49 442.07 L580.97 443.09 L581.45 444.14 L581.93 445.22 L582.42 446.33 L582.90 447.48 L583.38 448.65 L583.86 449.86 L584.35 451.10 L584.83 452.37 L585.31 453.67 L585.79 455.01 L586.28 456.38 L586.76 457.78 L587.24 459.22 L587.72 460.69 L588.21 462.19 L588.69 463.73 L589.17 465.31 L589.66 466.91 L590.14 468.55 L590.62 470.23 L591.10 471.93 L591.59 473.67 L592.07 475.44 L592.55 477.25 L593.03 479.08 L593.52 480.94 L594.00 482.83 L594.48 484.75 L594.96 486.70 L595.45 488.67 L595.93 490.67 L596.41 492.69 L596.89 494.73 L597.38 496.79 L597.86 498.87 L598.34 500.97 L598.82 503.08 L599.31 505.21 L599.79 507.34 L600.27 509.48 L600.75 511.63 L601.24 513.78 L601.72 515.94 L602.20 518.09 L602.68 520.23 L603.17 522.37 L603.65 524.50 L604.13 526.62 L604.61 528.72 L605.10 530.80 L605.58 532.86 L606.06 534.90 L606.54 536.90 L607.03 538.88 L607.51 540.82 L607.99 542.72 L608.48 544.59 L608.96 546.41 L609.44 548.18 L609.92 549.91 L610.41 551.58 L610.89 553.19 L611.37 554.75 L611.85 556.25 L612.34 557.68 L612.82 559.05 L613.30 560.35 L613.78 561.58 L614.27 562.74 L614.75 563.82 L615.23 564.82 L615.71 565.75 L616.20 566.60 L616.68 567.36 L617.16 568.04 L617.64 568.64 L618.13 569.15 L618.61 569.57 L619.09 569.91 L619.57 570.16 L620.06 570.32 L620.54 570.40 L621.02 570.38 L621.50 570.28 L621.99 570.09 L622.47 569.81 L622.95 569.44 L623.43 568.99 L623.92 568.45 L624.40 567.83 L624.88 567.13 L625.36 566.34 L625.85 565.48 L626.33 564.53 L626.81 563.51 L627.30 562.42 L627.78 561.25 L628.26 560.01 L628.74 558.70 L629.23 557.33 L629.71 555.89 L630.19 554.39 L630.67 552.84 L631.16 551.23 L631.64 549.56 L632.12 547.85 L632.60 546.09 L633.09 544.29 L633.57 542.44 L634.05 540.56 L634.53 538.64 L635.02 536.70 L635.50 534.72 L635.98 532.72 L636.46 530.69 L636.95 528.64 L637.43 526.58 L637.91 524.51 L638.39 522.42 L638.88 520.32 L639.36 518.22 L639.84 516.12 L640.32 514.01 L640.81 511.91 L641.29 509.81 L641.77 507.72 L642.25 505.64 L642.74 503.56 L643.22 501.51 L643.70 499.46 L644.18 497.43 L644.67 495.42 L645.15 493.43 L645.63 491.46 L646.11 489.52 L646.60 487.60 L647.08 485.70 L647.56 483.83 L648.05 481.99 L648.53 480.17 L649.01 478.38 L649.49 476.63 L649.98 474.90 L650.46 473.20 L650.94 471.54 L651.42 469.91 L651.91 468.30 L652.39 466.73 L652.87 465.20 L653.35 463.69 L653.84 462.22 L654.32 460.78 L654.80 459.37 L655.28 458.00 L655.77 456.65 L656.25 455.34 L656.73 454.06 L657.21 452.82 L657.70 451.60 L658.18 450.41 L658.66 449.26 L659.14 448.13 L659.63 447.03 L660.11 445.97 L660.59 444.93 L661.07 443.92 L661.56 442.93 L662.04 441.98 L662.52 441.05 L663.00 440.15 L663.49 439.27 L663.97 438.42 L664.45 437.59 L664.93 436.79 L665.42 436.01 L665.90 435.25 L666.38 434.52 L666.87 433.80 L667.35 433.11 L667.83 432.44 L668.31 431.79 L668.80 431.16 L669.28 430.55 L669.76 429.96 L670.24 429.39 L670.73 428.83 L671.21 428.29 L671.69 427.77 L672.17 427.27 L672.66 426.78 L673.14 426.31 L673.62 425.85 L674.10 425.40 L674.59 424.97 L675.07 424.56 L675.55 424.16 L676.03 423.77 L676.52 423.39 L677.00 423.03 L677.48 422.67 L677.96 422.33 L678.45 422.00 L678.93 421.68 L679.41 421.37 L679.89 421.07 L680.38 420.79 L680.86 420.51 L681.34 420.24 L681.82 419.97 L682.31 419.72 L682.79 419.48 L683.27 419.24 L683.75 419.01 L684.24 418.79 L684.72 418.58 L685.20 418.37 L685.69 418.17 L686.17 417.98 L686.65 417.79 L687.13 417.61 L687.62 417.44 L688.10 417.27 L688.58 417.11 L689.06 416.95 L689.55 416.80 L690.03 416.65 L690.51 416.51 L690.99 416.37 L691.48 416.24 L691.96 416.11 L692.44 415.98 L692.92 415.86 L693.41 415.75 L693.89 415.64 L694.37 415.53 L694.85 415.42 L695.34 415.32 L695.82 415.22 L696.30 415.13 L696.78 415.04 L697.27 414.95 L697.75 414.86 L698.23 414.78 L698.71 414.70 L699.20 414.62 L699.68 414.55 L700.16 414.48 L700.64 414.41 L701.13 414.34 L701.61 414.27 L702.09 414.21 L702.57 414.15 L703.06 414.09 L703.54 414.03 L704.02 413.98 L704.50 413.92 L704.99 413.87 L705.47 413.82 L705.95 413.77 L706.44 413.73 L706.92 413.68 L707.40 413.64 L707.88 413.60 L708.37 413.55 L708.85 413.51 L709.33 413.48 L709.81 413.44 L710.30 413.40 L710.78 413.37 L711.26 413.33 L711.74 413.30 L712.23 413.27 L712.71 413.24 L713.19 413.21 L713.67 413.18 L714.16 413.15 L714.64 413.13 L715.12 413.10 L715.60 413.08 L716.09 413.05 L716.57 413.03 L717.05 413.01 L717.53 412.98 L718.02 412.96 L718.50 412.94 L718.98 412.92 L719.46 412.90 L719.95 412.88 L720.43 412.87 L720.91 412.85 L721.39 412.83 L721.88 412.81 L722.36 412.80 L722.84 412.78 L723.32 412.77 L723.81 412.75 L724.29 412.74 L724.77 412.72 L725.26 412.71 L725.74 412.70 L726.22 412.69 L726.70 412.67 L727.19 412.66 L727.67 412.65 L728.15 412.64 L728.63 412.63 L729.12 412.62 L729.60 412.61 L730.08 412.60 L730.56 412.59 L731.05 412.58 L731.53 412.57 L732.01 412.56 L732.49 412.55 L732.98 412.54 L733.46 412.54 L733.94 412.53 L734.42 412.52 L734.91 412.51 L735.39 412.51 L735.87 412.50 L736.35 412.49 L736.84 412.49 L737.32 412.48 L737.80 412.47 L738.28 412.47 L738.77 412.46 L739.25 412.46 L739.73 412.45 L740.21 412.44 L740.70 412.44 L741.18 412.43 L741.66 412.43 L742.14 412.42 L742.63 412.42 L743.11 412.42 L743.59 412.41 L744.08 412.41 L744.56 412.40 L745.04 412.40 L745.52 412.39 L746.01 412.39 L746.49 412.39 L746.97 412.38 L747.45 412.38 L747.94 412.38 L748.42 412.37 L748.90 412.37 L749.38 412.37 L749.87 412.36 L750.35 412.36 L750.83 412.36 L751.31 412.35 L751.80 412.35 L752.28 412.35 L752.76 412.35 L753.24 412.34 L753.73 412.34 L754.21 412.34 L754.69 412.34 L755.17 412.33 L755.66 412.33 L756.14 412.33 L756.62 412.33 L757.10 412.32 L757.59 412.32 L758.07 412.32 L758.55 412.32 L759.03 412.32 L759.52 412.31 L760.00 412.31 L760.48 412.31 L760.96 412.31 L761.45 412.31 L761.93 412.31 L762.41 412.30 L762.89 412.30 L763.38 412.30 L763.86 412.30 L764.34 412.30 L764.83 412.30 L765.31 412.29 L765.79 412.29 L766.27 412.29 L766.76 412.29 L767.24 412.29 L767.72 412.29 L768.20 412.29 L768.69 412.29 L769.17 412.28 L769.65 412.28 L770.13 412.28 L770.62 412.28 L771.10 412.28 L771.58 412.28 L772.06 412.28 L772.55 412.28 L773.03 412.28 L773.51 412.27 L773.99 412.27 L774.48 412.27 L774.96 412.27 L775.44 412.27 L775.92 412.27 L776.41 412.27 L776.89 412.27 L777.29 412.27" stroke="#ff0000" stroke-width="2.5" stroke-dasharray="5.4 2.9"/>
<path d="M461.78 336.84 L462.26 336.84 L462.74 336.84 L463.22 336.84 L463.71 336.84 L464.19 336.84 L464.67 336.83 L465.15 336.83 L465.64 336.83 L466.12 336.83 L466.60 336.83 L467.08 336.83 L467.57 336.83 L468.05 336.83 L468.53 336.83 L469.01 336.83 L469.50 336.82 L469.98 336.82 L470.46 336.82 L470.94 336.82 L471.43 336.82 L471.91 336.82 L472.39 336.82 L472.88 336.82 L473.36 336.82 L473.84 336.82 L474.32 336.81 L474.81 336.81 L475.29 336.81 L475.77 336.81 L476.25 336.81 L476.74 336.81 L477.22 336.81 L477.70 336.81 L478.18 336.81 L478.67 336.80 L479.15 336.80 L479.63 336.80 L480.11 336.80 L480.60 336.80 L481.08 336.80 L481.56 336.80 L482.04 336.80 L482.53 336.80 L483.01 336.79 L483.49 336.79 L483.97 336.79 L484.46 336.79 L484.94 336.79 L485.42 336.79 L485.90 336.79 L486.39 336.79 L486.87 336.79 L487.35 336.79 L487.83 336.78 L488.32 336.78 L488.80 336.78 L489.28 336.78 L489.76 336.78 L490.25 336.78 L490.73 336.78 L491.21 336.78 L491.70 336.78 L492.18 336.78 L492.66 336.78 L493.14 336.78 L493.63 336.78 L494.11 336.78 L494.59 336.78 L495.07 336.78 L495.56 336.78 L496.04 336.78 L496.52 336.78 L497.00 336.78 L497.49 336.78 L497.97 336.78 L498.45 336.78 L498.93 336.78 L499.42 336.78 L499.90 336.78 L500.38 336.78 L500.86 336.78 L501.35 336.78 L501.83 336.78 L502.31 336.78 L502.79 336.78 L503.28 336.78 L503.76 336.79 L504.24 336.79 L504.72 336.79 L505.21 336.79 L505.69 336.79 L506.17 336.80 L506.65 336.80 L507.14 336.80 L507.62 336.80 L508.10 336.81 L508.58 336.81 L509.07 336.81 L509.55 336.82 L510.03 336.82 L510.52 336.83 L511.00 336.83 L511.48 336.84 L511.96 336.84 L512.45 336.85 L512.93 336.85 L513.41 336.86 L513.89 336.87 L514.38 336.87 L514.86 336.88 L515.34 336.89 L515.82 336.90 L516.31 336.91 L516.79 336.92 L517.27 336.93 L517.75 336.94 L518.24 336.95 L518.72 336.96 L519.20 336.97 L519.68 336.98 L520.17 337.00 L520.65 337.01 L521.13 337.03 L521.61 337.04 L522.10 337.06 L522.58 337.08 L523.06 337.10 L523.54 337.11 L524.03 337.13 L524.51 337.16 L524.99 337.18 L525.47 337.20 L525.96 337.22 L526.44 337.25 L526.92 337.28 L527.40 337.30 L527.89 337.33 L528.37 337.36 L528.85 337.40 L529.33 337.43 L529.82 337.46 L530.30 337.50 L530.78 337.54 L531.27 337.58 L531.75 337.62 L532.23 337.66 L532.71 337.71 L533.20 337.75 L533.68 337.80 L534.16 337.85 L534.64 337.91 L535.13 337.96 L535.61 338.02 L536.09 338.08 L536.57 338.15 L537.06 338.22 L537.54 338.28 L538.02 338.36 L538.50 338.43 L538.99 338.51 L539.47 338.59 L539.95 338.68 L540.43 338.77 L540.92 338.86 L541.40 338.96 L541.88 339.06 L542.36 339.17 L542.85 339.28 L543.33 339.39 L543.81 339.51 L544.29 339.63 L544.78 339.76 L545.26 339.90 L545.74 340.04 L546.22 340.19 L546.71 340.34 L547.19 340.50 L547.67 340.66 L548.15 340.83 L548.64 341.01 L549.12 341.20 L549.60 341.39 L550.09 341.59 L550.57 341.80 L551.05 342.02 L551.53 342.25 L552.02 342.49 L552.50 342.73 L552.98 342.99 L553.46 343.25 L553.95 343.53 L554.43 343.82 L554.91 344.12 L555.39 344.43 L555.88 344.75 L556.36 345.08 L556.84 345.43 L557.32 345.80 L557.81 346.17 L558.29 346.56 L558.77 346.97 L559.25 347.39 L559.74 347.83 L560.22 348.28 L560.70 348.75 L561.18 349.24 L561.67 349.75 L562.15 350.28 L562.63 350.83 L563.11 351.40 L563.60 351.98 L564.08 352.60 L564.56 353.23 L565.04 353.88 L565.53 354.56 L566.01 355.27 L566.49 356.00 L566.97 356.76 L567.46 357.54 L567.94 358.35 L568.42 359.19 L568.91 360.06 L569.39 360.96 L569.87 361.89 L570.35 362.85 L570.84 363.85 L571.32 364.88 L571.80 365.94 L572.28 367.04 L572.77 368.17 L573.25 369.34 L573.73 370.55 L574.21 371.80 L574.70 373.08 L575.18 374.41 L575.66 375.78 L576.14 377.19 L576.63 378.64 L577.11 380.13 L577.59 381.67 L578.07 383.25 L578.56 384.88 L579.04 386.55 L579.52 388.27 L580.00 390.04 L580.49 391.85 L580.97 393.71 L581.45 395.61 L581.93 397.57 L582.42 399.57 L582.90 401.62 L583.38 403.72 L583.86 405.86 L584.35 408.05 L584.83 410.29 L585.31 412.58 L585.79 414.91 L586.28 417.29 L586.76 419.71 L587.24 422.18 L587.72 424.69 L588.21 427.24 L588.69 429.84 L589.17 432.47 L589.66 435.14 L590.14 437.85 L590.62 440.59 L591.10 443.36 L591.59 446.17 L592.07 449.01 L592.55 451.87 L593.03 454.75 L593.52 457.66 L594.00 460.59 L594.48 463.54 L594.96 466.50 L595.45 469.47 L595.93 472.45 L596.41 475.44 L596.89 478.42 L597.38 481.41 L597.86 484.40 L598.34 487.38 L598.82 490.34 L599.31 493.30 L599.79 496.24 L600.27 499.16 L600.75 502.06 L601.24 504.93 L601.72 507.77 L602.20 510.58 L602.68 513.35 L603.17 516.09 L603.65 518.78 L604.13 521.43 L604.61 524.03 L605.10 526.59 L605.58 529.09 L606.06 531.53 L606.54 533.92 L607.03 536.24 L607.51 538.51 L607.99 540.71 L608.48 542.84 L608.96 544.90 L609.44 546.89 L609.92 548.81 L610.41 550.66 L610.89 552.43 L611.37 554.12 L611.85 555.73 L612.34 557.27 L612.82 558.72 L613.30 560.09 L613.78 561.38 L614.27 562.59 L614.75 563.71 L615.23 564.75 L615.71 565.70 L616.20 566.56 L616.68 567.34 L617.16 568.03 L617.64 568.63 L618.13 569.14 L618.61 569.57 L619.09 569.91 L619.57 570.16 L620.06 570.32 L620.54 570.40 L621.02 570.38 L621.50 570.28 L621.99 570.09 L622.47 569.81 L622.95 569.44 L623.43 568.99 L623.92 568.44 L624.40 567.82 L624.88 567.10 L625.36 566.30 L625.85 565.42 L626.33 564.45 L626.81 563.39 L627.30 562.25 L627.78 561.03 L628.26 559.73 L628.74 558.35 L629.23 556.89 L629.71 555.35 L630.19 553.73 L630.67 552.03 L631.16 550.27 L631.64 548.43 L632.12 546.51 L632.60 544.53 L633.09 542.48 L633.57 540.37 L634.05 538.19 L634.53 535.95 L635.02 533.65 L635.50 531.29 L635.98 528.88 L636.46 526.41 L636.95 523.90 L637.43 521.34 L637.91 518.73 L638.39 516.08 L638.88 513.39 L639.36 510.67 L639.84 507.92 L640.32 505.13 L640.81 502.32 L641.29 499.48 L641.77 496.63 L642.25 493.75 L642.74 490.86 L643.22 487.96 L643.70 485.05 L644.18 482.14 L644.67 479.22 L645.15 476.30 L645.63 473.39 L646.11 470.48 L646.60 467.58 L647.08 464.69 L647.56 461.82 L648.05 458.97 L648.53 456.13 L649.01 453.31 L649.49 450.52 L649.98 447.75 L650.46 445.02 L650.94 442.31 L651.42 439.63 L651.91 436.99 L652.39 434.38 L652.87 431.81 L653.35 429.27 L653.84 426.78 L654.32 424.32 L654.80 421.91 L655.28 419.53 L655.77 417.20 L656.25 414.92 L656.73 412.68 L657.21 410.48 L657.70 408.33 L658.18 406.22 L658.66 404.15 L659.14 402.14 L659.63 400.17 L660.11 398.24 L660.59 396.36 L661.07 394.52 L661.56 392.73 L662.04 390.99 L662.52 389.29 L663.00 387.63 L663.49 386.02 L663.97 384.45 L664.45 382.92 L664.93 381.43 L665.42 379.99 L665.90 378.58 L666.38 377.22 L666.87 375.89 L667.35 374.60 L667.83 373.35 L668.31 372.14 L668.80 370.97 L669.28 369.83 L669.76 368.72 L670.24 367.65 L670.73 366.61 L671.21 365.61 L671.69 364.63 L672.17 363.69 L672.66 362.77 L673.14 361.89 L673.62 361.04 L674.10 360.21 L674.59 359.41 L675.07 358.63 L675.55 357.88 L676.03 357.16 L676.52 356.46 L677.00 355.79 L677.48 355.13 L677.96 354.50 L678.45 353.89 L678.93 353.30 L679.41 352.73 L679.89 352.18 L680.38 351.65 L680.86 351.14 L681.34 350.64 L681.82 350.17 L682.31 349.71 L682.79 349.26 L683.27 348.83 L683.75 348.42 L684.24 348.02 L684.72 347.63 L685.20 347.26 L685.69 346.90 L686.17 346.55 L686.65 346.22 L687.13 345.90 L687.62 345.59 L688.10 345.29 L688.58 345.00 L689.06 344.72 L689.55 344.45 L690.03 344.19 L690.51 343.94 L690.99 343.70 L691.48 343.47 L691.96 343.24 L692.44 343.03 L692.92 342.82 L693.41 342.62 L693.89 342.42 L694.37 342.24 L694.85 342.06 L695.34 341.88 L695.82 341.71 L696.30 341.55 L696.78 341.40 L697.27 341.25 L697.75 341.10 L698.23 340.96 L698.71 340.83 L699.20 340.70 L699.68 340.57 L700.16 340.45 L700.64 340.34 L701.13 340.22 L701.61 340.11 L702.09 340.01 L702.57 339.91 L703.06 339.81 L703.54 339.72 L704.02 339.63 L704.50 339.54 L704.99 339.46 L705.47 339.38 L705.95 339.30 L706.44 339.22 L706.92 339.15 L707.40 339.08 L707.88 339.01 L708.37 338.95 L708.85 338.88 L709.33 338.82 L709.81 338.76 L710.30 338.71 L710.78 338.65 L711.26 338.60 L711.74 338.55 L712.23 338.50 L712.71 338.45 L713.19 338.41 L713.67 338.36 L714.16 338.32 L714.64 338.28 L715.12 338.24 L715.60 338.20 L716.09 338.16 L716.57 338.13 L717.05 338.09 L717.53 338.06 L718.02 338.03 L718.50 337.99 L718.98 337.96 L719.46 337.93 L719.95 337.91 L720.43 337.88 L720.91 337.85 L721.39 337.83 L721.88 337.80 L722.36 337.78 L722.84 337.75 L723.32 337.73 L723.81 337.71 L724.29 337.69 L724.77 337.67 L725.26 337.65 L725.74 337.63 L726.22 337.61 L726.70 337.59 L727.19 337.58 L727.67 337.56 L728.15 337.54 L728.63 337.53 L729.12 337.51 L729.60 337.50 L730.08 337.48 L730.56 337.47 L731.05 337.46 L731.53 337.44 L732.01 337.43 L732.49 337.42 L732.98 337.41 L733.46 337.40 L733.94 337.38 L734.42 337.37 L734.91 337.36 L735.39 337.35 L735.87 337.34 L736.35 337.33 L736.84 337.32 L737.32 337.31 L737.80 337.31 L738.28 337.30 L738.77 337.29 L739.25 337.28 L739.73 337.27 L740.21 337.27 L740.70 337.26 L741.18 337.25 L741.66 337.24 L742.14 337.24 L742.63 337.23 L743.11 337.22 L743.59 337.22 L744.08 337.21 L744.56 337.21 L745.04 337.20 L745.52 337.19 L746.01 337.19 L746.49 337.18 L746.97 337.18 L747.45 337.17 L747.94 337.17 L748.42 337.16 L748.90 337.16 L749.38 337.15 L749.87 337.15 L750.35 337.14 L750.83 337.14 L751.31 337.14 L751.80 337.13 L752.28 337.13 L752.76 337.12 L753.24 337.12 L753.73 337.12 L754.21 337.11 L754.69 337.11 L755.17 337.11 L755.66 337.10 L756.14 337.10 L756.62 337.10 L757.10 337.09 L757.59 337.09 L758.07 337.09 L758.55 337.08 L759.03 337.08 L759.52 337.08 L760.00 337.08 L760.48 337.07 L760.96 337.07 L761.45 337.07 L761.93 337.06 L762.41 337.06 L762.89 337.06 L763.38 337.06 L763.86 337.06 L764.34 337.05 L764.83 337.05 L765.31 337.05 L765.79 337.05 L766.27 337.04 L766.76 337.04 L767.24 337.04 L767.72 337.04 L768.20 337.04 L768.69 337.03 L769.17 337.03 L769.65 337.03 L770.13 337.03 L770.62 337.03 L771.10 337.03 L771.58 337.02 L772.06 337.02 L772.55 337.02 L773.03 337.02 L773.51 337.02 L773.99 337.02 L774.48 337.01 L774.96 337.01 L775.44 337.01 L775.92 337.01 L776.41 337.01 L776.89 337.01 L777.29 337.01" stroke="#00007f" stroke-width="2.4" stroke-dasharray="12.6 3"/>
</g>
<path d="M463.00 577.50v-4.6M463.00 330.50v4.6M541.85 577.50v-4.6M541.85 330.50v4.6M620.70 577.50v-4.6M620.70 330.50v4.6M699.55 577.50v-4.6M699.55 330.50v4.6M778.40 577.50v-4.6M778.40 330.50v4.6M456.50 570.40h4.6M785.60 570.40h-4.6M456.50 535.03h4.6M785.60 535.03h-4.6M456.50 499.66h4.6M785.60 499.66h-4.6M456.50 464.29h4.6M785.60 464.29h-4.6M456.50 428.92h4.6M785.60 428.92h-4.6M456.50 393.55h4.6M785.60 393.55h-4.6M456.50 358.18h4.6M785.60 358.18h-4.6" stroke="#666666" stroke-width="0.9" fill="none"/>
<path d="M478.77 577.50v-3M478.77 330.50v3M494.54 577.50v-3M494.54 330.50v3M510.31 577.50v-3M510.31 330.50v3M526.08 577.50v-3M526.08 330.50v3M557.62 577.50v-3M557.62 330.50v3M573.39 577.50v-3M573.39 330.50v3M589.16 577.50v-3M589.16 330.50v3M604.93 577.50v-3M604.93 330.50v3M636.47 577.50v-3M636.47 330.50v3M652.24 577.50v-3M652.24 330.50v3M668.01 577.50v-3M668.01 330.50v3M683.78 577.50v-3M683.78 330.50v3M715.32 577.50v-3M715.32 330.50v3M731.09 577.50v-3M731.09 330.50v3M746.86 577.50v-3M746.86 330.50v3M762.63 577.50v-3M762.63 330.50v3M456.50 563.33h3M785.60 563.33h-3M456.50 556.25h3M785.60 556.25h-3M456.50 549.18h3M785.60 549.18h-3M456.50 542.10h3M785.60 542.10h-3M456.50 527.96h3M785.60 527.96h-3M456.50 520.88h3M785.60 520.88h-3M456.50 513.81h3M785.60 513.81h-3M456.50 506.73h3M785.60 506.73h-3M456.50 492.59h3M785.60 492.59h-3M456.50 485.51h3M785.60 485.51h-3M456.50 478.44h3M785.60 478.44h-3M456.50 471.36h3M785.60 471.36h-3M456.50 457.22h3M785.60 457.22h-3M456.50 450.14h3M785.60 450.14h-3M456.50 443.07h3M785.60 443.07h-3M456.50 435.99h3M785.60 435.99h-3M456.50 421.85h3M785.60 421.85h-3M456.50 414.77h3M785.60 414.77h-3M456.50 407.70h3M785.60 407.70h-3M456.50 400.62h3M785.60 400.62h-3M456.50 386.48h3M785.60 386.48h-3M456.50 379.40h3M785.60 379.40h-3M456.50 372.33h3M785.60 372.33h-3M456.50 365.25h3M785.60 365.25h-3M456.50 351.11h3M785.60 351.11h-3M456.50 344.03h3M785.60 344.03h-3M456.50 336.96h3M785.60 336.96h-3" stroke="#787878" stroke-width="0.9" fill="none"/>
<rect x="456.50" y="330.50" width="329.10" height="247.00" fill="none" stroke="#a4a4a4" stroke-width="1"/>
<text x="453.60" y="575.80" text-anchor="end" font-size="21">0.0</text>
<text x="453.60" y="540.43" text-anchor="end" font-size="21">0.1</text>
<text x="453.60" y="505.06" text-anchor="end" font-size="21">0.2</text>
<text x="453.60" y="469.69" text-anchor="end" font-size="21">0.3</text>
<text x="453.60" y="434.32" text-anchor="end" font-size="21">0.4</text>
<text x="453.60" y="398.95" text-anchor="end" font-size="21">0.5</text>
<text x="453.60" y="363.58" text-anchor="end" font-size="21">0.6</text>
<text x="463.00" y="596" text-anchor="middle" font-size="21"><tspan>−</tspan><tspan dx="2.4">10</tspan></text>
<text x="541.85" y="596" text-anchor="middle" font-size="21"><tspan>−</tspan><tspan dx="2.4">5</tspan></text>
<text x="620.70" y="596" text-anchor="middle" font-size="21">0</text>
<text x="699.55" y="596" text-anchor="middle" font-size="21">5</text>
<text x="778.40" y="596" text-anchor="middle" font-size="21">10</text>
<text x="621.65" y="623.8" text-anchor="middle" font-size="22" font-style="italic">ρ</text>
<text y="323.70" font-size="24.3"><tspan x="542.63">(d)</tspan><tspan x="578.24">4</tspan><tspan x="590.71" font-style="italic">π</tspan><tspan x="603.21" font-style="italic" font-size="27">η</tspan><tspan x="616.01" dy="4.2" font-size="30.5">/</tspan><tspan x="624.51" dy="-4.2">s</tspan><tspan x="640.46" dy="2.7" font-size="26" stroke="#000" stroke-width="0.35">=</tspan><tspan x="662.21" dy="-2.7" letter-spacing="0.3">100</tspan></text>
</g>
<g>
<path d="M73 209.5H115.6" stroke="#000" stroke-width="3.1" fill="none"/>
<path d="M73.5 234.9H112.2" stroke="#ff0000" stroke-width="2.4" stroke-dasharray="6.6 3" fill="none"/>
<path d="M73.5 260.3H115.3" stroke="#00007f" stroke-width="2.4" stroke-dasharray="12.8 3" fill="none"/>
<text x="122" y="213.1" font-size="13.4" letter-spacing="0.06">Kinetic Exact</text>
<text x="122" y="238.8" font-size="13.4" letter-spacing="0.06">IS Hydro</text>
<text x="122" y="263.6" font-size="13.4" letter-spacing="0.06">DNMR Hydro</text>
</g>
</svg>
</body></html>
